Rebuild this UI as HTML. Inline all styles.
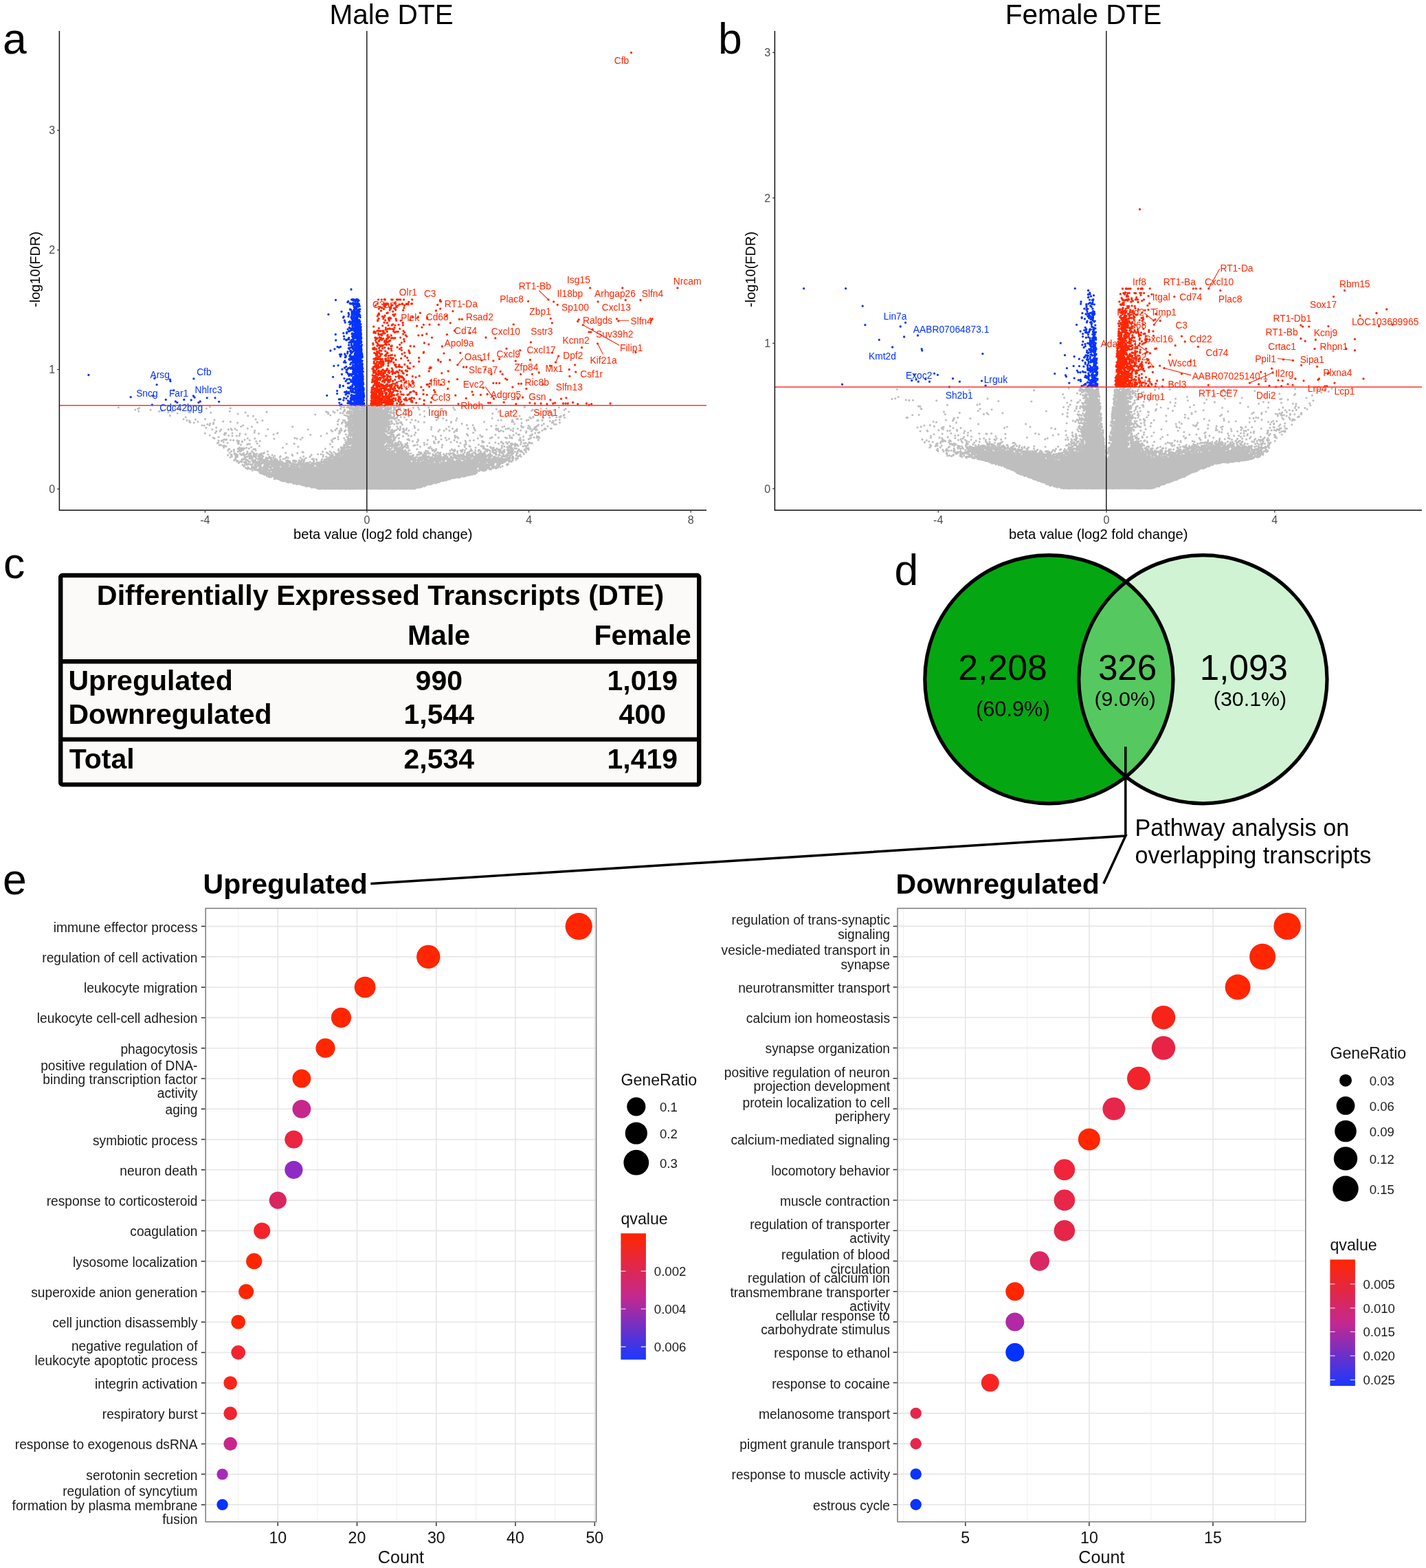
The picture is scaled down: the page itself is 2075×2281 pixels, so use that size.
<!DOCTYPE html>
<html lang="en">
<head>
<meta charset="utf-8">
<title>Differentially expressed transcripts: volcano plots, Venn diagram and pathway analysis</title>
<style>
html,body{margin:0;padding:0;background:#fff}
body{width:2075px;height:2281px;overflow:hidden}
svg{display:block;font-family:'Liberation Sans', sans-serif}
</style>
</head>
<body>
<svg width="2075" height="2281" viewBox="0 0 2075 2281" role="img" aria-label="Figure: volcano plots of male and female differentially expressed transcripts, summary table, Venn diagram and pathway dot plots">
<rect width="2075" height="2281" fill="#fff"/>
<path d="M398.2 677.8L398.2 696.8L408.8 699.2L414.8 701.2L416.8 701.2L417.2 701.8L423.8 702.8L430.8 704.8L435.2 705.2L442.2 707.2L446.8 707.8L453.8 709.8L458.2 710.2L458.8 710.8L460.2 710.8L460.8 711.8L462.2 712.2L603.8 712.2L604.8 710.8L612.2 709.2L614.2 708.2L615.8 708.2L621.8 706.2L627.2 705.2L629.2 704.2L636.8 702.8L638.8 701.8L644.2 700.8L646.2 699.8L651.8 698.8L653.8 697.8L665.2 695.8L665.8 695.2L667.8 695.2L668.2 694.8L670.2 694.8L670.8 694.2L672.8 694.2L673.2 693.8L675.2 693.8L675.8 693.2L677.8 693.2L678.2 692.8L680.2 692.8L687.8 690.2L689.2 690.2L692.8 688.8L692.8 667.8L687.8 668.8L687.2 669.2L685.2 669.2L682.8 670.2L667.8 671.8L667.2 672.2L663.8 672.2L663.2 672.8L659.8 672.8L659.2 673.2L603.8 675.2L577.2 659.2L565.2 655.2L563.2 655.2L558.2 650.2L558.2 648.2L558.8 647.8L558.8 640.8L559.2 640.2L559.2 634.8L559.8 634.2L560.8 619.8L561.2 619.2L562.2 605.2L562.8 604.8L562.8 595.8L513.2 595.8L515.8 649.8L510.2 655.2L505.2 655.2L489.2 671.8L488.2 671.8L476.8 676.8L474.2 677.2L462.8 682.2L414.8 681.2L414.2 680.8L409.8 680.2L407.2 679.2Z" fill="#bebebe" fill-rule="evenodd"/>
<path d="M305.4 591.7h0M497.1 592h0M507.2 592.3h0M518.2 591.9h0M520 591.8h0M522.1 591.8h0M526.4 591.8h0M528 592.2h0M530.1 592.3h0M533.2 592.4h0M536.4 592.2h0M536.8 592.1h0M540.4 592.5h0M540.6 592.2h0M540.6 591.9h0M541.3 592.2h0M543.6 591.9h0M545.9 591.8h0M546.1 592.2h0M546.6 591.9h0M548.5 591.5h0M548.5 591.5h0M552.3 592h0M554.2 592h0M554.5 592.1h0M554.8 591.8h0M555.6 591.6h0M556.6 591.6h0M557.3 592.1h0M558.9 592h0M564.4 592.3h0M569.1 592.3h0M573.2 592.2h0M577.2 591.7h0M578 591.5h0M580.1 592.1h0M763.3 592.4h0M763.5 591.8h0M172.4 592.8h0M500.6 592.5h0M505.1 592.8h0M507.7 592.6h0M510.1 592.8h0M510.9 592.9h0M512.2 593.2h0M512.2 592.7h0M513.8 593h0M516 593.4h0M517.6 593.1h0M518.8 592.7h0M523.2 593.4h0M523.5 593.4h0M527.4 593.5h0M529.2 593.1h0M531.3 592.6h0M533.7 593.3h0M534.8 592.7h0M536 592.8h0M536.6 593h0M539.5 592.6h0M539.7 592.8h0M540.6 593.5h0M541 593.2h0M542.4 593.4h0M542.4 593.3h0M551 593.2h0M551.6 593h0M553.2 593.2h0M553.5 593h0M556.9 592.5h0M560.8 592.6h0M562.4 593.2h0M562.9 593.4h0M564.7 593h0M564.8 593.4h0M568.1 592.9h0M573.2 593.3h0M574.8 593.1h0M601.4 593.1h0M608.5 592.9h0M623.7 592.9h0M659.7 593.1h0M813.4 592.7h0M202.8 593.6h0M260.2 594.1h0M300.4 594.2h0M335.3 593.8h0M510.1 594.2h0M510.9 593.6h0M514.1 593.9h0M515.8 593.9h0M516 594.4h0M519.6 594.3h0M525.7 594.2h0M525.9 594.1h0M527.3 593.7h0M534.4 593.8h0M535.5 594.2h0M541.2 593.6h0M542.4 594h0M544.1 594h0M545.4 594.4h0M549.5 594.5h0M549.8 593.8h0M550.3 593.5h0M554.9 593.9h0M561 594.1h0M564.3 594.2h0M564.6 593.8h0M565.3 594h0M566.2 594h0M573.6 594h0M582.4 593.9h0M795.1 594.3h0M200.6 594.7h0M255 594.9h0M495.5 594.5h0M509 594.5h0M509 594.9h0M511.8 595.3h0M512.3 594.7h0M513.9 594.6h0M516.3 594.6h0M518.8 595h0M518.9 595.2h0M520.4 594.7h0M521.5 594.7h0M526.8 594.9h0M528.5 595.1h0M528.7 594.5h0M529.5 595.1h0M531.3 595.1h0M531.8 595h0M533 594.8h0M538.3 594.8h0M539.3 594.9h0M540 594.6h0M540.2 594.8h0M540.4 594.6h0M541.4 594.6h0M544.3 595h0M544.9 594.5h0M545.2 594.8h0M546.9 595.1h0M547.4 595.3h0M547.6 595.4h0M548.8 595.4h0M555.5 595.3h0M555.7 594.8h0M559.9 595.4h0M562.4 595.3h0M565.9 594.6h0M568.8 595.1h0M574.2 595.1h0M580.2 594.8h0M641.8 595h0M643.2 594.8h0M722.4 595.3h0M823.3 594.6h0M196.7 596h0M219.1 596.3h0M501.4 596.1h0M513.3 595.8h0M513.4 595.5h0M513.7 595.6h0M515.4 595.7h0M517.5 596.4h0M526.8 595.6h0M529.3 596.2h0M530.7 596.3h0M531.5 596h0M536.2 596.4h0M538.5 595.8h0M542.4 595.8h0M548 596.2h0M548.4 596h0M552.3 596.1h0M555.3 595.7h0M559.6 595.7h0M560.4 596.2h0M561.2 595.7h0M561.6 596.3h0M562.4 596.4h0M564.6 596.4h0M566.1 595.5h0M575.8 596.4h0M587.9 595.6h0M592.6 596.5h0M609.9 595.8h0M661.6 595.9h0M775.3 596h0M821.2 596.4h0M247.1 596.5h0M491.1 596.7h0M501.6 597h0M515.2 597.2h0M515.3 596.9h0M520 597.5h0M529.3 596.8h0M531.9 597h0M531.9 596.8h0M532.4 597.4h0M534 596.7h0M534.2 596.7h0M537.3 596.9h0M538.2 597.3h0M538.6 596.8h0M540.2 596.6h0M543.5 597.4h0M545.5 597.3h0M546.4 597.4h0M550.5 597h0M551.8 597.2h0M553 596.9h0M560.1 597h0M561.8 596.7h0M562.4 596.8h0M563.1 596.5h0M563.7 596.9h0M564.7 596.8h0M572.5 597h0M201.8 598.2h0M235.2 598h0M251.2 598.1h0M277.9 597.9h0M334.3 598.4h0M508.8 598.2h0M515.3 598h0M565.5 598.5h0M569.1 598.3h0M577.9 598.4h0M578.3 598.4h0M617.3 598.1h0M773.6 597.5h0M796.6 597.6h0M231.7 598.5h0M250.4 598.7h0M275 599.5h0M388 599.4h0M474.5 598.8h0M484.8 598.7h0M500.3 598.8h0M506.1 598.6h0M506.5 598.6h0M509.4 598.7h0M511.4 599.2h0M511.5 598.6h0M515.1 599.2h0M515.2 599.1h0M561.9 599.1h0M562.3 599.5h0M562.4 598.5h0M564.1 599.5h0M595.8 599.4h0M725.4 598.8h0M795.1 599.3h0M796.9 598.5h0M799.7 599h0M827.8 599h0M244.8 599.8h0M276.5 600h0M306.8 600.2h0M357.2 600.1h0M475.9 599.6h0M477.6 600.4h0M487 600.2h0M514.3 600h0M561.4 599.7h0M565.7 599.5h0M567.8 599.8h0M572.1 600.5h0M573.2 599.8h0M648.8 600.4h0M745.7 599.8h0M780.3 599.7h0M258.2 601.2h0M495.3 600.9h0M498.8 601h0M504.4 600.7h0M506 601.3h0M507.7 601.1h0M508.6 601h0M560.5 600.6h0M562.7 600.5h0M570 600.5h0M572.9 601.2h0M574.1 600.9h0M346.1 602h0M477.7 602h0M511.2 601.9h0M511.7 602.2h0M514.8 601.6h0M563.9 602.2h0M716.8 601.6h0M784.3 601.7h0M458.8 603h0M509.8 603.2h0M514.4 603.1h0M560.7 603.2h0M563.4 602.9h0M567.8 602.8h0M611 603.2h0M803.9 602.5h0M480.8 604h0M501.2 603.7h0M512.1 603.8h0M515.1 604h0M562.1 603.8h0M563.3 604.3h0M564.9 604.2h0M566.3 603.8h0M573.7 603.8h0M820.1 604.3h0M821.1 603.5h0M247.5 604.6h0M360.8 604.9h0M368.4 605.2h0M504 604.7h0M505.3 605.1h0M509.7 604.6h0M510 605.4h0M514.2 605.2h0M561.5 604.6h0M561.8 605.4h0M563.9 604.8h0M565.6 605.1h0M566.6 604.9h0M567 605.1h0M568.5 604.8h0M573.6 605h0M638.7 605.1h0M756.1 605.1h0M803.9 605h0M816.3 605.4h0M507.5 605.9h0M507.8 605.8h0M509.4 605.6h0M510.1 606.1h0M510.7 606.3h0M513.2 605.6h0M514.3 605.8h0M515.4 606.1h0M563.3 606h0M565.6 605.6h0M566.4 606.4h0M568.9 606.3h0M573.1 606.2h0M578.4 606h0M594.9 605.8h0M617.8 605.9h0M736.4 606h0M776 606.2h0M270.2 606.9h0M506.9 607.5h0M507.3 607.3h0M508.2 607.1h0M512.9 606.6h0M514.4 607.2h0M561.2 607.3h0M562.6 607h0M565.2 607.1h0M571.7 607h0M583.1 606.8h0M588.7 607.3h0M770.8 607.1h0M775.7 607.2h0M799.8 607.4h0M809.7 607h0M814.1 606.6h0M815.5 606.7h0M511.6 607.5h0M513.2 608.2h0M513.9 607.5h0M567.7 607.7h0M568.8 608.5h0M570.1 608.1h0M572.7 607.6h0M575.6 608.4h0M577.6 608.1h0M637.6 608.4h0M716.2 608.5h0M772.5 608.5h0M790.3 607.6h0M790.5 607.9h0M821.7 607.5h0M506.7 609.1h0M509.9 608.6h0M509.9 608.7h0M513.9 609.3h0M564.2 609.2h0M564.9 609.1h0M565 609.4h0M566.8 608.8h0M571.2 608.5h0M576 608.8h0M644.8 608.7h0M664.8 608.5h0M753.5 609.3h0M267.1 609.8h0M284.5 610.2h0M298.5 609.6h0M372.2 610.1h0M493.1 610.2h0M508 610.4h0M515.3 610.2h0M516 610.2h0M562.6 609.7h0M565.6 610.3h0M574.2 609.8h0M752.1 609.8h0M758.4 609.6h0M312 610.9h0M499.4 611.3h0M509.8 610.9h0M511.1 611.1h0M512.5 610.9h0M515 610.6h0M579.8 610.9h0M580.5 611.2h0M591.6 610.5h0M599.2 610.6h0M604.7 611.4h0M635.3 611.1h0M649.7 611.4h0M724.9 611.2h0M729.3 611.3h0M745.5 611.1h0M768.8 610.7h0M783 611.4h0M789.2 611.4h0M808.5 611.3h0M814.2 610.7h0M272 611.6h0M275.6 612.2h0M381.9 611.7h0M501.6 611.5h0M511.5 612.2h0M561.2 611.6h0M561.4 612.1h0M561.7 611.8h0M562 611.8h0M562.9 611.9h0M563.4 612.4h0M569.8 612.2h0M663.7 611.5h0M766.4 611.6h0M781.8 611.8h0M800.2 612.5h0M805 612.2h0M324.7 613.1h0M335.3 613.4h0M491.7 612.8h0M507.5 613.4h0M512 612.7h0M512.4 612.6h0M559.7 613.2h0M561.7 613.1h0M566.8 613.2h0M569.7 613.1h0M576.5 612.9h0M608.8 613.3h0M745 613.4h0M275.7 613.6h0M276.9 614.5h0M288 613.5h0M374.4 614.4h0M498.7 614.2h0M502.4 614.2h0M503 614.1h0M505.9 614.3h0M509.8 613.6h0M509.9 613.8h0M510.3 614h0M514.4 613.6h0M560.8 614.2h0M563.9 614.4h0M564.8 614h0M565.7 613.8h0M583.5 614.4h0M617.3 614.2h0M656.3 614.5h0M656.7 613.5h0M704.6 613.6h0M746.9 613.7h0M282.3 615h0M310.8 615h0M345.6 615.1h0M507.7 614.6h0M564.5 615.1h0M566.5 615h0M582.3 614.6h0M583.8 615.4h0M584.2 615.2h0M597.2 614.8h0M803.2 614.7h0M804.8 614.8h0M814.4 614.7h0M305.7 616.2h0M497.4 615.9h0M503.4 616.2h0M506.3 616.3h0M507 616.3h0M507.7 615.6h0M509.1 616.2h0M511.6 616.1h0M512.9 616.1h0M515.5 616.1h0M560.4 615.8h0M560.8 615.9h0M564.6 616.1h0M570.6 615.7h0M577.2 616.3h0M578.6 616.2h0M579.2 615.6h0M672.1 616.4h0M759.1 615.6h0M301.8 617.2h0M310.2 616.8h0M491.6 617.4h0M514.1 616.6h0M514.8 616.6h0M562 616.8h0M562.5 617.4h0M568.3 617h0M573.6 617.1h0M748.6 616.7h0M791.3 616.6h0M806.5 617.2h0M809.2 617.3h0M304.9 618.4h0M505.2 618.3h0M507.2 618.4h0M509.6 618h0M510.3 618.1h0M511.2 618.4h0M515.7 618h0M559.4 618.2h0M559.5 618h0M563.2 618.5h0M565.7 618h0M585.4 617.7h0M679.4 618.4h0M783.6 617.9h0M294 618.7h0M297.2 619h0M353.6 618.7h0M506.2 619.2h0M506.5 619.2h0M509.7 619.1h0M511.1 618.9h0M511.6 619.3h0M511.7 619.1h0M561.8 619h0M688.1 618.6h0M722.1 619h0M758.5 619.4h0M769 619.3h0M782.5 619h0M788.5 618.7h0M503.1 619.5h0M512.1 620h0M514 619.7h0M564.6 620.5h0M602.9 619.8h0M714.9 619.7h0M733.9 620.2h0M780.7 620.3h0M797 620.2h0M350.7 620.5h0M366.5 620.8h0M425.6 620.9h0M503.4 621h0M507.3 621.1h0M507.6 620.8h0M509.1 621.2h0M509.2 621.3h0M511.1 620.6h0M511.7 620.8h0M513.6 620.6h0M514.9 620.6h0M515.6 620.6h0M561.7 620.9h0M562.3 621.3h0M565.2 620.8h0M567.7 621.1h0M577.8 620.6h0M582.6 620.9h0M653.3 620.7h0M731 621h0M761.5 621.2h0M771 621h0M299.9 622.2h0M314.7 622.1h0M508.9 621.7h0M512 621.6h0M513.4 622h0M565.2 621.8h0M603.6 622.4h0M627.8 621.6h0M689.6 622h0M759.2 621.5h0M778.5 621.6h0M778.9 622h0M360.3 623.2h0M490.1 623.4h0M507.2 622.7h0M508.5 622.6h0M513.7 623h0M514.1 623.5h0M514.6 623.2h0M565.2 622.6h0M579.3 623.3h0M587.4 623.5h0M591.8 623.2h0M658.5 623.5h0M681 623.4h0M721.9 623.2h0M739 623.4h0M740.6 623.3h0M746.8 623.5h0M768.4 622.9h0M771.9 623.2h0M777.5 623.4h0M779.6 622.5h0M793.1 623.3h0M801.5 623.2h0M802.3 623.5h0M336.2 623.8h0M342 623.7h0M389.8 624.4h0M496 623.5h0M509.3 624h0M510.9 623.5h0M511.6 623.9h0M512.3 623.9h0M514.6 624.1h0M516.2 623.6h0M558.6 624h0M560.7 623.9h0M561.3 624h0M566.7 623.9h0M582.5 624.1h0M586.4 624.1h0M649.3 624.1h0M665 624.4h0M690.3 624.3h0M724.8 623.8h0M736 624h0M753.5 623.7h0M771.4 624.3h0M794 624.2h0M308.8 624.8h0M321.7 624.8h0M332.4 624.9h0M448.1 624.7h0M496.5 624.6h0M509.2 625.4h0M511.3 624.9h0M511.5 625h0M559.1 625.5h0M561.1 625.4h0M561.1 625.5h0M561.4 624.5h0M561.5 624.8h0M564.8 624.5h0M570.5 625.1h0M577.2 625.1h0M581.6 625.4h0M591 625.1h0M608.6 625.3h0M627.6 624.8h0M639.7 625.3h0M708.1 624.8h0M721.9 625.1h0M724.6 625.4h0M743.4 625.5h0M774.9 625h0M781.4 625.3h0M791.9 624.5h0M337.4 625.6h0M344.6 625.7h0M370.7 626.4h0M481.9 625.8h0M488 625.6h0M496.9 626.3h0M502.7 625.9h0M506.9 625.8h0M509.1 625.5h0M512.5 625.5h0M516 626h0M560.1 626.2h0M565.6 625.8h0M571.1 625.9h0M574.9 626.3h0M588.1 626.3h0M594.9 626.3h0M654 626.4h0M663.1 626.2h0M691.5 626.1h0M729 626.4h0M757.5 626.1h0M779.8 625.6h0M789 626.3h0M314.9 627.4h0M320.2 627.1h0M494.1 626.7h0M501.6 627.4h0M516 627.2h0M516.8 626.8h0M558.8 626.5h0M561.4 627.4h0M562 627.1h0M564.8 626.7h0M568.7 626.8h0M573.1 627.4h0M573.2 627h0M573.6 627.4h0M573.8 627.1h0M646.1 626.6h0M664.6 626.9h0M726.2 627.5h0M746.4 626.9h0M765.9 627.2h0M773.6 627.3h0M483.7 627.5h0M508 628h0M511.5 627.9h0M513.8 627.8h0M516.4 627.8h0M558.4 628.4h0M561.3 628h0M562.1 627.9h0M562.5 628.1h0M569.1 627.9h0M586.1 628.3h0M637.9 627.6h0M660.9 628.5h0M732.4 627.5h0M370.2 629.3h0M493.9 628.7h0M494.8 628.9h0M509.7 628.9h0M513.9 628.7h0M513.9 628.8h0M514.4 629.2h0M515.8 629.2h0M558.3 628.9h0M567.6 629.3h0M572.1 629h0M587.8 629.1h0M604.7 629.4h0M688.7 629.4h0M765.7 629.2h0M783.1 629.5h0M784.9 628.7h0M298.3 630.2h0M313.4 629.8h0M327.6 629.9h0M328.9 630.2h0M338.1 630.1h0M403.6 630.4h0M404.1 629.7h0M508.4 629.9h0M514.4 629.6h0M515.1 630.1h0M564.3 630.2h0M565.4 629.8h0M565.6 630h0M565.8 630.5h0M567.8 630.1h0M570.8 629.9h0M751.2 630.2h0M778.6 630h0M326.8 630.8h0M349.1 630.9h0M376.4 630.8h0M475.7 630.6h0M493.2 630.7h0M508.8 630.7h0M508.9 631.3h0M510.8 631h0M511 631.3h0M514.2 631.3h0M558.6 630.8h0M569.3 631.4h0M570.2 631.2h0M590.8 630.8h0M592.5 631.1h0M679.3 631.5h0M326.4 632.2h0M357.3 631.7h0M398 632h0M503.4 632h0M510.3 631.6h0M512.2 631.8h0M516.6 631.9h0M559.9 631.6h0M570.3 631.6h0M580.9 632.5h0M580.9 631.8h0M754.2 632.3h0M755.7 632.3h0M774.5 631.9h0M305.2 633.2h0M327 632.6h0M451.8 632.6h0M507.6 633.1h0M509.7 633.4h0M509.9 632.7h0M510.8 632.6h0M514.1 633.5h0M515.3 633.2h0M557.7 633.1h0M559.3 633.2h0M561.3 632.5h0M561.6 633.2h0M572.7 632.6h0M578.8 632.7h0M578.9 632.7h0M603.3 632.7h0M680.8 633.4h0M698.7 633.1h0M721 632.5h0M747.2 632.9h0M773.1 633.1h0M332.6 633.7h0M338 634h0M344.4 634.3h0M348.2 633.9h0M387.2 634h0M467 634.2h0M509.7 633.9h0M512.8 633.6h0M515.3 634.2h0M515.7 633.7h0M562.7 634h0M568.5 633.6h0M571.9 634.4h0M577.7 633.7h0M594.4 633.5h0M598.6 634.4h0M629.8 634.4h0M641.6 633.8h0M661.9 633.7h0M741.6 633.8h0M771.3 633.7h0M491.9 635.5h0M505.8 635.2h0M510 634.5h0M513.4 634.6h0M514.9 634.9h0M559.9 635h0M565.4 635.4h0M566.5 635.1h0M572.9 635h0M586.4 634.6h0M665.2 635.5h0M702.1 634.9h0M761.6 635h0M781.3 634.8h0M783.8 635.3h0M318.1 635.7h0M505.1 635.6h0M506.5 636.3h0M513.5 635.7h0M513.8 636.1h0M562.6 635.7h0M564.4 636.3h0M565.7 636h0M567.2 635.6h0M569.5 635.8h0M633.5 635.9h0M662.9 635.8h0M700.7 635.5h0M715.7 636h0M716.1 636.5h0M744.6 636.3h0M777.2 636.2h0M782.1 636.2h0M310.2 636.8h0M429 637.2h0M440 636.7h0M487.6 637.4h0M500.7 637.5h0M515.6 637.3h0M516 636.8h0M557.7 637.1h0M561.6 636.5h0M574.3 636.6h0M575.8 636.6h0M648.2 636.9h0M662.2 636.8h0M666.9 637.5h0M713.2 637.5h0M725.4 636.6h0M735.3 636.5h0M737.6 637.3h0M742 636.8h0M757 637h0M772.6 636.8h0M781.3 636.8h0M784.9 637h0M312.1 637.8h0M360.3 637.8h0M370.7 637.9h0M398.9 638.3h0M432 638.1h0M485 638.3h0M507.4 638.4h0M508.7 638.4h0M510.1 637.9h0M510.2 637.7h0M559.6 637.8h0M560.3 637.6h0M562.8 637.8h0M563.2 638.2h0M565.1 638h0M567 637.7h0M572.7 637.6h0M580.4 637.6h0M653.4 638.3h0M695.4 637.8h0M745 637.5h0M770.8 638h0M326.5 639.4h0M329.6 639.4h0M437.5 639.2h0M492.1 638.8h0M506.1 638.7h0M509.9 639h0M512.1 638.7h0M513.3 638.6h0M514 639h0M515.8 639.4h0M517.1 639.3h0M562.5 638.8h0M565.9 639.1h0M569.5 639.1h0M573.2 639.3h0M574.2 639.4h0M592.9 639.3h0M594.3 639.3h0M594.9 639.4h0M634.2 638.9h0M642.1 639h0M769.3 639h0M328.9 639.9h0M335.4 640.2h0M339.7 640.4h0M356 639.7h0M363.3 640.5h0M502.4 640.3h0M511.4 639.9h0M514.6 640.2h0M558.3 640.4h0M558.7 640.1h0M559.1 640.2h0M559.7 639.7h0M561.8 639.7h0M562.2 639.6h0M563.3 639.5h0M567 640.3h0M574.3 640.2h0M608.3 639.5h0M622.3 640.1h0M649.8 640.2h0M661 640.4h0M755.6 640.3h0M756.3 639.6h0M757.9 640.4h0M761.8 640.2h0M783.3 639.9h0M318.2 641h0M322.4 641.3h0M323.9 640.5h0M344.8 640.8h0M482.7 640.6h0M505.8 641.2h0M506.2 641.1h0M507.7 640.7h0M509.8 641.1h0M512.8 641.4h0M557.9 641.2h0M558.3 640.7h0M558.4 640.9h0M560.6 641.2h0M561.1 641h0M565.5 640.7h0M595.6 640.6h0M608.5 640.9h0M677.2 641.2h0M683.8 640.9h0M689.4 640.5h0M701.7 641.5h0M346.8 642.1h0M347.3 642.2h0M347.7 641.6h0M352.3 642.1h0M372.9 642h0M378.4 641.5h0M507 642.2h0M509.1 642.3h0M509.2 642.1h0M514 641.8h0M514.5 641.9h0M517.4 642h0M559.4 641.7h0M559.5 642.3h0M564.7 642h0M566.6 641.8h0M568.1 641.8h0M570 642.4h0M571.1 641.6h0M571.7 641.9h0M580.9 642h0M600.5 641.9h0M631.4 642.4h0M325.3 643.2h0M352.5 642.9h0M483.7 642.8h0M503.8 643.3h0M504.3 643.2h0M511.5 643.3h0M512.6 642.7h0M513.7 643.5h0M516.7 643.4h0M563.5 642.6h0M565.6 643.2h0M579.5 643.4h0M606.7 643.3h0M638.7 642.6h0M656 643.2h0M665 642.9h0M702.2 643.4h0M703.9 643.1h0M729.1 642.9h0M736.5 643.2h0M740.7 643.1h0M758.4 643.4h0M317.6 643.9h0M331.2 644.3h0M346 643.5h0M502.8 643.8h0M503.8 644.2h0M505.5 643.9h0M508.4 644h0M510.6 643.8h0M512 643.9h0M512.1 643.7h0M513.1 644.4h0M513.6 643.7h0M514.7 643.8h0M516.2 643.5h0M560.6 643.6h0M564.3 644.1h0M564.9 643.9h0M567 644.1h0M567.4 644.3h0M568.9 643.6h0M571 643.9h0M575.3 644h0M578.8 644.1h0M583.1 643.9h0M583.4 643.8h0M617.2 644.2h0M631.9 644.4h0M637.7 644h0M669.9 644.5h0M677.9 643.5h0M712 644.5h0M720.8 643.8h0M730.7 643.9h0M765 644.4h0M769.9 643.6h0M770.5 643.9h0M316.5 644.6h0M346.6 645.5h0M347.5 645.3h0M374.4 645.3h0M428.2 645.4h0M503.7 644.7h0M505.6 645.5h0M508.3 644.9h0M509.1 645h0M512.2 644.7h0M515.8 644.5h0M559.2 645.2h0M568.6 644.8h0M571.1 644.9h0M574.7 645.3h0M583 645.2h0M592.8 644.6h0M632.5 644.8h0M725.6 645.3h0M732.5 645.5h0M738.2 645.5h0M738.3 645h0M744.9 645.1h0M750.2 645.5h0M762.4 644.9h0M772.4 644.8h0M774.2 644.7h0M359.8 646.5h0M361.3 645.7h0M363.3 645.9h0M417.2 645.7h0M480.6 646.1h0M505.1 646.3h0M505.6 645.7h0M507.1 645.8h0M508.2 645.8h0M509.5 646.2h0M514.2 646.1h0M515.1 645.6h0M557.2 646.3h0M557.3 646.1h0M566.6 645.5h0M577.5 645.9h0M579.5 645.7h0M590 645.9h0M592 645.8h0M621.4 646.2h0M678 646.4h0M743.3 645.6h0M748.6 646.4h0M748.9 645.7h0M750.3 645.8h0M757.6 646.3h0M768.2 646h0M319.2 647.4h0M321.6 647.5h0M350.5 647h0M500.6 647.2h0M500.7 647.3h0M502.2 647.4h0M502.4 647.1h0M502.5 647.3h0M512.5 647.5h0M515.9 646.8h0M563.3 646.9h0M566.4 647.2h0M570.9 647h0M573 647.3h0M573.7 647h0M574 646.7h0M574.2 647.4h0M580.8 647.1h0M584.9 646.8h0M585.5 647.1h0M592.2 647.3h0M607.4 647.3h0M617.6 647.2h0M643.6 647.4h0M675.9 647.3h0M696.5 646.8h0M745.7 646.6h0M752.6 646.7h0M326.2 648.2h0M502 647.6h0M512.4 648.4h0M513.7 648.2h0M557.6 647.6h0M562.4 648h0M565.3 648.4h0M567 648.2h0M569.5 647.9h0M569.5 647.7h0M574 648.3h0M576.1 647.5h0M576.2 648.2h0M577.5 647.9h0M578.8 647.6h0M578.9 647.7h0M584.3 647.8h0M589.5 648.4h0M601.9 648.2h0M604 647.6h0M744 648.1h0M750.7 647.7h0M763.7 648.5h0M767.6 648.5h0M324.6 648.7h0M328.7 649.2h0M328.8 649.4h0M377.5 648.8h0M500.5 649.3h0M501.5 649.2h0M505.1 649h0M507 649h0M513.1 649.1h0M513.4 649.1h0M559.1 649.5h0M560.9 649.3h0M566.5 649.1h0M569.5 649h0M570.2 649.5h0M570.4 649h0M570.5 649.3h0M570.9 648.8h0M572.2 648.6h0M572.5 648.8h0M576.3 648.5h0M593.5 648.7h0M667.6 649h0M682.9 648.7h0M700.1 648.9h0M702 649h0M703.1 648.9h0M709 648.7h0M730.3 648.5h0M733.6 649.3h0M740.8 648.6h0M741.4 649.3h0M749.3 649.3h0M753.8 648.8h0M754 648.5h0M761 649.2h0M764.9 648.7h0M433.9 649.9h0M483.8 650.1h0M506.1 650.2h0M506.8 650.2h0M508.1 650.4h0M509.6 650.3h0M511.9 649.8h0M512.2 650h0M515 649.9h0M516.5 649.9h0M560.3 649.6h0M562.6 649.6h0M566.5 649.5h0M576.9 649.8h0M577.5 649.5h0M584 649.9h0M586.1 650h0M587.9 650.3h0M588.4 649.9h0M593.4 650.2h0M611.4 649.7h0M626.3 650h0M676.3 650h0M684.2 649.8h0M703.7 649.7h0M713.6 650.4h0M733.9 649.8h0M737.9 650.4h0M740.9 649.6h0M325.7 651.1h0M348.5 651.1h0M358.5 651.5h0M365.6 650.6h0M411.6 651.2h0M496.2 650.5h0M499 651h0M503.6 651.4h0M505.2 650.7h0M507.7 651.3h0M510.3 650.9h0M511.2 651h0M513.1 650.8h0M557.8 650.9h0M558.3 650.7h0M562.2 651.3h0M573.7 651h0M574.9 651.2h0M576.8 651h0M581.5 651.4h0M581.6 650.9h0M591.4 651.1h0M643 650.8h0M692.1 651.2h0M704.1 650.8h0M714.6 651.4h0M717.8 651h0M718.3 651.2h0M730.4 651h0M740.8 651h0M743.7 650.5h0M765.8 651.4h0M350.1 652h0M352 652.2h0M353.1 652.2h0M354.8 652.1h0M355.5 652.4h0M496.4 651.7h0M497.8 652.1h0M501.8 651.6h0M506.9 651.7h0M513.2 651.9h0M562.7 651.7h0M563.6 652.3h0M565.7 651.9h0M565.8 652h0M570.3 651.8h0M576.5 652.3h0M578 652h0M578.9 652.1h0M585.3 652.3h0M586 651.9h0M593.8 651.7h0M623.5 651.6h0M625 651.9h0M702.9 651.6h0M704.3 652.5h0M717.2 652.4h0M717.9 651.7h0M722.8 652.5h0M730.2 652h0M743 651.6h0M745.6 652h0M749.1 652.3h0M751.4 652.2h0M767.2 652.4h0M769.2 652h0M333.9 653.3h0M346.1 652.7h0M348.6 652.6h0M362.3 652.5h0M370.1 653.3h0M371.4 653.4h0M473.4 652.7h0M498.1 652.6h0M499 652.6h0M499.6 652.7h0M512.1 653.3h0M512.2 652.9h0M512.8 653.5h0M561.3 652.7h0M567.1 653h0M567.9 653.3h0M574 653.1h0M575.7 652.7h0M576.9 653.1h0M580 652.8h0M580.7 653h0M584.3 653.1h0M628.3 652.9h0M634.7 653.2h0M678.3 652.8h0M705.9 653.2h0M716.8 653.5h0M717.7 652.6h0M743.4 652.8h0M749.6 652.6h0M332.7 653.6h0M340.5 654.3h0M348.2 653.7h0M353.7 654.2h0M368.7 653.8h0M492.8 653.6h0M497 654.4h0M498.2 653.7h0M500.1 654.2h0M500.3 654.2h0M501.1 654h0M506.8 653.6h0M506.9 654h0M509.5 654.3h0M510.4 654.1h0M561.4 653.5h0M566.6 653.8h0M574.4 654.3h0M575 654h0M580.4 653.7h0M582.2 654.3h0M585.3 654.4h0M585.6 654.3h0M606.8 653.5h0M657.4 653.6h0M661.7 654.1h0M673.2 654.3h0M685.4 653.6h0M708.2 654h0M710 654.1h0M719.1 654.2h0M720.7 654.4h0M724.7 653.8h0M727.4 653.9h0M733.8 654.4h0M737.9 654.2h0M739 653.6h0M740 654.4h0M744.6 653.7h0M754.6 653.7h0M755.2 653.7h0M763.5 653.7h0M769.2 654.3h0M331.8 655.2h0M340.3 655.4h0M348.6 655.1h0M350.8 654.5h0M353.2 654.7h0M372.1 655.1h0M492.2 655.3h0M497.9 654.9h0M504.4 654.6h0M507.1 655h0M507.3 655h0M508.2 655h0M508.3 654.9h0M509 655h0M566.6 655.3h0M576.4 655.3h0M579.3 655h0M579.3 654.9h0M580.5 654.8h0M580.6 655h0M581.8 655.2h0M582.9 655.3h0M589.7 654.9h0M596 654.9h0M631.3 654.5h0M634.1 655.2h0M659.4 655.2h0M670.3 655.3h0M676.2 655.3h0M684.9 655.4h0M691.8 655h0M696.6 654.6h0M698 654.9h0M707.4 654.5h0M709.5 654.8h0M712.6 655.3h0M716.7 654.8h0M720.5 654.5h0M725.9 654.8h0M728.4 655.5h0M739.4 655.2h0M741.4 654.7h0M746.6 654.9h0M754.7 654.6h0M763.4 655h0M764.6 655.2h0M765.1 655.3h0M765.3 655.1h0M347.7 656.2h0M350.4 656.4h0M366.6 656.5h0M495.3 656.3h0M498 656.1h0M501.5 656.5h0M503.3 655.7h0M504.4 655.6h0M506.6 656h0M508.1 655.7h0M562.8 656.1h0M563.8 656.5h0M564.5 656.3h0M565 656.1h0M570.2 655.6h0M571.5 656.4h0M572.3 656.3h0M578.1 655.6h0M581.8 656.5h0M583 655.8h0M584.2 655.7h0M585 656.1h0M586.1 656.2h0M594.4 655.5h0M619.5 655.7h0M621.1 656.3h0M629.4 655.6h0M655 655.6h0M661.9 655.8h0M665.7 656.3h0M685.4 655.6h0M686.9 655.7h0M695.9 656.2h0M713.2 656.2h0M717.5 655.9h0M722.4 656.5h0M726.1 656h0M728.8 655.9h0M732.3 656.1h0M743.4 656.4h0M745.6 656.1h0M753.6 655.8h0M756.7 656.4h0M758.5 655.8h0M336.6 656.6h0M346.2 656.9h0M360 656.9h0M389.5 656.8h0M469.4 657.1h0M480 656.8h0M496 657h0M496.5 657.1h0M497.5 656.6h0M500.2 657.2h0M501.3 656.8h0M502.9 657.1h0M503 656.9h0M505.7 656.5h0M565.7 657.4h0M567.6 657.2h0M571.7 657.1h0M573.5 656.8h0M577.3 656.7h0M580.6 657.2h0M581.6 657.2h0M582.5 657.3h0M583.4 657.1h0M583.5 657.4h0M585.1 657.1h0M586.8 656.8h0M587.7 656.5h0M589.8 656.9h0M591.3 657.3h0M622.5 656.6h0M623.1 657.4h0M632.4 657.2h0M661 656.5h0M671.3 657.3h0M672.4 656.8h0M682.8 657.5h0M682.9 656.7h0M699.7 657.2h0M705.6 657.4h0M708.8 656.8h0M716.8 657.5h0M722 657.3h0M728.4 656.5h0M732.5 656.9h0M734 656.9h0M739.9 657.2h0M749.5 657.3h0M752.9 657h0M758.6 657.1h0M759.6 657.2h0M368.5 658.5h0M440 657.6h0M441.3 658h0M475.4 658.3h0M485.9 657.6h0M503.7 658.3h0M571 658.4h0M571.5 658.3h0M577.7 658.5h0M578.8 658.2h0M579.2 658.2h0M583.9 658h0M584.4 658.2h0M587 658.2h0M587.1 658.2h0M587.3 657.6h0M588.4 658.4h0M591.6 657.7h0M609.6 657.5h0M612 658.4h0M617.8 658.2h0M637.6 658.5h0M640.8 658.5h0M676.2 658.3h0M680.1 658.2h0M689.9 658h0M691.7 658.3h0M699.6 657.6h0M720.4 658.2h0M721.6 657.8h0M726.8 658.1h0M729.4 658.3h0M731.7 658.5h0M733.9 657.8h0M740.6 658.2h0M741.8 658.1h0M744.3 657.6h0M744.9 657.6h0M746.4 658.2h0M752.5 658.5h0M765.5 657.7h0M334.2 658.7h0M341 658.9h0M354.6 659h0M359.9 659h0M364.8 659h0M382.8 659.5h0M384.4 658.9h0M415.7 658.7h0M432.7 659.1h0M482.1 658.6h0M493.1 659.3h0M493.2 658.5h0M493.7 659.2h0M495.8 659h0M496.3 659.4h0M498.7 659.4h0M500.6 658.7h0M503.1 659h0M578.1 658.9h0M582.6 658.8h0M586 659h0M587.7 659.2h0M588 659.1h0M589 659.1h0M589.4 658.9h0M591.8 659.4h0M594.6 659.1h0M613.3 659.1h0M620.1 659.4h0M636.3 658.6h0M639 659.5h0M658.8 659.4h0M659.2 659.3h0M665.6 658.7h0M691 659.3h0M698.9 659h0M699.6 658.6h0M704.5 658.8h0M713.1 659.2h0M718.1 658.8h0M721.4 659.2h0M729.4 658.5h0M730.7 658.6h0M731 659.4h0M739.4 658.6h0M743.2 658.9h0M753 658.9h0M761.9 659.5h0M343.8 660.5h0M349.1 660h0M362.3 660.3h0M369.7 659.7h0M370.7 660.2h0M373.7 660h0M379.8 659.9h0M477.1 659.5h0M488 659.6h0M490.3 660.4h0M492.7 659.6h0M503 660h0M579.1 660.1h0M579.5 659.7h0M581.5 659.5h0M582.2 659.6h0M584.7 660.4h0M584.8 660.4h0M592.5 660.2h0M592.6 659.5h0M598 659.7h0M623.1 659.6h0M625.8 659.5h0M640.5 660.2h0M650.1 660.1h0M653.4 659.9h0M654.9 659.5h0M656 659.6h0M660.5 660.2h0M674.2 660.2h0M682.3 659.7h0M687.1 659.6h0M696.8 659.8h0M699.2 660.4h0M702.5 659.7h0M703.8 660.2h0M704.2 660.4h0M720.6 659.6h0M738.8 660h0M739.1 659.7h0M740.9 659.5h0M746.7 659.6h0M752 660.1h0M341.8 661.3h0M352 660.8h0M359 660.8h0M369.3 661h0M377.4 661h0M390 661h0M425 661.4h0M462.5 660.7h0M467 660.7h0M479.5 661h0M483.3 660.7h0M484.2 661.4h0M490.7 661.1h0M492.1 660.6h0M492.6 660.6h0M497 661.4h0M501.4 661.4h0M581 660.8h0M581.2 661.3h0M584.5 660.6h0M584.5 660.7h0M590 660.7h0M590.1 660.9h0M590.8 660.6h0M592.9 661h0M594.4 660.6h0M608.6 660.9h0M610.8 661.2h0M611.2 660.5h0M617.2 660.8h0M629.9 660.9h0M633.8 660.6h0M641 661.4h0M645.6 660.6h0M670.3 661.2h0M673.5 661.3h0M679 660.7h0M679.1 661.1h0M683.6 661.1h0M692.7 660.8h0M694.7 661.5h0M696.9 660.9h0M697.8 660.9h0M697.9 661.5h0M701.2 660.9h0M703.7 661.1h0M706.1 660.5h0M710.7 661.3h0M713.2 661.2h0M713.6 660.7h0M721.2 660.8h0M721.8 661.5h0M722.1 660.8h0M722.1 661.4h0M722.3 661.2h0M726.8 661.1h0M732.7 661.4h0M737.7 661.2h0M738.7 660.6h0M744.2 660.8h0M745.3 660.9h0M762.4 660.6h0M331.7 662.1h0M336.2 661.5h0M337.1 661.6h0M345.7 662.1h0M351.2 662h0M354.1 661.6h0M356.3 661.8h0M364.2 662.3h0M364.9 661.6h0M376.8 662.3h0M380.6 661.9h0M396.2 662.1h0M453.1 661.7h0M470.2 661.9h0M483 661.8h0M488.9 662h0M490.6 662.1h0M490.9 662.4h0M492.9 661.9h0M493.8 662.4h0M494.6 662.2h0M579.2 662h0M580.2 662.4h0M581.5 661.7h0M583.9 662.4h0M585.3 662.3h0M586.3 662.2h0M586.9 661.9h0M588.3 661.5h0M590 662h0M592.5 661.9h0M601.1 662.1h0M601.6 662h0M606.8 661.8h0M607.9 661.6h0M615 661.9h0M618.3 661.5h0M619.9 662.5h0M630.1 662.4h0M630.5 661.7h0M635.2 662.4h0M637.9 662.2h0M648.4 662.2h0M653.9 661.6h0M659.7 661.9h0M662.7 661.8h0M666.8 662.2h0M667.2 662h0M667.9 662.5h0M674.5 662.1h0M680.7 661.6h0M682.1 661.7h0M683.9 661.8h0M685.4 661.9h0M688 661.6h0M692.7 662.3h0M693.1 662.1h0M695.3 662.5h0M699.8 661.8h0M703.7 661.7h0M705.4 661.9h0M706 662.4h0M706.2 662.2h0M706.4 661.7h0M713.6 662.3h0M713.8 662.3h0M725.6 662h0M736.6 662.1h0M738.5 661.8h0M738.9 662.5h0M744.5 662.1h0M751.6 661.8h0M756.9 661.6h0M343.3 663.2h0M361.8 663.2h0M364.2 663.1h0M367.8 663.5h0M370.9 663h0M372.7 662.5h0M378.7 662.8h0M381.4 662.6h0M381.9 663.2h0M399.7 663.2h0M425.7 662.7h0M481.3 663.3h0M481.7 662.8h0M484.6 663.4h0M491.6 662.6h0M492.8 662.5h0M492.8 663.4h0M498 663h0M583.2 663.1h0M584.8 662.6h0M585.2 663.1h0M588.3 662.5h0M588.3 662.6h0M589.8 663.5h0M590.9 662.8h0M592.3 663.1h0M593.3 663.2h0M594.3 663.4h0M600.8 662.7h0M617.2 663.3h0M632.3 662.9h0M639.9 663.4h0M647.3 663h0M660.9 662.9h0M660.9 662.8h0M665.6 662.6h0M666.7 663.2h0M668.2 663.4h0M668.4 662.7h0M670.6 663.1h0M671.5 662.6h0M673.9 663.3h0M679.2 662.7h0M679.4 662.6h0M680.8 663.1h0M680.8 663.1h0M683.8 663.2h0M685.8 662.8h0M687.1 662.7h0M694.1 663h0M695.8 663.5h0M696.1 662.9h0M696.6 663.2h0M698.8 663.1h0M701 663.4h0M701.2 662.5h0M704.4 662.8h0M706.4 663.2h0M709.6 662.6h0M709.9 663h0M711.2 663.2h0M715.8 662.9h0M715.8 662.6h0M727.2 662.5h0M733.6 663.2h0M741.7 662.9h0M751.3 662.6h0M755.4 663.2h0M337.3 663.9h0M345.2 664.4h0M356 663.5h0M359.5 664.4h0M362.6 664.2h0M363.6 663.9h0M370.4 664.4h0M372.2 663.9h0M375.8 663.8h0M377.8 664.2h0M382.7 663.9h0M391.9 664h0M408.1 663.9h0M441.7 664.1h0M450.9 664.5h0M451.4 664h0M474.7 664.3h0M480.9 663.9h0M482.6 664.5h0M484.5 663.7h0M484.5 664.5h0M485.2 664.5h0M488.2 664.4h0M488.3 663.8h0M488.8 663.7h0M489.9 663.9h0M492.6 663.9h0M583.4 663.7h0M585.1 663.9h0M585.7 663.8h0M585.8 664.4h0M587.4 664h0M591.1 664.3h0M591.7 663.9h0M594.3 664.2h0M594.7 663.9h0M595.5 663.8h0M596.8 663.6h0M599.5 663.6h0M614.9 664h0M617.1 664.5h0M617.6 663.7h0M621.1 664.4h0M623.9 663.6h0M634.6 664.5h0M647.1 664.5h0M648.8 663.7h0M649.9 663.6h0M655.9 664.2h0M656.5 663.8h0M656.6 664.1h0M662.2 663.9h0M666.9 663.6h0M669.9 663.8h0M674.1 664h0M674.2 663.6h0M676.6 664h0M685 664h0M686 664h0M687.1 663.8h0M687.5 664h0M688.6 663.7h0M691.7 663.5h0M692 664.1h0M692.6 664.5h0M694.7 663.6h0M694.9 664.5h0M696.3 663.9h0M696.8 663.6h0M696.9 664h0M697.1 664.2h0M701.6 664.5h0M704.5 663.6h0M705.1 663.5h0M707 664.1h0M712.9 664.5h0M713.1 663.5h0M714 663.9h0M719.1 664.4h0M730.4 663.6h0M733.2 664h0M735.3 664.1h0M737.4 664.3h0M746.5 664.3h0M753.9 664.1h0M758.2 664.2h0M335.2 665.2h0M343 664.5h0M345.4 664.6h0M357.2 665.3h0M365.4 664.5h0M366.3 665.2h0M370.5 664.6h0M377.2 665h0M378.2 665.1h0M381.7 665.1h0M393.1 665.5h0M407.1 665.2h0M416.9 665.1h0M470.1 664.6h0M482.8 665.3h0M484.1 665.4h0M485.7 665.3h0M488.5 664.7h0M492.4 665h0M493.4 664.8h0M494.2 665h0M496 665h0M496.5 665.3h0M590.4 665.4h0M592.8 664.9h0M592.9 665.5h0M595.9 664.8h0M597.2 665.2h0M597.2 664.8h0M597.4 665.1h0M598.3 664.5h0M600.7 664.7h0M604.9 665.1h0M606.9 665h0M610.3 665.2h0M613.4 664.9h0M614.9 664.8h0M619.8 664.7h0M620.4 665.1h0M622.6 664.8h0M628 665.3h0M628.8 664.7h0M635.7 664.7h0M638 664.5h0M640.3 665h0M640.6 665.2h0M641.5 664.6h0M642.1 664.9h0M645.5 664.5h0M646.8 665.5h0M649.4 665h0M651.4 665.3h0M661 664.7h0M662.7 664.8h0M662.9 665.3h0M664 664.9h0M672.9 665h0M673.4 665h0M674.5 664.9h0M675.5 664.7h0M677.1 665.4h0M678.2 664.9h0M679.6 665.4h0M689.3 665.4h0M691.5 664.7h0M696.3 665.2h0M697.1 664.8h0M698.2 664.8h0M700.6 665.1h0M700.8 665.3h0M703.1 664.7h0M704.9 664.9h0M707.4 664.9h0M707.6 664.7h0M711.8 665.3h0M718.1 665.3h0M719.5 664.5h0M721.5 665.1h0M724.7 665.1h0M730.5 665h0M741.9 664.5h0M343 666h0M355.7 666h0M364.2 665.5h0M372.7 666.4h0M379.3 666h0M380.3 666.3h0M387.2 665.7h0M388.4 666.2h0M392.1 665.8h0M392.6 666.2h0M394.5 666.1h0M397.7 665.6h0M419.1 666h0M437.3 665.9h0M445.1 666.2h0M477.5 665.7h0M479.5 666h0M479.9 666.2h0M480 665.5h0M484.8 665.6h0M487 665.5h0M489.1 666.2h0M491 666.1h0M492.5 666.5h0M495.1 666.2h0M496.9 665.9h0M588 665.8h0M590.2 666.2h0M598.2 666h0M600.1 666.4h0M601.8 665.7h0M603.9 666.1h0M612.3 665.5h0M614.7 665.8h0M615.9 666.4h0M617 665.7h0M617.5 666.5h0M620.7 666.4h0M622 665.6h0M625.3 666h0M626.3 666.3h0M626.4 665.6h0M626.7 665.9h0M627 665.9h0M628.9 666.4h0M632.9 665.8h0M632.9 666h0M635.1 666.2h0M640.3 665.7h0M643.4 665.7h0M643.7 666.4h0M644.1 665.9h0M645.8 666.3h0M646.2 666.2h0M647.8 665.8h0M649.3 666.1h0M650.8 666h0M655.3 666.4h0M657.8 665.9h0M658.4 665.7h0M662.1 666h0M662.9 665.9h0M664.7 665.8h0M668 665.9h0M668.6 665.7h0M672.8 666h0M673.1 666h0M673.9 666.1h0M675 666h0M680 666.5h0M680.8 665.8h0M681.4 665.6h0M682.5 666.2h0M684.6 666.2h0M685.1 665.7h0M692.9 666.1h0M693.4 666.4h0M694.8 666.1h0M695.6 666.5h0M695.9 666.2h0M697.7 665.5h0M697.9 666h0M698.1 665.7h0M701.6 666.4h0M706.6 666.2h0M711.1 666.5h0M718.9 666.1h0M730.2 666.2h0M740.4 665.9h0M745 666.4h0M745 665.9h0M745.1 665.5h0M746.7 665.7h0M363 667.1h0M364.5 666.9h0M367.4 666.8h0M377 666.5h0M387.1 667.4h0M387.6 667.2h0M388.6 667.2h0M390.8 666.8h0M400.8 667h0M401 667.3h0M415 667h0M485 667.1h0M486.8 666.8h0M491.5 667h0M492.7 666.6h0M588.7 666.6h0M592.3 666.8h0M592.5 667.4h0M594.5 667.1h0M596.7 667.3h0M604 666.8h0M609.8 666.5h0M613.6 667.1h0M616 667.3h0M618.6 666.7h0M625.8 667h0M628.2 666.6h0M629.6 666.7h0M629.7 666.6h0M631.1 666.8h0M633.5 666.8h0M633.9 666.8h0M634.6 666.8h0M635.5 667h0M636 667.4h0M636.2 667.4h0M637.8 666.6h0M639.1 667.3h0M639.8 666.9h0M645.5 667.1h0M647.3 666.7h0M647.4 667.1h0M648.6 666.7h0M648.7 666.7h0M650.8 667.4h0M654.4 667.3h0M658.7 667.1h0M663.6 667h0M664.7 667.3h0M667.7 666.9h0M671.6 666.6h0M672.4 666.5h0M679.1 666.9h0M681.2 666.8h0M681.6 666.9h0M683.2 667h0M683.7 666.6h0M689.5 667.4h0M690.1 667.3h0M697.5 667.3h0M698.3 666.9h0M702.2 667.3h0M702.2 666.9h0M704.2 667h0M706.6 667.2h0M711.7 667.4h0M714 667h0M717.1 667.4h0M719.5 667h0M721.2 667.1h0M726.8 667.4h0M727.6 666.6h0M738.4 666.7h0M740.2 667.4h0M741.5 667h0M745.5 666.7h0M746.2 666.6h0M747.1 666.6h0M750.9 666.5h0M753.3 667h0M342.1 668h0M342.8 668.2h0M352.3 668.1h0M353.3 668.4h0M353.5 668.2h0M356.5 668.1h0M357.5 668.5h0M367.2 668.1h0M375.3 668.1h0M375.6 667.9h0M378.1 668.1h0M381.4 667.6h0M381.9 667.9h0M394.6 668.1h0M395.6 668.4h0M399 668.5h0M412.1 667.7h0M439.8 668.2h0M442.9 668.2h0M454.1 667.8h0M456.3 667.5h0M460.4 668.4h0M468.5 668h0M473 668.2h0M475.2 667.6h0M477.5 667.6h0M481 668.5h0M481.2 667.5h0M486.8 668.2h0M488.8 668.5h0M489.1 668.4h0M489.6 667.9h0M494.5 668h0M590 667.8h0M590 668.3h0M593.1 668.4h0M595.4 668.5h0M596.8 668.1h0M599.1 668.4h0M600.6 667.5h0M600.7 667.8h0M601.2 668.5h0M602 668.2h0M603.8 668.4h0M604.4 667.9h0M604.6 668.2h0M608.2 668.4h0M608.3 668.4h0M608.8 668.3h0M609.4 668.2h0M611 668.2h0M612.4 668.1h0M619.8 668.2h0M625.3 667.5h0M629.8 667.6h0M632.1 668.2h0M634.5 668.4h0M637.2 668.3h0M638.4 667.6h0M639.5 667.7h0M642.4 667.7h0M642.6 667.6h0M645 667.9h0M645.2 668.2h0M649.3 667.6h0M649.6 667.6h0M649.8 668.2h0M651.5 668h0M652.9 668.1h0M658.5 667.6h0M658.8 668.5h0M667.4 668.2h0M668.4 667.9h0M671.7 667.6h0M673.7 668.2h0M673.7 667.8h0M675.2 668.5h0M688.4 668.1h0M689 668.4h0M694.6 668.2h0M697.4 668.1h0M698.2 667.6h0M702.3 667.8h0M702.9 668.2h0M705.2 668.1h0M705.3 667.6h0M709.6 668h0M711.5 667.6h0M711.8 667.9h0M717 667.6h0M718.5 668.2h0M719 667.7h0M722.8 667.6h0M724.9 667.9h0M731.8 668h0M732.7 668h0M734.2 667.8h0M734.5 668.5h0M735.7 667.6h0M737.4 668.4h0M740.2 668h0M351.9 669.1h0M353.2 669.1h0M359.1 668.7h0M359.9 669.3h0M371.4 669.3h0M380.4 668.9h0M381.6 669.1h0M382.6 668.7h0M385.7 668.6h0M401.3 669h0M403.2 669.1h0M407.8 668.8h0M439.4 668.8h0M456.2 668.6h0M460.9 669.1h0M471.7 669.3h0M472.1 668.9h0M479.1 668.6h0M482 669.2h0M482.9 669.4h0M484.9 668.8h0M485.8 669.4h0M492.8 669h0M591.3 668.5h0M592.2 668.7h0M593.2 669.1h0M596.6 669.5h0M598.3 668.6h0M599.3 668.6h0M601.5 669.4h0M602.2 669.1h0M605.8 669h0M607.9 669.4h0M608.2 669h0M613.2 669.4h0M613.3 669.5h0M614.2 668.6h0M617.7 669h0M620.6 669h0M621.6 668.9h0M621.6 668.6h0M622.3 669h0M623.1 669.1h0M624.6 668.8h0M624.6 669.5h0M624.7 669.4h0M627.2 669.2h0M628.8 668.8h0M629.1 668.6h0M629.9 669.2h0M631.5 669.1h0M632.5 669.4h0M633.3 669.4h0M635.9 669.4h0M636.5 668.6h0M640.4 669.4h0M643.5 669.1h0M644.2 668.7h0M646.3 669.4h0M652 669.1h0M652.5 668.9h0M652.9 669.4h0M654.4 668.8h0M654.6 669.2h0M655.8 669.2h0M659.2 669.5h0M667.6 668.9h0M667.6 668.7h0M667.8 668.6h0M676.3 668.7h0M676.8 669.3h0M679.6 669.4h0M680 668.7h0M682 668.9h0M682.9 669.5h0M685.2 668.8h0M686.3 669.2h0M688.2 669h0M689.5 669h0M691.5 668.6h0M692.5 669.4h0M694.4 668.9h0M696.8 669.2h0M699.9 668.8h0M704.2 669h0M707.4 668.6h0M708.3 668.9h0M710.3 668.9h0M711.3 668.6h0M713.3 669.2h0M716.2 669.1h0M719.8 668.7h0M722.4 669.4h0M725.1 669h0M728.4 669.2h0M729.4 668.5h0M732.6 669.2h0M735 669.3h0M738.4 669.1h0M745.7 669.3h0M746.2 669.4h0M751 668.8h0M340.7 669.6h0M345.9 670.4h0M366.8 670.3h0M367.9 670.3h0M369.2 669.9h0M371.7 669.6h0M380.3 670h0M383.6 670h0M387 669.6h0M388.9 669.9h0M390.2 670.3h0M394.6 670.4h0M398.7 669.5h0M401.7 670.2h0M402.9 669.8h0M416.5 670.2h0M417.3 670.4h0M418.2 669.9h0M420.4 670.5h0M426.4 670.4h0M428.3 669.8h0M435.3 669.7h0M442.5 670.2h0M456.8 670.2h0M467.6 670.5h0M473.8 669.9h0M477.2 669.5h0M477.4 670.4h0M477.6 669.8h0M480.3 669.6h0M481 669.7h0M482 670.2h0M482.2 670.4h0M483 670.4h0M483.1 670.1h0M484.3 670.4h0M485.4 670.2h0M489.5 670h0M491.1 670h0M492.2 670.3h0M592.9 669.9h0M593.1 669.9h0M595.5 670.4h0M602.9 670.2h0M603.7 669.9h0M608.5 670.5h0M610.2 670.3h0M621.1 669.6h0M626.8 669.7h0M629.1 670h0M629.5 669.8h0M633.7 669.6h0M634.1 669.9h0M634.6 669.8h0M635.6 670.3h0M636.2 669.8h0M637 670.2h0M637.1 669.9h0M645.8 669.6h0M652.4 670.3h0M657 670.1h0M664.2 670.5h0M666 670.3h0M666.9 670.2h0M669 669.7h0M670 670.5h0M677.1 669.9h0M679 669.6h0M680.6 669.7h0M681.1 669.7h0M682.6 670.1h0M685.4 669.7h0M685.8 670.3h0M688.7 670.4h0M697.7 670.3h0M701.6 669.7h0M701.8 670.2h0M702 669.9h0M709.2 670.3h0M717.1 670.3h0M724.9 669.9h0M725.9 669.8h0M736.5 669.6h0M741.9 669.5h0M344.2 670.6h0M344.5 671h0M349.6 671.4h0M358.2 670.6h0M361.5 670.7h0M371.6 671.3h0M375.6 671.5h0M378 670.6h0M384.7 671.3h0M386.9 671.4h0M393.2 670.5h0M397.8 670.7h0M398.1 671.5h0M398.5 671.3h0M400.5 671.3h0M402 670.8h0M405.6 671.5h0M407.5 671.4h0M421.2 671.4h0M421.5 671.4h0M428.7 670.9h0M429.1 670.6h0M430.5 671.4h0M431.1 670.6h0M437.8 670.7h0M439.1 670.8h0M441.5 671.2h0M456.7 671.3h0M470.9 671.1h0M470.9 671.2h0M474 670.5h0M474.9 671.3h0M480 670.7h0M480.4 671h0M481.8 671.4h0M486.7 670.8h0M488.6 670.7h0M490.5 671.3h0M595.6 670.9h0M596.7 670.6h0M601 671.3h0M601.4 671.1h0M614 670.7h0M614.5 671.2h0M615.2 671.4h0M615.5 671.5h0M618.6 670.9h0M626.8 671.1h0M629.4 670.6h0M630.6 670.6h0M634.3 670.6h0M636.4 670.5h0M637.6 670.9h0M640.2 670.8h0M644.7 671h0M645.9 670.5h0M651.8 671.1h0M654.6 671.2h0M658.3 671h0M658.7 670.7h0M658.8 671.1h0M659.5 671.1h0M661.1 671.2h0M665.1 671.3h0M665.3 671h0M674.9 671.5h0M676.2 671.2h0M676.7 670.8h0M679.5 670.6h0M679.7 671h0M683 670.7h0M693.9 671.4h0M694.8 671.4h0M696.2 671.3h0M697.3 670.7h0M700 671.4h0M705.1 671.3h0M706.3 671.3h0M706.5 670.5h0M708.1 671.1h0M708.6 671.3h0M709.4 670.6h0M709.8 671.3h0M711.3 670.9h0M713.4 671.5h0M714.3 671.3h0M720 671h0M720.2 671.5h0M729 670.9h0M730.7 670.6h0M735 671.3h0M735.9 670.9h0M740.5 670.9h0M742.4 670.9h0M352 672h0M355.4 672.4h0M356.2 672.2h0M362.2 671.5h0M363.6 671.8h0M373.1 672.2h0M373.8 672.4h0M375.7 672h0M378.3 671.7h0M381.6 672.3h0M384.6 672.5h0M392 672.4h0M395 671.5h0M396.6 671.9h0M397.8 672.4h0M398.4 672.4h0M401 671.8h0M403 671.7h0M404.9 672.2h0M405.5 671.9h0M407.8 671.5h0M408 671.7h0M408.5 671.7h0M410.4 671.5h0M416.9 671.7h0M416.9 672.1h0M417.3 671.7h0M429.2 671.9h0M435.4 671.9h0M442.2 672.4h0M450.8 672.3h0M451.2 672.1h0M468.8 672h0M469.8 671.9h0M470.2 671.9h0M471.4 671.6h0M472.8 671.5h0M473.5 672.5h0M474.3 671.7h0M480.9 671.6h0M482.9 671.8h0M484.8 672.3h0M489 671.9h0M490.3 672.2h0M595.5 671.6h0M604.4 672h0M610.1 671.7h0M615.1 671.8h0M615.4 671.9h0M615.4 671.9h0M616.8 672.4h0M616.9 671.9h0M617.5 671.8h0M621.5 672.3h0M622.6 671.7h0M624.7 672.2h0M629 671.7h0M633.8 671.8h0M634.1 672.3h0M634.2 671.8h0M634.2 671.9h0M635.5 671.7h0M640.6 671.5h0M650.9 671.6h0M655.7 672.4h0M655.9 672.5h0M656.3 671.9h0M657.8 672.3h0M658.4 671.8h0M658.9 671.7h0M661.4 671.7h0M666.8 672.5h0M667.2 672.5h0M668.3 671.8h0M668.6 672h0M670.7 672h0M673.5 672h0M679.3 672.3h0M681.2 671.5h0M692.9 672.4h0M693.4 671.5h0M693.9 672.3h0M695 671.7h0M699.5 672.1h0M702.2 672.4h0M704.1 672h0M710.6 672.3h0M712 671.7h0M715.3 671.9h0M719.3 671.8h0M722.1 671.8h0M725.6 671.8h0M727.5 671.7h0M731.2 671.5h0M733.6 672.3h0M740.6 671.5h0M744.4 671.7h0M347.2 672.7h0M347.4 673.5h0M357 673.2h0M358.4 673.1h0M368.2 672.6h0M370.1 672.5h0M371.6 673h0M372.9 673.2h0M373.7 673.2h0M374.4 673.1h0M376.3 673.2h0M376.9 673.1h0M377.8 673.4h0M382.6 673.4h0M382.8 672.7h0M383.8 672.5h0M389.1 673.1h0M393.3 672.7h0M396.6 673h0M397.3 673h0M408.3 673.1h0M412.4 673.4h0M419.7 672.7h0M421.7 672.7h0M422.4 672.7h0M434 673.1h0M434.2 673.4h0M435.7 673.3h0M436.5 673.1h0M437.7 672.6h0M445.6 673.3h0M447.9 673.3h0M456 673h0M460.9 673.4h0M461.2 672.6h0M461.7 673.1h0M464.2 672.9h0M465.2 672.7h0M466.4 673.1h0M468.3 673.2h0M471.3 673.2h0M473.8 673.5h0M474.9 673.1h0M477.3 673.1h0M477.4 672.5h0M478.6 672.8h0M479.1 673.1h0M481.3 673h0M481.7 673.2h0M483.2 673h0M483.6 672.6h0M484.3 672.5h0M484.4 672.6h0M486 673.2h0M486 673.3h0M601.1 673.2h0M601.6 673.4h0M602.6 672.5h0M605.8 673.2h0M606.3 673h0M607.1 672.9h0M608.4 673h0M609.9 672.8h0M612.1 673.5h0M612.7 673.3h0M616.9 672.9h0M617.4 672.6h0M618.5 672.7h0M620.5 672.9h0M621.2 673.2h0M624.5 672.9h0M626.5 672.6h0M627 673h0M628.7 673.5h0M635.6 673.5h0M636.1 673.2h0M636.1 673.1h0M642.3 673h0M647.6 672.7h0M649.9 673.4h0M650.3 673h0M657.2 672.8h0M660.1 673h0M663.7 672.5h0M664.6 672.5h0M668.8 672.7h0M671.4 673.4h0M672.8 672.9h0M673.6 672.5h0M691.6 672.9h0M695.2 672.8h0M695.4 672.9h0M701.9 672.6h0M703.3 673.3h0M705.6 673.1h0M706.6 672.6h0M712.8 672.7h0M717.3 673.1h0M717.3 672.7h0M718.1 673h0M718.6 673.3h0M718.6 673.4h0M719 672.8h0M722.5 672.8h0M723.7 673.4h0M730.2 673.1h0M367.9 674.3h0M374.3 674.4h0M379.7 674h0M381.1 673.8h0M384.1 673.9h0M384.9 674.1h0M387 673.6h0M387.8 673.8h0M390.5 673.8h0M393.1 674.4h0M398.5 673.6h0M398.6 674.1h0M399.2 674h0M401.8 674.1h0M403.2 673.9h0M407.5 673.7h0M408.4 673.7h0M409.1 673.8h0M411.6 674.3h0M412 674.4h0M413.3 674.2h0M415.2 674.2h0M416.3 674.3h0M416.7 673.8h0M422.2 674h0M423.1 673.8h0M426.3 673.7h0M440.2 674.3h0M445.1 674.2h0M453.8 673.9h0M453.9 673.9h0M456.1 674.2h0M456.3 673.5h0M456.4 674.4h0M458.5 674.2h0M459.9 674.3h0M461.1 674.3h0M461.5 674.4h0M463.3 674.3h0M463.6 674.4h0M466.7 674h0M466.9 674.5h0M467.7 673.9h0M472.7 673.8h0M473.4 673.6h0M473.7 673.7h0M476.3 673.8h0M477.1 674.2h0M479.8 674h0M484.6 674.2h0M484.7 674.3h0M485.6 673.7h0M600.2 673.7h0M603.1 673.9h0M603.9 674h0M608.5 673.6h0M609.1 673.9h0M614.4 673.5h0M619 674h0M619.9 673.8h0M627.8 673.6h0M630.6 674h0M631.1 673.9h0M631.3 674.4h0M635.2 674.1h0M635.5 674.4h0M636.8 674.5h0M638.1 673.8h0M645.2 673.7h0M650.1 673.6h0M652.9 673.9h0M654 674.3h0M656 673.7h0M657.6 674h0M657.7 673.6h0M666.2 673.9h0M694.3 674.2h0M694.4 674.5h0M696.3 674h0M699.3 673.8h0M700.1 673.8h0M704.3 673.8h0M710.6 674.5h0M713.7 673.8h0M715.3 674.3h0M715.4 674.1h0M718.9 674h0M728.6 674.2h0M730.9 673.6h0M731.5 673.5h0M356.8 674.7h0M360.9 675.2h0M361 674.8h0M361.2 675.4h0M361.9 674.8h0M362.1 674.8h0M364.6 675.4h0M371.7 675.1h0M373.6 675h0M375.5 675.2h0M376.4 675.3h0M378.6 675.3h0M379.9 675.3h0M385.1 675.1h0M388.2 674.6h0M389.9 675.3h0M391.1 675.4h0M392.3 674.6h0M393.3 674.6h0M393.5 675.3h0M393.5 674.6h0M393.6 674.7h0M394.7 674.6h0M404.7 675.2h0M404.8 674.8h0M407 675.1h0M407.4 675h0M408.7 675.1h0M411.1 675.1h0M411.1 674.9h0M414.2 674.7h0M416.4 675.3h0M418.3 674.7h0M423.9 675.3h0M429.1 675.1h0M429.9 675.3h0M431 675.2h0M433.3 675.4h0M434.2 675.1h0M438.1 675.4h0M439.8 675.5h0M441.1 674.7h0M442.5 675h0M442.7 675.2h0M447.1 675h0M448 674.8h0M448.2 674.8h0M448.3 674.5h0M449.3 675.2h0M453.3 675.2h0M461.9 674.7h0M462.2 674.7h0M463.1 675.5h0M463.8 674.6h0M467.9 674.7h0M471.7 675.1h0M472.7 675h0M477.4 674.6h0M479.2 675.1h0M483.8 674.5h0M603 674.9h0M603.4 675.1h0M607.6 675h0M608.1 674.5h0M617.6 675h0M621.7 675.5h0M629.6 675.3h0M632.9 675.3h0M634.9 675h0M638.4 674.5h0M640.3 675.4h0M640.9 675.2h0M644.2 674.8h0M645.3 674.8h0M647.7 674.5h0M649.8 675.1h0M651.2 674.7h0M652 675.4h0M652.7 675.4h0M654.6 674.9h0M656.5 674.6h0M691.5 674.5h0M691.6 675.1h0M692.8 674.9h0M697.5 675.5h0M701 675.1h0M706.8 675.2h0M707.4 674.8h0M710.6 674.8h0M715 675.3h0M724.2 675.5h0M726.3 674.6h0M737.5 675.5h0M737.6 675.4h0M739.6 675h0M353.1 676.1h0M359.1 676.1h0M367.1 676.1h0M379.7 675.6h0M387.2 676.3h0M390.1 676.1h0M390.4 676.3h0M391.3 675.9h0M396.1 676.1h0M397.8 676.5h0M397.9 675.7h0M398 676.1h0M398.5 676.2h0M398.8 675.7h0M400.4 676h0M401.9 676.2h0M402.1 676.2h0M405.2 675.7h0M406.6 676.1h0M409.3 675.5h0M410.7 676h0M416.7 676h0M423.9 676h0M427 676h0M427.8 676.2h0M428.7 676.4h0M431.4 676h0M432.1 675.6h0M432.5 676.3h0M436.6 676.2h0M443.1 675.8h0M444.7 675.7h0M447.5 676.4h0M448.9 675.8h0M449.3 676.2h0M450.9 675.9h0M451.6 676h0M452.9 675.7h0M455.5 675.7h0M456.1 676h0M459.6 675.7h0M459.7 675.6h0M463.6 676.3h0M464 675.9h0M464 675.7h0M465.8 675.6h0M467.4 675.9h0M468.1 675.6h0M471.3 676.4h0M474 676.1h0M474.2 676.3h0M474.5 676.1h0M474.9 675.8h0M476.2 676.2h0M478.5 675.7h0M480.8 675.7h0M481.1 676.3h0M481.6 676.3h0M604.4 676.3h0M612.7 675.8h0M614 675.7h0M614.7 676.2h0M615.4 675.5h0M623.2 675.5h0M623.8 675.6h0M627.5 675.5h0M631.1 675.8h0M632.5 675.7h0M633 675.6h0M637 675.8h0M692 676.1h0M692.8 675.9h0M693.8 676h0M696.1 676.2h0M696.3 676.3h0M698.3 675.8h0M699.3 676.2h0M703.5 676.4h0M706.4 675.9h0M708.3 676.4h0M710.4 675.7h0M711.4 676.1h0M713.9 676.3h0M717.8 675.8h0M727 676h0M737.9 676.4h0M738.3 675.9h0M355.8 677.4h0M366.2 677.2h0M370.7 676.5h0M375.6 676.8h0M379.1 677.5h0M384.8 676.6h0M385.5 676.9h0M386.5 677.3h0M396.4 677.5h0M398.5 677.1h0M401.4 677h0M402.2 677.3h0M405.9 677.4h0M407.4 677h0M409.7 677.1h0M411.3 676.7h0M414.6 677.2h0M420.2 676.7h0M425.1 677.1h0M425.4 677.2h0M428.6 676.8h0M432.9 676.5h0M433.9 676.7h0M439.4 676.7h0M441.3 677.4h0M443.3 677.2h0M443.3 676.5h0M445.2 677.4h0M449.1 677.2h0M450.5 676.8h0M452.1 677.4h0M454.7 677.3h0M456 677.5h0M456.1 676.8h0M456.3 677.2h0M465.4 677.3h0M466.3 676.7h0M466.4 676.6h0M467.4 677h0M469.4 676.6h0M469.9 677.5h0M470.4 676.7h0M470.9 677.2h0M471.5 676.6h0M473.1 677.3h0M477.4 677.1h0M478.1 677.4h0M607.5 676.5h0M691.3 677.3h0M691.7 676.9h0M692.6 677.4h0M695.6 677.1h0M699 676.8h0M700.2 676.7h0M708.5 676.9h0M710.5 676.5h0M710.6 677.3h0M711 676.6h0M716.5 677.4h0M718 677h0M722.9 676.9h0M723 677h0M723.4 676.8h0M724.7 677.1h0M354.9 678.2h0M372.1 677.7h0M376.2 677.5h0M386.8 678.4h0M387.6 677.8h0M389.3 677.6h0M389.7 678.3h0M390.6 678.4h0M391 678.3h0M391.2 678.3h0M395 677.6h0M395.3 678.4h0M401.6 678.4h0M403.3 678.4h0M413 677.9h0M414.3 677.8h0M416.8 678.2h0M418.9 677.5h0M423 678.1h0M423.4 678.4h0M423.7 678.3h0M423.8 678.4h0M427.6 677.6h0M431.6 678.3h0M432 677.6h0M441 678.4h0M442.4 678.5h0M442.8 678.5h0M444.6 677.6h0M447.8 678.1h0M448.8 678h0M451.6 677.8h0M454 678h0M461.6 677.9h0M463 678.3h0M465 677.6h0M465.8 677.6h0M466.4 678h0M471.2 678.1h0M473.3 677.6h0M477.5 677.8h0M477.6 677.8h0M694.8 677.8h0M695.2 678.5h0M696.4 678.1h0M699.1 678.5h0M701.2 677.8h0M705 678.3h0M707.3 678.5h0M707.4 678.2h0M711.7 678h0M715.5 677.9h0M718.5 678h0M726.7 677.6h0M731.1 678.2h0M369.2 679.2h0M370.4 679.3h0M373.2 678.6h0M373.5 679.3h0M378.7 678.7h0M383.6 679.3h0M385.6 678.5h0M386.7 679.2h0M387.4 678.8h0M388.8 679.3h0M388.8 678.8h0M389.3 679h0M392.7 679.3h0M395.8 678.8h0M397.8 678.5h0M414.1 678.7h0M423.2 679.3h0M426.7 679.4h0M428.8 679.4h0M428.9 679h0M432.6 678.9h0M437.5 678.6h0M446.9 678.8h0M454 678.8h0M456.5 679.3h0M460.9 679.4h0M465 679.2h0M466.5 678.8h0M468.2 678.8h0M470.1 679.4h0M470.7 678.9h0M473.7 678.9h0M693.5 679.1h0M696.7 679h0M697.1 678.5h0M698.1 678.9h0M698.6 679.3h0M702.5 679.5h0M702.7 678.8h0M708.8 679h0M715.9 678.9h0M716.9 678.7h0M720.3 679h0M721.5 679.5h0M357.5 680.5h0M360.9 679.6h0M366.4 680h0M367.3 680.2h0M367.5 679.6h0M369.6 679.9h0M372.1 680.4h0M377.6 680h0M379.6 679.5h0M379.8 679.9h0M382.4 680.3h0M390.8 679.8h0M399.3 680.2h0M399.9 679.8h0M400.5 679.5h0M405.4 679.8h0M406 680h0M410.7 679.6h0M411.6 679.6h0M415.8 680.1h0M416.6 680.1h0M418.2 680.1h0M420.5 680.4h0M422.7 680h0M423.5 679.6h0M427.5 680h0M431.9 679.6h0M432.6 680.2h0M434.5 679.9h0M438.2 680.5h0M438.3 679.9h0M439.2 680.4h0M445.5 679.7h0M450 679.7h0M450.4 679.9h0M451.4 679.6h0M453.1 679.9h0M459.8 679.7h0M461 680.5h0M461.9 679.7h0M461.9 680.5h0M465.6 679.6h0M467.1 680.2h0M471.8 679.7h0M691.4 679.5h0M697.6 679.7h0M699.8 680h0M702.3 679.6h0M708.2 680.3h0M708.9 679.9h0M711.4 680.4h0M716.8 679.5h0M718.2 680.2h0M724.5 679.9h0M728 679.8h0M359.5 681.4h0M361.1 681.4h0M367.9 680.8h0M383.2 680.8h0M385 681.1h0M387.8 681h0M388.9 680.6h0M393.6 680.5h0M394.1 681.3h0M405.5 680.5h0M413.8 681.2h0M414 681h0M420.2 681.2h0M429.9 681.2h0M433.4 680.6h0M437.9 680.7h0M438 680.9h0M441.6 680.6h0M443.8 681.5h0M445 681.2h0M445.2 681.1h0M445.5 680.8h0M446.3 681.5h0M447.8 681.4h0M449.2 681.2h0M452.3 680.8h0M453.9 680.9h0M457.6 680.6h0M457.9 680.9h0M458 680.5h0M458.2 681.4h0M459 681.2h0M461 681.4h0M464.4 681.5h0M466.6 680.5h0M466.6 681h0M467.3 680.7h0M467.4 681.1h0M469.3 680.9h0M470 680.9h0M693.4 680.5h0M697.5 681.4h0M699.7 680.9h0M703.8 681.1h0M704.8 680.9h0M706.2 680.7h0M706.5 681.1h0M706.8 680.7h0M708.1 680.6h0M708.5 681.4h0M708.6 681.4h0M711.1 680.9h0M712.9 681.1h0M716.7 681.1h0M717.3 680.6h0M721.1 681.1h0M722 681.3h0M360 682.3h0M362.4 681.5h0M364.1 682.2h0M366.2 681.7h0M370.2 681.9h0M377.2 682.3h0M377.9 682.3h0M378.6 682.3h0M379.9 682h0M384 682.3h0M386.2 681.6h0M386.2 681.8h0M387.3 682.1h0M394.3 682.5h0M395.3 682.2h0M398 682h0M398.5 682h0M399.2 681.6h0M399.3 681.7h0M412.4 682.1h0M412.7 682.1h0M412.9 681.9h0M413 681.7h0M417.2 682.4h0M418.4 682.3h0M418.4 682.2h0M422.4 682.4h0M424.5 681.5h0M426 681.7h0M430.5 682.3h0M430.9 681.8h0M431.1 682.4h0M432.6 682.3h0M434.3 681.9h0M436.7 682h0M437.6 681.5h0M437.6 682.3h0M438.9 681.6h0M441.5 681.8h0M443.3 681.5h0M445.5 682.1h0M448.5 682.2h0M448.6 682.5h0M449.1 682.3h0M450.6 682h0M451.4 682.1h0M454.5 681.7h0M454.9 682.4h0M455.8 681.9h0M459.7 681.7h0M691.2 682.1h0M692.1 681.6h0M692.5 681.7h0M692.6 682.1h0M701.3 681.6h0M704.4 682.4h0M707.2 682.2h0M713.3 681.8h0M713.6 681.7h0M370.3 682.8h0M370.8 683.5h0M373 683h0M374.5 683h0M376.6 683.2h0M376.8 682.9h0M379.1 683.1h0M379.3 683.1h0M386.3 683.3h0M388.5 683.4h0M388.8 683.4h0M389.8 683.4h0M390.3 683h0M394.2 683.3h0M395.5 682.6h0M428.5 682.9h0M429 682.6h0M429.8 682.8h0M431.3 682.7h0M432.8 683.4h0M434.8 682.6h0M439.3 683h0M440 683.2h0M443.8 682.5h0M443.9 682.9h0M444.8 683.2h0M454.5 682.7h0M454.6 682.6h0M455.4 682.5h0M455.4 682.7h0M456.9 682.5h0M457.7 682.5h0M459.2 683.4h0M463.6 682.8h0M692.3 683.4h0M699.3 683.1h0M700.2 683.3h0M701.5 682.6h0M702.3 682.9h0M703.2 682.8h0M703.8 683.5h0M707.3 683.4h0M712.2 682.5h0M714.3 682.8h0M367.3 684.3h0M374.6 684.2h0M378.2 684.4h0M379.8 683.6h0M382.5 683.5h0M383.9 683.9h0M383.9 683.8h0M384.6 684.1h0M384.7 684.1h0M385.4 684.3h0M388.7 683.6h0M391.2 684.2h0M392.4 684.3h0M392.7 684.2h0M393.5 684h0M394.8 683.8h0M396.6 684.4h0M397 684.3h0M397.3 683.6h0M398.4 684.3h0M453.8 683.8h0M454 683.9h0M461.2 683.7h0M461.5 683.6h0M691.5 683.8h0M693.5 684.4h0M694.6 684.1h0M694.9 684.2h0M698.1 684.3h0M702 684.4h0M376.7 684.7h0M382.9 685.3h0M384 685.4h0M388.2 685.4h0M392.8 684.9h0M399.7 685h0M688.4 685h0M688.9 684.8h0M692.3 685.1h0M696 684.8h0M697.5 684.9h0M703.1 684.5h0M705.3 684.8h0M378.7 685.7h0M381 686.4h0M382.3 686.1h0M383.3 686.1h0M385.4 685.6h0M396.6 685.7h0M398 686.4h0M681.8 686.2h0M683.5 685.8h0M683.8 686.1h0M690.3 686h0M377.8 687.5h0M381.1 687h0M382.7 687.2h0M387.1 687.4h0M388.1 686.6h0M391.6 687h0M395.9 687.2h0M396.8 686.6h0M399.9 686.5h0M678.2 687h0M679.1 687h0M680.2 686.6h0M680.9 686.6h0M681 686.8h0M681.1 687.1h0M682.2 687.4h0M683.1 687.1h0M683.4 686.8h0M685.2 687.4h0M685.9 686.7h0M687.6 687.3h0M688 687h0M690.7 687.4h0M693.8 687.1h0M381.1 688.4h0M381.8 688.4h0M383.6 688h0M385.4 688.2h0M388 688h0M389.8 687.7h0M392.3 687.7h0M392.8 687.9h0M392.8 688.2h0M399.4 688.3h0M677 688.2h0M677.4 688h0M677.7 687.9h0M678.8 688.4h0M681.3 688.3h0M682.7 687.5h0M687 688.4h0M692.9 688.1h0M693.1 687.7h0M379.7 688.6h0M381.2 688.5h0M381.9 688.9h0M382.7 688.6h0M385.2 688.7h0M388.1 688.6h0M391.7 688.9h0M392 688.9h0M394.5 688.9h0M396.2 689.4h0M399.3 688.9h0M666.2 689.4h0M670.3 688.7h0M670.5 688.9h0M678 689.2h0M682 689.2h0M688.2 689.1h0M690.1 689.4h0M691 689.4h0M383 689.5h0M384.7 689.5h0M387.5 690.3h0M389.1 690.3h0M393.8 689.7h0M394.4 690.2h0M396.1 690.1h0M396.8 689.9h0M397 689.9h0M399.8 690.2h0M671.3 690.5h0M671.3 690.1h0M672 690.5h0M676.3 690.3h0M686.7 690.5h0M687.2 689.7h0M384.9 690.7h0M392.2 691.4h0M394.1 690.7h0M397.8 691.2h0M398.6 691.4h0M400 691.5h0M657.8 691.1h0M662.9 691.4h0M663.1 690.6h0M665.1 691h0M665.6 691.1h0M670.5 690.7h0M673.4 690.9h0M674.4 690.7h0M674.8 691.2h0M679.6 690.6h0M681.8 691.3h0M683.7 691h0M388.4 692.4h0M388.6 692.1h0M389.3 691.7h0M396.2 692.3h0M397 691.6h0M400.1 692h0M402.2 691.8h0M402.5 691.7h0M402.6 692h0M653.7 692.3h0M653.8 692.5h0M654.7 691.7h0M670.8 691.9h0M676.5 691.5h0M391.8 693.1h0M391.9 693.2h0M393 693h0M398.7 692.7h0M399.1 692.6h0M399.5 692.9h0M399.9 693.2h0M404.9 692.9h0M408.1 693.5h0M655.9 693.2h0M659 693.4h0M659.3 693.2h0M660.8 693.1h0M662.5 693.5h0M663.4 692.8h0M667.9 693.2h0M670.4 693.3h0M674.7 693.2h0M676.1 692.7h0M677.4 692.8h0M391.4 694h0M393.6 693.6h0M394.7 693.9h0M398.6 693.6h0M400 693.8h0M402.1 694.1h0M402.5 694h0M402.6 694.4h0M404.6 694.2h0M407.3 694.3h0M409 693.7h0M646.1 694h0M646.5 693.9h0M646.7 693.7h0M649.8 694h0M651.3 694.1h0M652.6 694h0M655.9 694.1h0M656.5 694.2h0M658.3 694.3h0M659.4 693.5h0M668.8 693.9h0M669.4 694.1h0M669.5 694.1h0M400 695.3h0M402.8 694.8h0M403 695h0M407.2 695.5h0M411 694.6h0M412.9 695.1h0M641.5 695h0M645 695.2h0M645.2 695.4h0M648.1 695.5h0M648.5 694.6h0M649.5 695h0M654.1 694.6h0M659.6 694.7h0M660.4 694.9h0M661.2 695.3h0M667.4 694.8h0M403.9 696.4h0M407.8 696.2h0M408 695.8h0M412.7 696.3h0M415.4 695.6h0M417 696h0M420.8 696.2h0M640.5 695.7h0M642 695.8h0M643.7 696h0M644.6 695.6h0M645.1 696h0M645.1 696.1h0M646.9 695.9h0M647.2 696.3h0M648.4 695.9h0M654.7 696.3h0M655.6 695.7h0M399.2 696.7h0M406.8 696.7h0M407.3 696.6h0M409.2 696.8h0M413.3 696.7h0M633.1 697.5h0M635 696.7h0M637.1 697.2h0M641.7 697.1h0M642.8 697.3h0M644.3 696.5h0M646.5 696.7h0M648.2 697.1h0M651.7 697.4h0M653.5 696.6h0M654.7 697.1h0M407.4 697.8h0M407.5 698.1h0M407.7 698.2h0M407.8 698.5h0M409.9 698.4h0M411.4 697.7h0M417.4 698.3h0M417.7 698.4h0M421.9 698.3h0M422.2 697.9h0M630.1 698.1h0M634.4 697.6h0M637.5 698.4h0M642.8 698h0M643.2 698h0M646.3 698.4h0M646.3 698.3h0M410.1 699.4h0M410.6 699.4h0M410.9 699.4h0M412.1 699.2h0M415.6 699.3h0M416 698.8h0M424 699.2h0M428.7 699h0M432.7 699.2h0M626.8 699.3h0M627.1 699.2h0M629.3 699.4h0M639.5 699.3h0M642.8 698.8h0M645.6 699.4h0M645.6 698.8h0M649.2 699h0M649.2 698.8h0M413.3 700h0M414.7 699.5h0M415.8 699.8h0M418.3 699.7h0M423.1 699.9h0M424.6 700.3h0M425.7 699.5h0M431.5 699.9h0M432.7 699.7h0M438.7 700.4h0M621.7 700.3h0M624.5 700.1h0M625.9 700h0M628 699.7h0M630.2 699.6h0M631.9 700.3h0M637.8 700.4h0M638.6 700.3h0M640.5 700.1h0M417.7 701.3h0M418.5 701.3h0M418.9 701.4h0M420.9 700.5h0M430 701.2h0M430.3 700.8h0M435.6 700.9h0M436.1 700.6h0M439.1 701.2h0M443.9 701.1h0M622.4 701.2h0M626.1 700.9h0M628.8 701.2h0M631 700.9h0M631.4 700.9h0M637.3 700.6h0M638.5 700.6h0M419.9 701.8h0M423.6 701.6h0M423.7 701.6h0M425.3 701.6h0M426.6 701.8h0M427.3 702h0M430.3 702h0M431.8 702.2h0M432.1 701.6h0M437.7 702.2h0M441.4 702.1h0M441.8 702h0M445.1 701.9h0M446.2 702h0M447.9 702.2h0M617 702h0M624 701.6h0M625.2 702h0M626.5 701.6h0M628.9 702.1h0M631.4 702.2h0M638.4 701.6h0M427 703.5h0M427.1 703.4h0M429.3 703h0M430.4 702.9h0M430.4 702.8h0M433.6 703h0M434.8 703.1h0M434.9 703.2h0M438.2 703.2h0M438.7 702.8h0M441.8 702.7h0M442.2 703.4h0M446.7 703.2h0M447.5 702.6h0M451.1 703h0M452.7 703h0M611.5 703.1h0M615.2 703h0M615.6 702.5h0M617.6 703.2h0M618.9 703.4h0M629.1 703.3h0M631 702.7h0M634.6 702.9h0M431.4 704.2h0M432.5 704.2h0M433.9 704h0M435.2 703.5h0M437.9 703.7h0M443.6 703.7h0M446.5 703.7h0M451.7 703.7h0M452.1 703.7h0M455.3 703.6h0M606.8 704h0M611.1 704.3h0M613.1 703.5h0M615.5 703.5h0M616.5 704.2h0M617.6 704.3h0M619 704h0M620.1 703.8h0M622.5 703.8h0M625.9 703.7h0M627.9 704.1h0M628.4 703.6h0M444.4 705.4h0M445.8 705.5h0M448.2 705.1h0M450.8 704.7h0M455.6 704.7h0M456.4 705.1h0M457.3 704.7h0M457.6 704.6h0M469.9 705.4h0M470.8 705.5h0M472.8 705.3h0M475 705.3h0M476.1 705.4h0M490.5 705.4h0M496.4 705.2h0M497.2 705h0M497.6 705.2h0M500.1 705.4h0M500.6 705.3h0M503.8 705.5h0M504 705.4h0M509.4 705.1h0M510.3 705.2h0M512.1 705.2h0M518.1 705.4h0M523.5 705h0M524.3 705.1h0M527.4 705.1h0M527.6 705.3h0M535.5 705.1h0M537.6 705.1h0M543.1 705.5h0M543.5 705.4h0M545.8 705.5h0M548.9 705h0M552.6 705.3h0M557.4 705.5h0M565.7 705.2h0M566.5 705.2h0M576.8 705.3h0M577.1 705.5h0M580.8 705.2h0M594.2 705.1h0M600.5 705.3h0M605.4 705.3h0M605.5 705.2h0M606.3 705.2h0M608.2 705.4h0M610.5 704.8h0M613.3 704.8h0M613.5 704.6h0M617.3 705.3h0M620.4 705.1h0M622.2 704.8h0M625.5 704.6h0M626 704.7h0M439.8 705.5h0M441.4 705.6h0M442.5 706.1h0M442.8 705.6h0M445.7 706.3h0M447.7 706.3h0M451.3 705.9h0M453.1 705.8h0M463.9 705.7h0M464.3 705.9h0M465.2 705.6h0M467.9 706h0M468.5 705.7h0M469.6 706.4h0M469.6 706.4h0M472.6 705.6h0M473.3 705.7h0M480 706.2h0M480.2 706h0M482 706.3h0M482.2 705.9h0M483.3 706.5h0M484.8 706.1h0M486.3 705.8h0M496.1 706.3h0M498 706.2h0M503.3 706.4h0M505.7 705.9h0M506.5 706.5h0M508.7 706.1h0M511.1 705.9h0M514.5 706.3h0M516.2 706.3h0M516.7 705.8h0M519.4 706.1h0M529.3 706h0M533 705.6h0M536.8 706.5h0M539.1 706h0M544.4 706h0M548.3 705.6h0M549.3 706.4h0M551.1 705.6h0M551.2 705.8h0M554.8 706h0M555.8 706.3h0M557.1 705.5h0M560.8 706.5h0M561.3 706.2h0M561.6 706.3h0M569.2 705.8h0M570.7 705.9h0M572.8 706.3h0M574.6 705.7h0M577.3 706.1h0M578.9 706.4h0M580 706.4h0M580.4 706.2h0M580.7 705.5h0M585 705.8h0M589.6 706.2h0M593.8 706.4h0M593.8 706.2h0M594 705.8h0M596.3 706h0M596.6 706.1h0M605.8 706.4h0M606.2 705.9h0M607.6 706.5h0M610.1 705.7h0M610.1 706.2h0M617.5 705.8h0M619.2 705.8h0M620.3 705.7h0M445.3 707.4h0M446.8 707.1h0M449 706.9h0M462.9 706.8h0M467.3 706.5h0M470.4 707.1h0M473.5 706.7h0M474 706.7h0M474.2 706.7h0M485.4 706.6h0M485.6 707.2h0M490.6 707h0M491 707.5h0M501 706.9h0M504.4 706.9h0M505.3 706.5h0M507.3 707.3h0M513.6 707.4h0M514.3 706.5h0M518.8 706.6h0M519.2 706.6h0M526.1 707.3h0M529.2 707.3h0M532.2 707.4h0M533.7 706.6h0M539.1 706.9h0M542.9 707.2h0M545.6 706.6h0M547.1 706.9h0M548.7 707h0M550.3 707.5h0M556.9 707h0M557 706.9h0M557.8 706.5h0M557.8 707.1h0M562.8 707.3h0M566.7 706.9h0M573.9 707.2h0M576.9 706.6h0M578.3 706.6h0M582.2 707.1h0M584.3 706.8h0M584.7 706.6h0M585.1 706.5h0M589.3 707.4h0M589.5 707.2h0M593.9 706.8h0M597.5 706.7h0M599.7 707h0M601.7 706.6h0M603.5 707.4h0M607.5 706.5h0M608.4 707.1h0M611.4 707.3h0M614.6 707.1h0M615.9 706.8h0M617.6 707.2h0M451.8 707.6h0M455.4 708.3h0M455.4 707.7h0M460.8 707.6h0M463.2 707.7h0M466.9 708h0M467.9 708.2h0M470.8 708h0M471.9 708h0M473.3 707.8h0M474.3 707.6h0M478.2 708.1h0M480.2 708.1h0M481.7 708.3h0M482.4 707.6h0M485 708.3h0M486.2 708.4h0M486.9 707.9h0M489.8 707.7h0M497.2 708.4h0M498.1 708.5h0M499.7 707.7h0M499.7 707.6h0M504.2 708.1h0M505 708.1h0M510.7 707.7h0M512.6 708.5h0M517.5 708h0M519.3 707.6h0M520.4 707.9h0M521.7 707.7h0M522.9 708.1h0M523.2 708.3h0M523.5 707.8h0M526.7 707.8h0M534.9 708.1h0M535.5 707.5h0M538.7 707.8h0M544.1 707.7h0M545.6 707.6h0M548.4 707.6h0M550.5 707.7h0M557.8 707.9h0M557.9 707.8h0M559.6 708.3h0M562.4 708h0M563.3 707.6h0M563.6 707.6h0M570.4 708h0M570.6 708.4h0M571 708.1h0M576.2 707.8h0M579.3 707.6h0M582.5 708.4h0M584.4 707.7h0M586 707.8h0M590.2 708h0M590.5 707.6h0M592.6 708.4h0M592.9 707.8h0M593.7 707.9h0M594.8 707.5h0M596 708.1h0M597.9 707.8h0M606.3 707.7h0M613.7 708.3h0M614.2 707.7h0M453.5 708.9h0M454.1 709.3h0M457.7 708.8h0M458.9 708.9h0M465.6 709h0M465.8 708.8h0M472.1 708.6h0M473 709.4h0M474.3 709.1h0M478.3 708.7h0M480.3 709h0M482.3 708.7h0M484.3 709.3h0M485.3 709.2h0M486.8 708.8h0M494.3 709.3h0M496 709.4h0M497.4 708.8h0M503.7 708.6h0M506.5 709.3h0M509.2 708.9h0M509.9 709h0M510.3 709.1h0M512.7 709h0M513.1 709.4h0M517 708.6h0M517.6 708.6h0M519 709.3h0M522.4 708.5h0M522.4 708.8h0M524.8 708.7h0M525.3 708.6h0M527.4 709.4h0M528.8 709.1h0M534.7 709.2h0M537.6 708.8h0M546.9 709.3h0M549.9 709.3h0M558.1 709.1h0M560.4 709.1h0M565.1 709h0M565.2 709.4h0M566.7 709.3h0M567.4 709h0M567.5 709h0M567.7 709.1h0M567.9 709.1h0M569.3 709.3h0M571.6 708.7h0M572.6 708.9h0M574.6 709.2h0M579.1 709.3h0M583.3 708.8h0M588.2 709.1h0M588.7 709h0M602 709.1h0M602.5 709.4h0M603.9 708.9h0M605 708.8h0M607.4 708.9h0M607.7 708.8h0M608.9 709.1h0M610.9 708.9h0M612.1 708.7h0M463.5 709.9h0M464.4 709.6h0M466.6 710.3h0M467.3 710.4h0M467.4 709.7h0M467.9 709.7h0M473.3 710.3h0M473.9 710.2h0M474.2 710.1h0M474.6 710.2h0M478.8 710.1h0M481.9 710.1h0M484 709.9h0M487.6 709.9h0M490 710h0M491.8 709.5h0M495.8 710.3h0M496.3 710.2h0M497.4 710.3h0M503.9 710h0M504.9 710.2h0M505.4 710h0M506.6 710.1h0M509.2 710.4h0M512.7 709.9h0M513.6 709.6h0M513.9 710.3h0M520.8 709.5h0M521.4 710.1h0M521.9 709.5h0M523.5 709.8h0M524.1 709.8h0M525.1 709.6h0M525.5 709.7h0M527.6 710.3h0M528.8 709.9h0M531.8 710.4h0M541 710h0M542.8 709.9h0M544.8 710.3h0M547.2 709.9h0M549.3 710.1h0M553 710.1h0M555.8 709.6h0M560.5 710.2h0M568.4 710.5h0M568.9 710.2h0M574.4 710h0M580.1 710h0M581.3 710h0M581.9 709.7h0M585.7 709.7h0M587.7 709.9h0M600.2 710.2h0M605 709.8h0M606 709.6h0M465.4 710.9h0M472.8 710.6h0M473 710.7h0M473.5 710.9h0M486.1 710.8h0M496 710.9h0M496.8 710.6h0M500.5 710.8h0M503.5 710.9h0M508 710.9h0M509.6 710.9h0M514.8 711h0M516.3 710.5h0M526.2 710.7h0M529 710.7h0M530.9 710.5h0M551.8 710.7h0M552.5 710.9h0M554 710.6h0M567.3 710.6h0M568.2 710.7h0M572.6 711h0M577.8 710.5h0M579.5 710.6h0M584.2 710.6h0M590.9 710.7h0M591.2 710.5h0M597.5 710.6h0M597.7 711h0M600.5 710.6h0M603.6 711h0" stroke="#bebebe" stroke-width="3.1" stroke-linecap="round" fill="none"/>
<path d="M511 421h0M488.5 436.5h0M511.6 435.8h0M511.6 435.8h0M512.1 435.8h0M512.8 435.8h0M513 435.8h0M513.1 435.8h0M513.2 435.8h0M513.9 435.8h0M514.1 435.8h0M514.5 435.8h0M515.3 435.8h0M518.1 435.8h0M518.5 435.8h0M518.8 435.8h0M519 435.8h0M519.2 435.8h0M519.7 435.8h0M519.9 435.8h0M520.5 435.8h0M520.7 435.8h0M513.9 437h0M513.9 436.6h0M522.1 437.2h0M506.7 438.4h0M516.6 438.2h0M517.1 438.3h0M520.2 438.2h0M505.9 439.5h0M520.8 438.6h0M509.1 441.1h0M513.8 440.7h0M514.3 441h0M517.6 440.8h0M518.9 441.3h0M519.1 441.2h0M509.7 441.9h0M510.1 441.9h0M510.5 441.9h0M510.8 441.9h0M511.9 441.9h0M512 441.9h0M512.5 441.9h0M514.2 441.9h0M514.8 442.4h0M514.8 442.3h0M515.7 441.9h0M515.9 442.3h0M516.3 441.9h0M516.8 441.9h0M517.1 441.9h0M517.5 441.9h0M518.2 441.9h0M518.5 441.5h0M518.7 441.7h0M518.7 441.9h0M519.4 441.9h0M519.5 441.9h0M519.9 441.9h0M520.8 441.7h0M521 441.9h0M521.2 442.1h0M522.1 441.9h0M517.4 443h0M518.8 443.2h0M519.1 442.7h0M520.4 443.3h0M521.7 443.4h0M522.6 442.7h0M514.4 444h0M519 443.6h0M522.5 443.9h0M521.7 445.1h0M523.3 445.2h0M520 446.1h0M520.5 445.9h0M521.1 446.1h0M521.3 446.1h0M515.3 446.7h0M515.5 446.6h0M517.6 446.5h0M517.6 447h0M517.9 447.1h0M516.1 447.8h0M516.7 448.2h0M517.2 447.9h0M517.9 448.8h0M518.6 449h0M509.4 450h0M509.7 450.4h0M515.4 450.2h0M517.3 449.8h0M521.7 450.5h0M522 449.9h0M523.9 449.8h0M510.6 450.7h0M520.8 451.2h0M522.8 450.5h0M514.3 451.9h0M515.4 451.7h0M515.7 451.9h0M515.9 451.8h0M520.1 451.8h0M497 453.3h0M513.8 453.4h0M514.3 452.7h0M515.9 452.8h0M519.1 452.7h0M519.6 453.4h0M521.7 453.5h0M522.3 452.9h0M522.8 453.1h0M523.3 453.2h0M512 453.5h0M513.2 453.9h0M514.5 453.9h0M515.5 454.4h0M517.6 454.1h0M520.2 454.5h0M521.7 454.5h0M521.9 454h0M507.1 455.5h0M512 455.3h0M512.3 455.1h0M513.4 455h0M513.4 454.6h0M517 454.8h0M517.8 455.4h0M518.5 455.1h0M520.6 455.2h0M520.7 454.9h0M522 455h0M517.1 456h0M519.4 455.8h0M520.7 456h0M477.9 457.3h0M512.1 457.3h0M514.9 456.8h0M515.6 457.3h0M515.8 457.2h0M521.9 457.2h0M522.9 457.4h0M507.8 457.6h0M514.9 457.8h0M517.7 458.3h0M518.3 458h0M522.3 457.7h0M522.5 458.1h0M515 459.2h0M519.9 459h0M520.8 459.1h0M520.9 458.9h0M521.8 458.6h0M522 459.3h0M522 459.3h0M523.4 458.9h0M523.6 458.7h0M523.7 459.3h0M523.9 459.1h0M507 460.4h0M511.8 459.9h0M514.9 460.4h0M519.2 459.7h0M523.3 460h0M500.2 460.7h0M511.3 460.7h0M518 461.3h0M520.2 460.8h0M499.6 462h0M511.1 462h0M520.3 462.5h0M524.2 461.6h0M513.8 462.6h0M516.2 463.2h0M516.9 462.8h0M518.7 462.8h0M518.7 463h0M512 463.8h0M513.1 464.1h0M513.3 465.2h0M518 465h0M519.2 465.4h0M519.7 465.1h0M501.3 466.2h0M512.8 465.9h0M515.7 465.8h0M519.2 465.7h0M519.5 466.4h0M521.3 465.9h0M521.8 465.6h0M523 465.6h0M518.6 466.7h0M518.9 466.7h0M522.2 467h0M523.2 467.1h0M509.2 467.7h0M512.2 468.4h0M512.6 468.4h0M514.6 467.5h0M517.6 468h0M520.3 467.7h0M520.6 468.2h0M521.3 468.3h0M522.9 467.7h0M523.8 467.7h0M502.2 469h0M507.8 468.6h0M513.5 468.8h0M516.5 469h0M516.9 469.4h0M517.9 468.7h0M519.4 469.1h0M521.7 468.6h0M523.3 469h0M510.7 470.1h0M511.9 469.6h0M518.6 469.8h0M520.3 470.1h0M520.3 470.2h0M522.3 469.6h0M511.8 470.5h0M514 471.5h0M516.7 470.7h0M518 471.3h0M518.1 470.8h0M518.5 471.2h0M519.3 471.4h0M520.3 471.3h0M520.5 471.4h0M509.1 472h0M515.5 472.2h0M516.8 471.5h0M523.3 472.3h0M523.6 472.4h0M523.8 472.1h0M524.9 471.7h0M513 473h0M514.2 473.1h0M515.6 472.7h0M518.8 472.9h0M519.3 472.6h0M522.3 472.8h0M512.7 474.4h0M515.6 473.8h0M522.4 473.7h0M522.7 474.1h0M523.1 473.6h0M523.4 474.1h0M516.7 475.1h0M517.3 475.2h0M518.2 474.7h0M518.3 474.8h0M520.9 475h0M521.3 475.1h0M521.8 474.9h0M522.4 474.7h0M523.6 474.8h0M524.9 475.4h0M525.2 475.4h0M508.4 476.5h0M518.2 476.1h0M518.4 476.4h0M518.7 475.5h0M519.5 475.9h0M521.5 475.9h0M521.9 475.6h0M522.7 475.6h0M523.1 475.9h0M523.1 476.5h0M524.1 475.8h0M524.4 475.9h0M512.8 477h0M515.4 477h0M516.6 477.1h0M519.4 477.2h0M520.6 476.6h0M520.6 476.6h0M522.4 477.4h0M523.2 476.9h0M523.9 477h0M524.7 476.8h0M509.7 478h0M511.5 477.9h0M515 477.8h0M517.3 477.8h0M517.3 477.7h0M520.4 478.4h0M524.5 478.4h0M506.1 479h0M511.8 479.4h0M512.6 478.8h0M513.5 478.8h0M515.8 478.9h0M520 479h0M523 478.8h0M523.7 479.4h0M523.9 479h0M524.9 478.7h0M510.8 480.3h0M512.5 480.1h0M512.6 480h0M516.1 479.8h0M517.5 480.3h0M517.5 479.7h0M517.8 480.5h0M519.3 479.7h0M519.8 479.6h0M519.9 480.1h0M522.5 480.4h0M522.9 480.2h0M523.3 480.2h0M524.7 480.4h0M509.1 481.5h0M515 481.2h0M516 481h0M516.1 481h0M518.2 481h0M519 481.4h0M520.6 480.7h0M521.4 481.1h0M522.4 480.8h0M525.1 480.7h0M507.5 482h0M516.6 481.8h0M517.7 481.6h0M520.5 481.5h0M522.1 482.4h0M524.4 481.8h0M504.6 483.3h0M517.9 483.4h0M523.9 482.5h0M518.4 483.8h0M519.9 484h0M520.8 484.2h0M520.9 483.9h0M521.3 484.3h0M521.3 483.8h0M521.7 483.6h0M521.9 484.1h0M522.7 483.6h0M525.2 483.9h0M499.8 484.7h0M504.5 484.8h0M512.4 484.8h0M515.6 484.9h0M517 485h0M517.4 485.2h0M517.7 484.9h0M517.7 485.2h0M520.5 484.6h0M520.8 484.9h0M520.8 484.9h0M521.2 485.1h0M521.2 485.2h0M522 485.1h0M522.1 485h0M525.2 485h0M488.3 486.5h0M512.1 486.2h0M514.4 486.3h0M520.7 485.9h0M521.1 486h0M521.8 486h0M523.1 485.6h0M518.3 487.1h0M518.6 487h0M520.9 486.6h0M521.4 487.2h0M522.8 486.6h0M525.2 487.3h0M525.4 487h0M514.3 488.2h0M515.6 488h0M517 487.8h0M517 487.5h0M518.5 488h0M519.6 488.2h0M521.3 487.7h0M521.8 488.2h0M521.8 487.9h0M523 487.7h0M500.5 489.2h0M515 488.8h0M516.5 489.2h0M518.9 489.2h0M520.4 489.4h0M520.5 489h0M523.3 489h0M523.8 488.7h0M524 489.4h0M524.2 489.2h0M524.3 489.3h0M512.5 489.6h0M514.4 490.1h0M515.5 490.3h0M515.6 490.3h0M518.9 490.1h0M519 489.7h0M519.8 490h0M520.4 490.2h0M520.9 490.3h0M524.1 490.2h0M525.3 489.9h0M525.5 490.5h0M507.7 491.3h0M513.5 491.3h0M517.1 491.2h0M517.4 491.4h0M519.5 491.3h0M520.1 491h0M521.5 490.8h0M524.1 490.6h0M524.2 491.5h0M525.6 491.3h0M516.6 492.1h0M518.1 491.7h0M518.2 491.9h0M518.6 491.9h0M520.9 492h0M521.1 492.2h0M522.8 491.6h0M523.7 491.6h0M524 491.8h0M524.4 492.3h0M525.8 492.4h0M500.9 493.2h0M506.9 492.8h0M514.2 492.8h0M521.8 492.7h0M522.1 492.8h0M523.5 493.2h0M504.6 494.4h0M507.8 493.7h0M511.7 494.3h0M520.5 494.2h0M523.6 493.9h0M524 493.8h0M488.7 495h0M503.8 494.7h0M513.2 495.1h0M519.9 494.8h0M520.7 494.7h0M520.8 494.6h0M522.4 494.9h0M523.5 494.9h0M524.1 494.6h0M513.9 495.6h0M514.8 495.6h0M517.8 496.1h0M518.8 496h0M521.5 496.2h0M522.4 495.8h0M522.7 495.6h0M523.4 496.5h0M523.7 495.7h0M523.7 496.1h0M523.8 495.6h0M524.4 495.5h0M525.2 496.5h0M525.4 495.9h0M510.1 496.7h0M513 496.8h0M515.5 497.1h0M516.1 496.8h0M518.6 496.5h0M520.7 497h0M521.4 496.5h0M521.8 496.6h0M524.2 497.5h0M508 498.3h0M510.1 497.8h0M514.5 497.8h0M516.4 497.8h0M516.7 497.9h0M518 497.7h0M520.4 497.5h0M520.8 497.8h0M521.1 498h0M521.5 497.5h0M522.3 498.2h0M523.1 497.6h0M525.3 498.5h0M525.9 497.6h0M511.3 498.8h0M516.8 499.4h0M518.6 498.5h0M521.5 498.6h0M521.7 498.7h0M521.8 498.8h0M523.8 498.8h0M519.2 500.2h0M519.4 500.2h0M519.7 500h0M519.9 499.9h0M520.3 500.5h0M521.7 500.4h0M522.7 500h0M522.8 499.5h0M523.7 499.6h0M511.3 501.5h0M515.1 500.8h0M516.5 500.7h0M516.6 501.4h0M517 501.3h0M517.1 501.2h0M519.9 501h0M521 501.1h0M507.7 501.9h0M507.8 502.2h0M519.9 502.5h0M522 501.8h0M522.7 501.7h0M526.4 501.6h0M511.8 502.9h0M514.9 503.2h0M515 502.8h0M517.3 502.7h0M517.7 502.9h0M520.2 503h0M520.9 502.6h0M522.5 503.1h0M523.9 503.1h0M524.2 503.3h0M491 504.4h0M495.5 504.4h0M517.3 504.1h0M518.8 504h0M520.3 504.3h0M520.4 503.5h0M522.5 504.1h0M523.2 504.2h0M525.9 503.8h0M493.4 505.4h0M511.7 505.2h0M513.2 504.5h0M513.6 504.6h0M519.7 504.8h0M521.4 504.7h0M521.6 504.9h0M522.5 505.3h0M522.7 505.2h0M523.2 505.3h0M523.4 504.7h0M523.6 504.7h0M523.7 505.5h0M524 504.7h0M508.1 506.4h0M509.3 505.9h0M512 505.7h0M517.8 506.5h0M517.8 505.9h0M519.9 505.7h0M519.9 506.2h0M522 506.4h0M522.1 506.2h0M522.7 505.7h0M523.6 506.4h0M525.5 506.3h0M507.3 506.6h0M514.9 507h0M515.3 506.7h0M518.6 507.4h0M519.8 506.5h0M521.3 506.7h0M521.3 507.4h0M521.6 507.5h0M521.8 507.3h0M487 507.8h0M508.3 507.6h0M513.4 507.8h0M519.5 508.2h0M520 508.3h0M521.3 507.9h0M521.9 507.5h0M521.9 507.6h0M521.9 508.4h0M523.6 508.1h0M523.7 508.3h0M525.4 508.4h0M526 508.2h0M515.5 508.8h0M515.6 509.5h0M516.4 508.7h0M518.8 509.3h0M519.6 509h0M520.5 508.6h0M522 509.1h0M522.9 508.6h0M524.9 509.3h0M526 508.7h0M526.1 508.7h0M480.9 510.2h0M510.5 510.1h0M517 510.2h0M517.4 509.6h0M520 509.9h0M520 509.6h0M522.4 510.3h0M523.2 509.6h0M524.3 509.9h0M525.7 509.9h0M509.6 510.9h0M513.6 511.3h0M514.2 511.1h0M519.9 511.5h0M520.2 510.7h0M521.9 510.7h0M521.9 510.6h0M522.6 511h0M523.1 510.9h0M506 511.6h0M510.4 511.7h0M512.4 512.4h0M517.4 511.9h0M520.2 512.1h0M526 511.8h0M510.9 512.9h0M520.9 513h0M521.6 513h0M522.9 512.9h0M525.9 512.8h0M505.6 514h0M511.2 513.9h0M516.4 514.3h0M516.9 513.6h0M517.3 513.7h0M518.1 514.4h0M518.5 514.5h0M519.6 513.6h0M524.7 513.5h0M526.1 514.4h0M501.7 514.9h0M516.5 515.5h0M517.5 515.2h0M519.7 514.5h0M520.9 515.1h0M524.2 514.8h0M524.3 514.8h0M526 514.7h0M526.3 515.4h0M526.8 514.6h0M494.5 515.6h0M496.7 515.6h0M509.6 516.1h0M516.4 516.2h0M519.1 516.2h0M522.1 515.6h0M522.6 516.3h0M522.8 515.7h0M523.6 516.1h0M524.7 516h0M525.3 516.3h0M526.4 516.3h0M526.5 515.8h0M502.7 517.1h0M516 516.6h0M518.1 517h0M519.6 516.6h0M520.8 517.3h0M521.7 516.5h0M522.2 517.1h0M524 516.6h0M525.9 517h0M527.1 516.6h0M495.4 518.4h0M503.4 518h0M508.8 518h0M511.3 518.3h0M516.8 517.9h0M518.3 517.5h0M519.3 518.4h0M520.4 517.9h0M522.4 518.1h0M522.6 517.7h0M523.4 518.1h0M524.1 517.7h0M524.4 518h0M525.1 517.8h0M525.9 518h0M513.6 518.7h0M514.2 519.3h0M520.9 518.9h0M521.8 518.8h0M522.2 518.9h0M523.9 518.5h0M524.1 519.2h0M525.4 519.5h0M526 518.9h0M526.2 519.3h0M527.3 518.9h0M502.3 519.8h0M502.8 519.7h0M510.3 519.8h0M515.1 519.9h0M516.5 519.8h0M522.3 519.7h0M524 519.7h0M524.9 519.7h0M526.3 520.4h0M527.2 519.7h0M509.7 521.3h0M512.3 520.7h0M514.3 521.1h0M514.8 520.9h0M515.5 521.4h0M519.2 521.2h0M520.4 521.2h0M522.8 521.4h0M523.5 520.6h0M524.3 520.6h0M524.6 521.3h0M508.1 522.4h0M513.2 522.2h0M513.8 522.3h0M513.8 522.3h0M517.9 522.3h0M518.4 521.8h0M518.7 521.8h0M519.7 521.6h0M521.2 522.5h0M522.4 521.9h0M523 522h0M523.6 522h0M524.6 522.3h0M508.1 523h0M509.2 523.4h0M510 523h0M511.4 522.9h0M514.2 522.8h0M516.8 523.3h0M521.1 523.2h0M521.7 522.8h0M521.8 522.5h0M522.3 523.2h0M523.7 523h0M523.8 523.1h0M517.8 523.7h0M518.2 524.4h0M519.6 524.3h0M520.2 524.3h0M520.8 523.8h0M522.3 523.9h0M524.2 524.4h0M524.2 524.4h0M524.2 523.5h0M525.3 523.8h0M501.8 524.9h0M513.4 525.3h0M518.1 525.3h0M522.3 525.2h0M522.3 524.6h0M522.5 524.7h0M523.3 525.3h0M526.6 525h0M527.2 524.8h0M514.7 525.7h0M517.5 525.7h0M518.8 525.9h0M521.3 525.8h0M522.9 526.4h0M523.1 525.8h0M524.4 526.1h0M525.2 525.5h0M526.5 525.6h0M500.5 526.9h0M503 527.3h0M515.2 526.7h0M515.3 527h0M516.4 527.5h0M517.6 527.2h0M518.1 526.7h0M518.6 527.4h0M519 527.4h0M520.3 527.4h0M520.8 527.3h0M521.9 527.3h0M523.1 526.5h0M510.9 527.7h0M513.4 528h0M515.1 527.6h0M516.3 528h0M518 527.5h0M518.1 527.6h0M518.1 528h0M522.4 527.8h0M523.6 528h0M523.9 528h0M523.9 527.7h0M524.2 527.6h0M524.4 528.3h0M517.1 528.7h0M517.2 529.1h0M519.8 529.1h0M523.5 529.1h0M523.8 528.5h0M524.3 529.2h0M525.3 528.5h0M527.2 528.8h0M509.8 530h0M524.1 530.1h0M525.2 530.1h0M525.3 530.4h0M525.7 529.7h0M527.4 530.2h0M513.6 531.1h0M516.4 531.1h0M518.2 531.4h0M521.3 531.2h0M522.4 531.3h0M525.1 530.7h0M525.8 530.6h0M526.5 530.7h0M526.9 531h0M485.9 532.3h0M492.1 531.6h0M514.4 531.9h0M517.7 532.2h0M518.3 532.5h0M519.7 532.3h0M523.1 532.4h0M523.2 532.2h0M523.3 532h0M525.3 532.1h0M526.1 531.6h0M503.8 533.3h0M517.6 533h0M518.7 532.8h0M518.9 532.6h0M521.3 533.2h0M522.4 532.6h0M523.3 533.1h0M523.6 533.1h0M524 533.2h0M524.6 532.6h0M526.9 533h0M511.6 534.4h0M513.2 533.7h0M516.8 534.3h0M522.6 534.4h0M523.1 534.2h0M523.1 534h0M524.2 533.7h0M525.1 534.2h0M525.7 534h0M526 533.8h0M526.6 534.3h0M501.5 535.2h0M508.6 535h0M509.4 535.3h0M511.3 535h0M512.4 535.2h0M513.7 534.8h0M517.9 534.8h0M520.1 534.6h0M521 535.1h0M522.1 534.9h0M525.2 534.5h0M527.3 534.6h0M506.5 536h0M510.5 536.3h0M515.4 536.2h0M520.9 536.4h0M521.3 535.6h0M521.3 535.7h0M522.7 536.3h0M522.9 536.4h0M523.6 536.4h0M524.2 536.1h0M525.5 535.7h0M527.7 535.8h0M527.8 536.1h0M527.9 536.3h0M498 537.2h0M513.6 537h0M514.6 536.9h0M515.5 536.7h0M515.9 536.5h0M517.6 536.6h0M519.4 536.7h0M521.4 536.8h0M521.6 536.9h0M522.5 537h0M523 536.9h0M525.2 537.3h0M525.2 537h0M525.7 536.8h0M527.1 536.7h0M504 537.9h0M505 538.2h0M513.6 537.6h0M516.4 538h0M524.9 538.2h0M525.5 538.3h0M527 538.4h0M515.6 539.2h0M517.9 539h0M518.3 538.6h0M521.2 538.9h0M522.1 539h0M523.2 538.8h0M526.5 538.8h0M514.4 540.1h0M515.9 539.9h0M518.2 539.9h0M518.6 539.5h0M519.2 539.8h0M519.2 539.7h0M521 539.5h0M521.4 539.6h0M522.6 540.2h0M522.7 539.9h0M523.4 540.3h0M525.7 539.7h0M525.9 540.5h0M526.3 540h0M526.4 540.2h0M504 541.4h0M513.6 540.6h0M520 540.8h0M520.4 541.3h0M521 540.8h0M521.2 541.5h0M522.7 541.1h0M523 541.2h0M523.3 540.8h0M525.5 540.5h0M526.4 540.8h0M526.7 541.2h0M527.1 541.4h0M528.3 540.7h0M505.2 541.8h0M514 541.9h0M517.9 542.4h0M521.9 542h0M522.3 542.1h0M523 542.4h0M525.3 542h0M525.9 541.7h0M526.8 541.6h0M526.8 542.2h0M513.9 542.8h0M514.9 542.5h0M516 543h0M518.8 542.6h0M524 542.7h0M524.5 542.9h0M525 543.3h0M525.8 543h0M497.5 544.5h0M506.6 543.9h0M508.9 544.2h0M510.3 544.3h0M513 543.6h0M514 544.4h0M516.7 543.6h0M518.8 544.3h0M522.2 543.7h0M523.8 544.4h0M524.2 543.5h0M524.4 544.3h0M525.5 543.8h0M526.9 543.9h0M527.5 544.3h0M510.1 544.7h0M516.9 545.2h0M518.3 545h0M518.8 544.9h0M521.9 545.3h0M523.2 544.7h0M525.2 544.9h0M527.4 545.2h0M128.9 545.5h0M511.1 545.9h0M511.7 545.7h0M517.5 545.8h0M519.2 546.1h0M519.9 546.1h0M520.3 546.3h0M520.8 545.8h0M522.2 546.4h0M523.9 546.5h0M524.5 546.1h0M525 546.3h0M525.3 546h0M527.3 545.9h0M507.8 546.7h0M511.3 546.6h0M511.4 546.6h0M516.7 547.1h0M517.4 547.1h0M519.2 547h0M519.7 546.7h0M520.7 546.9h0M521.3 546.6h0M521.7 547h0M522.7 547h0M522.9 547.2h0M524.3 546.6h0M524.6 547.4h0M525.2 546.8h0M527.3 547.4h0M528.1 547.2h0M528.2 547.5h0M484.6 548.3h0M514.1 548.4h0M516 548.1h0M517.1 547.5h0M517.1 548.4h0M522.4 548.3h0M523.8 548.5h0M523.9 547.8h0M524.8 548.3h0M525 547.8h0M527.1 548.1h0M513.8 549.2h0M519.8 548.7h0M520.9 549.1h0M521.9 548.6h0M522.2 548.8h0M522.2 548.8h0M523.6 549.1h0M524.3 549.3h0M525 549.2h0M525.1 548.6h0M525.7 549.1h0M527.1 548.7h0M224.9 550.4h0M516.4 550.4h0M516.4 550.4h0M517.1 549.9h0M518 550.2h0M521.8 550.2h0M523.8 550h0M525.5 550h0M525.6 550h0M526.4 550.1h0M526.7 550.2h0M527.1 550.3h0M528 550.1h0M281.9 550.9h0M501 550.6h0M508.1 551.4h0M513.4 550.8h0M515.1 551.5h0M519.1 550.8h0M520.6 550.9h0M523.5 550.9h0M523.6 550.7h0M524.1 551.2h0M524.9 550.5h0M247.5 552.2h0M505 552h0M517.7 551.7h0M517.8 551.8h0M519.5 551.9h0M520.4 551.7h0M522.1 552.3h0M522.5 551.7h0M524.3 552h0M524.7 551.7h0M524.8 552h0M525.6 552.3h0M525.8 552.4h0M526.8 551.6h0M527.8 551.9h0M528.2 551.8h0M510.2 552.7h0M517.6 552.9h0M517.6 552.9h0M517.8 553.3h0M518.3 552.5h0M519.8 552.6h0M522.9 552.8h0M523 552.6h0M523.6 552.9h0M524.4 552.6h0M524.5 553h0M525 552.8h0M525.8 553.5h0M527.1 553.5h0M527.9 552.9h0M511 554.3h0M512.7 553.9h0M515.5 553.9h0M516.5 554.3h0M518.4 553.6h0M521.7 553.6h0M522.1 554.3h0M523 553.8h0M523.5 553.9h0M525.8 554.3h0M248 554.6h0M503.1 554.5h0M510.7 555.4h0M512.5 555h0M521.5 555.3h0M521.9 555.1h0M523.2 555.2h0M523.8 555.3h0M523.9 555.1h0M525.4 555.4h0M526.4 554.8h0M527 554.8h0M527.5 555h0M527.8 554.8h0M513.5 556.3h0M515.1 556.1h0M515.9 556.2h0M518.5 555.7h0M519.1 556h0M521.2 555.7h0M522.1 555.8h0M522.4 556.2h0M522.6 556.3h0M524.3 556.2h0M525.7 555.9h0M525.8 556.3h0M526 556.4h0M507.7 557.3h0M514.9 557.2h0M515.5 557h0M517 556.9h0M517.9 556.8h0M522.4 556.6h0M523.6 556.7h0M524.8 557.2h0M525.4 556.6h0M526.8 557.4h0M526.8 556.6h0M527.6 556.8h0M527.7 556.6h0M528.4 556.7h0M506.1 557.6h0M516.7 557.8h0M519.1 558.5h0M519.8 557.9h0M520.5 557.6h0M524.3 557.5h0M526.1 557.7h0M526.7 557.6h0M514 558.7h0M520.1 559.3h0M520.4 558.9h0M520.6 559.1h0M521.5 558.5h0M522.3 559h0M522.7 558.6h0M523.7 559.4h0M525 558.9h0M527.6 559.2h0M528.2 559.2h0M528.7 558.9h0M228.1 559.6h0M494.6 560.4h0M512.8 560.2h0M516.4 559.9h0M521.4 559.7h0M523.7 559.6h0M525.7 560.4h0M527.2 559.5h0M528.2 559.9h0M516.9 560.6h0M518.2 561.4h0M519.6 560.7h0M519.8 560.7h0M520.3 560.6h0M520.6 561.1h0M520.8 560.7h0M521.3 560.9h0M523.8 560.5h0M524.2 561.3h0M524.7 560.7h0M499.4 561.5h0M510.1 562.4h0M513.1 561.8h0M517.5 561.9h0M518.9 562.2h0M519.1 561.5h0M521.5 562.2h0M522.9 562.1h0M523.1 561.9h0M523.6 561.9h0M523.7 561.5h0M525.8 562h0M526.2 561.7h0M526.3 562h0M527.3 561.5h0M494.4 563.1h0M518.4 562.9h0M521 562.5h0M522.2 562.6h0M523.6 562.6h0M523.8 562.9h0M525.3 562.8h0M525.8 563.5h0M526.8 563.1h0M528.1 563.1h0M506.5 564h0M507.7 564.4h0M507.8 564.4h0M511.5 564.1h0M516.7 564.1h0M517.7 563.7h0M519.6 563.8h0M521 564.5h0M521.5 564.5h0M521.9 564.3h0M523.3 563.8h0M523.7 564.3h0M523.9 563.6h0M526.8 564.2h0M528.5 564.3h0M510.2 565h0M522.4 564.7h0M524.3 564.6h0M525 564.6h0M526.1 564.6h0M528.4 565.1h0M529.2 564.8h0M510.1 565.8h0M513.7 565.5h0M516 566h0M521.9 566.2h0M521.9 566.2h0M522.9 566.3h0M523.9 566.1h0M524.3 565.9h0M524.5 565.9h0M525.3 565.6h0M525.4 565.5h0M526.7 565.7h0M527 566h0M527.8 566.4h0M528.1 566.1h0M528.3 565.6h0M517.1 567h0M518 566.8h0M520.2 566.8h0M520.3 567h0M522.5 567.5h0M522.9 566.9h0M523.1 567.2h0M523.6 566.5h0M524.7 567.1h0M526.9 566.7h0M528.7 567.3h0M529.2 566.6h0M252.9 567.8h0M511.1 568.2h0M512.7 568.4h0M513.2 568.2h0M513.3 567.7h0M517.6 567.8h0M520.9 568.4h0M525.2 568h0M525.7 568h0M527.2 568h0M527.6 568.2h0M529 567.7h0M490.6 568.6h0M504.2 569.4h0M510.3 568.7h0M513.4 568.9h0M519 569.2h0M522.7 569.4h0M524.2 569.4h0M524.7 568.7h0M525 568.7h0M525.8 569.5h0M526.6 568.9h0M527.1 569.4h0M527.3 569.4h0M501.6 570.3h0M507.4 570.4h0M511.3 570.4h0M516.6 570.3h0M518.2 570.4h0M522.2 569.8h0M523.7 570.4h0M527.2 569.6h0M527.9 570.3h0M504.4 570.9h0M514.2 570.7h0M515 571h0M516.5 571.1h0M518 571.4h0M518.6 571.3h0M520.6 570.9h0M521.6 570.6h0M522.1 570.7h0M522.2 570.6h0M524.4 570.6h0M524.5 571h0M524.7 570.5h0M525.1 571h0M525.8 571.4h0M527.4 571.5h0M528.4 571.2h0M529.1 570.8h0M504.8 572.3h0M507.9 572.4h0M518.6 572.1h0M520.5 572.4h0M520.6 572.5h0M523.9 572.2h0M526.7 571.6h0M527.4 571.5h0M527.7 571.9h0M528.9 572.4h0M490.6 572.6h0M503.8 572.8h0M519.2 572.6h0M520.5 572.6h0M520.7 572.8h0M521.1 572.5h0M521.6 572.8h0M522.5 573h0M522.7 573.5h0M524.2 573.3h0M526 572.9h0M527 573h0M528 573h0M529.1 573h0M503.1 573.9h0M511.8 574.5h0M518.8 573.8h0M519.5 574.4h0M519.6 573.9h0M519.6 574.4h0M522.6 573.7h0M522.7 574h0M523.7 573.7h0M523.8 574.2h0M525.7 574.1h0M525.9 573.9h0M526.5 573.8h0M527 574h0M527.4 573.8h0M529.1 574.4h0M529.3 573.8h0M529.5 574.1h0M475.7 575.3h0M510.9 574.8h0M514.9 575.4h0M515.7 575.5h0M517 575.4h0M518.4 574.7h0M519.5 575.3h0M520.2 575.3h0M520.5 574.8h0M521.9 575h0M522.8 575.2h0M522.8 575.1h0M523.1 574.8h0M523.5 575.1h0M524.6 574.9h0M526.1 575.4h0M526.2 574.5h0M222.7 576h0M281.4 576h0M512.5 576.4h0M517 575.8h0M517.6 576.2h0M519.4 575.6h0M520.8 576.4h0M521.8 575.8h0M522.8 576.4h0M522.9 576.1h0M523.2 575.5h0M523.9 576.2h0M524.4 575.6h0M524.7 576.1h0M525 575.8h0M525 576.2h0M525.6 575.9h0M526.1 575.7h0M529.4 576h0M529.8 576.1h0M506.2 576.6h0M511.6 577.1h0M512.6 576.7h0M516 577h0M517.7 576.6h0M519.7 577.1h0M520 576.7h0M520.3 576.6h0M521.2 577.2h0M524.1 576.9h0M525.5 577h0M527.7 577h0M527.9 576.6h0M528.4 576.9h0M529.9 576.8h0M190.2 577.7h0M283.2 578.2h0M513.7 577.8h0M515 577.7h0M515.5 577.6h0M515.9 577.6h0M517.1 578.5h0M518.2 577.9h0M521 577.9h0M521.5 578h0M522.2 578.3h0M523.1 578.1h0M523.3 578.4h0M526.2 577.8h0M528.2 577.7h0M529.3 577.7h0M301.2 578.8h0M313 578.8h0M500.6 578.8h0M510.7 578.7h0M517.6 578.7h0M519.5 578.9h0M520.5 579.2h0M521.2 578.9h0M522.8 579.3h0M522.9 578.5h0M522.9 578.5h0M524.6 578.5h0M526 578.8h0M526.1 578.7h0M527.6 579.5h0M527.8 578.8h0M527.8 578.7h0M503.9 579.6h0M510.3 579.9h0M511.4 579.7h0M511.4 580.1h0M514.2 580.2h0M514.3 580.3h0M515.7 579.9h0M519.2 579.9h0M521.7 579.6h0M522 579.7h0M524.3 579.5h0M524.7 579.5h0M524.8 579.9h0M529 580.4h0M241.3 581.4h0M267.8 581.4h0M493.3 580.9h0M495.2 580.7h0M511.4 580.6h0M513 581h0M514.3 580.6h0M516.9 580.7h0M520.8 581.3h0M522.5 581.2h0M525.2 580.6h0M525.5 580.8h0M278.2 581.9h0M499.8 582.1h0M511.3 581.9h0M511.8 582.1h0M514.6 581.8h0M522.7 581.8h0M523.2 581.6h0M524.4 582.1h0M525 582.1h0M525.1 582.3h0M525.2 582.3h0M526.3 582.4h0M527.1 581.8h0M506.3 582.8h0M510.1 583h0M515.5 583.3h0M519 583h0M520.8 583.4h0M523.6 583.2h0M526.8 583.1h0M527.9 583.5h0M528.3 582.8h0M528.5 582.5h0M529.2 582.7h0M255.4 583.9h0M291.3 583.9h0M318.7 584.3h0M508.3 584.4h0M515.8 584.3h0M516.4 584.3h0M517.1 584.1h0M518.3 584.3h0M518.7 584.4h0M521.3 584.4h0M523.8 583.7h0M525 583.6h0M525.2 584.5h0M510.4 585h0M521.7 584.5h0M522.6 584.7h0M522.8 584.7h0M524.2 585.4h0M525.3 585.4h0M525.8 584.7h0M526.4 584.5h0M527.1 584.9h0M527.7 584.9h0M257.9 585.6h0M288.9 585.6h0M493.8 586.1h0M506 586.4h0M511.1 586.3h0M512.8 585.9h0M520.1 586h0M521.8 586h0M525.2 586.4h0M525.4 585.9h0M525.5 586.3h0M527.2 585.9h0M529.5 586.3h0M507.9 586.7h0M510.4 587.5h0M513 586.6h0M513.1 587.2h0M513.8 587.3h0M515.5 587.2h0M516 587.5h0M518.2 586.7h0M519.2 586.7h0M522.7 586.8h0M524.4 587.4h0M525.8 587.2h0M526.9 587.4h0M527.5 587.1h0M528.4 587.4h0M529.9 586.9h0M511.6 588.2h0M520.4 587.6h0M520.6 587.8h0M522.9 588.2h0M523.4 588.3h0M526.3 588.3h0M526.7 588.2h0M527.7 587.8h0M528 588.4h0M528 588.3h0M528.7 588.3h0M528.9 588.2h0M528.9 587.8h0M221.4 588.9h0M494.8 589.4h0M496.9 588.5h0M511.3 589h0M514.6 589.1h0M514.9 588.5h0M516.7 589.4h0M518.3 588.6h0M524.2 589h0M525.4 589.3h0M526.7 589.2h0M527.3 588.5h0M529.2 588.6h0M529.7 589.2h0M516.5 589.6h0" stroke="#0433ff" stroke-width="3.3" stroke-linecap="round" fill="none"/>
<path d="M918.6 76.6h0M858.7 418.9h0M905.8 418.9h0M985.9 418.9h0M550.5 435.8h0M555.2 435.8h0M559.2 435.8h0M560 435.8h0M560.3 435.8h0M569.7 435.8h0M571.1 435.8h0M577.3 435.8h0M578.6 435.8h0M580.8 435.8h0M582.8 435.8h0M587.6 435.8h0M599.7 435.8h0M798 435.9h0M640.5 436.5h0M910.2 436.5h0M932 436.5h0M640.4 438h0M768.6 438.3h0M594.8 439.3h0M641.5 438.5h0M805.7 438.9h0M870.1 438.9h0M574.1 440.9h0M549.2 441.9h0M559 441.9h0M559.3 441.9h0M560.9 441.9h0M563.2 441.9h0M575.1 441.9h0M585.1 441.9h0M585.7 441.9h0M591.5 441.9h0M591.5 441.9h0M593.7 441.9h0M598.7 441.9h0M599.6 441.9h0M581.4 442.9h0M636.7 443.5h0M811.2 443.3h0M546.6 444.3h0M559 443.9h0M561.8 443.6h0M569.8 443.8h0M571 443.8h0M576.9 445.4h0M578.8 444.8h0M588.6 444.6h0M560 446.3h0M552.7 446.6h0M567.2 447.4h0M568.9 446.7h0M555.6 448h0M587.9 448h0M551.3 449h0M568.7 448.6h0M573.5 448.5h0M640.7 449.1h0M558.6 449.5h0M575.1 449.6h0M567.2 450.9h0M567.2 450.9h0M575.7 450.9h0M586.6 451.3h0M554.5 452.2h0M634.4 452h0M571.8 453.2h0M659 452.7h0M563 455.5h0M564.2 454.9h0M611.3 455.2h0M551.3 456h0M575 457.1h0M550.2 457.8h0M551.6 457.6h0M572 457.9h0M572.1 458h0M560 459.1h0M573.6 459.3h0M549.3 459.9h0M556.6 460.4h0M600.1 460.4h0M649.7 459.7h0M558.9 461.1h0M567.3 462.2h0M608.4 461.6h0M621.5 461.7h0M565.5 462.6h0M568 463.4h0M568.5 463h0M801.2 463.3h0M551 463.5h0M557.8 463.7h0M565.4 464.1h0M576.2 464h0M621.6 463.6h0M897.5 463.9h0M949.1 463.9h0M668.4 464.5h0M672.3 464.5h0M842.2 464.8h0M549.7 465.7h0M560.7 465.9h0M566.5 466.4h0M576.7 466.3h0M583 466.3h0M596.9 465.6h0M947.6 466.3h0M549.6 466.7h0M840.7 467.5h0M899.9 466.9h0M559.1 469.2h0M586.1 469.5h0M563.1 469.8h0M563.6 469.6h0M655.2 469.8h0M803.3 469.8h0M571.9 471.8h0M580 472.3h0M616.4 472.3h0M625.1 472.2h0M638.4 472.2h0M747.3 471.9h0M565.1 473.3h0M570.2 473h0M575 473.3h0M586.3 472.9h0M848.4 472.8h0M556.7 473.8h0M606.6 474.2h0M543.7 475.2h0M614 476.1h0M561.4 476.8h0M574 476.7h0M551.2 477.5h0M566.8 478h0M567.9 478.4h0M581.7 478.2h0M561.3 479.3h0M561.8 479.5h0M564.3 478.7h0M570.9 478.7h0M572.9 479.4h0M862.2 479.2h0M548.7 481.4h0M549.7 481.2h0M551.9 481.4h0M556.5 481.3h0M558.2 481.5h0M587.1 481.4h0M661.4 481h0M544.2 482.5h0M553.5 481.7h0M563.3 482.4h0M572.7 482.1h0M579.2 482.5h0M545.4 482.6h0M574.5 483.4h0M576.9 482.6h0M856.9 483.1h0M859.8 483.1h0M543.9 484h0M546.5 484.3h0M558 483.5h0M588.8 483.6h0M550.5 485.1h0M558.1 485.1h0M560 484.8h0M684 484.5h0M555.9 486h0M586.6 485.8h0M620.8 485.7h0M551.1 486.9h0M553.7 486.7h0M564.2 487.3h0M650.4 486.7h0M555.6 487.8h0M569.3 488h0M590.1 487.6h0M608.9 487.8h0M614.4 487.7h0M563.6 488.6h0M591.9 489.3h0M566.4 490.3h0M545.7 491.3h0M546.8 491.2h0M552.3 490.7h0M554.4 491.4h0M565 490.6h0M570.6 491.3h0M582.7 491.1h0M628.6 491.1h0M707 491h0M549.4 492.1h0M564.5 492.1h0M569.5 492.1h0M573 492.2h0M574.8 491.7h0M720.8 491.9h0M547.4 493.3h0M557.8 492.7h0M562.3 492.8h0M562.9 493.2h0M587.8 493.4h0M552.9 494h0M555.4 493.5h0M555.7 494.3h0M546.5 495h0M561.9 495.1h0M567.7 495.4h0M551.1 496.2h0M551.6 496.3h0M559.7 495.9h0M566.5 495.8h0M565.8 496.8h0M588.3 496.7h0M547.6 497.8h0M559.6 497.6h0M562.6 497.7h0M563.6 497.7h0M564.3 497.7h0M772.4 497.8h0M561.3 498.6h0M584.3 498.6h0M617.4 499h0M542.7 499.6h0M549.4 499.6h0M869.6 499.8h0M543 501.2h0M560.5 501.1h0M562.4 501.3h0M566.1 501.1h0M581.7 501.3h0M623.8 500.8h0M550.9 502h0M553 502.4h0M555 502.3h0M557.6 502.3h0M548.9 502.8h0M549.2 503.2h0M556.4 503.5h0M570.3 503h0M597.1 503.4h0M553.3 504.1h0M569 503.7h0M602.5 503.8h0M643.4 503.9h0M578.1 505.2h0M544.3 506.1h0M545.1 505.9h0M551.7 506.4h0M559.7 505.7h0M583.9 505.9h0M846.6 505.7h0M542.7 506.8h0M545.2 507.3h0M556.6 506.9h0M565.2 506.7h0M565.7 507.3h0M569.1 507.1h0M737 507.2h0M542.9 507.9h0M544.9 508.2h0M545.6 507.7h0M547.7 507.9h0M581.5 507.6h0M584.3 509.4h0M552.1 509.8h0M552.9 509.9h0M554.8 510.3h0M569.8 509.9h0M594.9 510h0M756.8 509.6h0M560.8 510.8h0M548.5 511.5h0M549.6 511.8h0M595.6 512.1h0M616.7 512.2h0M544.7 513.4h0M551 513.3h0M551.5 513.2h0M563.3 512.8h0M588.7 513.1h0M616.3 513.3h0M669.9 513.4h0M803.3 513.1h0M924.9 512.5h0M546.7 514.4h0M548.1 514.4h0M564.1 513.6h0M596.1 513.7h0M645.9 514.1h0M553.4 515h0M555.7 515h0M562 515.3h0M585.1 514.9h0M547.1 515.8h0M549 516.4h0M570.5 516.3h0M547.5 517.1h0M553.6 517.3h0M560.2 517.1h0M568.4 516.8h0M574.7 517.2h0M549.7 518.4h0M561.8 517.8h0M565.5 517.6h0M589.6 518h0M812.7 517.8h0M552.5 518.6h0M550.1 520.4h0M592.6 520.4h0M609.7 520.5h0M546.6 521.2h0M547 520.7h0M564.8 520.8h0M568.1 520.6h0M569.7 520.8h0M570.3 521.2h0M572.3 521.1h0M583.7 521.4h0M543.9 522.1h0M551.1 522.4h0M551.1 521.8h0M553.4 521.8h0M556.2 522.4h0M560.6 522.3h0M561.5 521.8h0M726.7 522.2h0M546.5 523.3h0M548.8 522.7h0M554 522.9h0M554.1 522.9h0M556.1 522.6h0M570.2 522.6h0M576.1 523.5h0M637.6 523.1h0M771.5 523.4h0M562.4 524.5h0M563.3 524.4h0M565.4 524h0M594 524.4h0M637.8 524.3h0M654.6 523.7h0M700.8 524.3h0M561.4 525h0M566.6 524.6h0M569 525.4h0M717.9 524.9h0M750.3 525.2h0M544.3 525.8h0M548.5 526.3h0M553.4 525.9h0M554.4 525.6h0M555.9 525.7h0M557.8 525.8h0M557.8 525.7h0M565 526h0M567.6 526.2h0M569.8 525.6h0M609.7 526h0M641.3 526.3h0M551.2 526.7h0M572.9 527.4h0M808.6 527.2h0M544 528.3h0M553.2 527.7h0M554.3 528.1h0M554.8 527.8h0M556.6 528.1h0M558.1 527.6h0M596.8 528.2h0M544.7 528.6h0M547.4 528.9h0M550.9 529.3h0M554 528.6h0M558.1 529.5h0M565 528.5h0M557 530.3h0M575.9 530.3h0M588.9 530.2h0M546.2 531.4h0M549.3 531.3h0M554.6 531.2h0M557.3 530.7h0M574.3 530.6h0M580.9 530.8h0M665.8 530.8h0M836.6 530.8h0M548.2 532.2h0M549.7 531.9h0M557.2 531.8h0M564.8 531.9h0M800.4 532.2h0M545.3 532.7h0M549.3 533.4h0M551 533h0M575.9 532.8h0M592.9 533h0M601.9 533.2h0M543.3 534h0M545.5 533.7h0M546.3 533.5h0M549 534.3h0M554.5 533.8h0M576.7 533.9h0M580 533.5h0M582.3 533.6h0M584.8 534.1h0M626.2 534.2h0M674.6 534h0M678.7 534h0M547.9 535.4h0M549.3 535h0M549.7 535.3h0M550.5 535.2h0M551.9 534.6h0M627.1 535h0M541.9 536.4h0M548 535.5h0M563.4 536.4h0M570.3 535.8h0M593.8 535.6h0M596.3 535.8h0M625 535.9h0M543.5 537h0M548 537.3h0M556.8 537.9h0M557.2 537.6h0M562.6 538.3h0M563.5 537.7h0M564 538.3h0M571.3 538.4h0M706.1 537.5h0M828.3 537.5h0M545.5 539.4h0M551.1 539.1h0M556 539.1h0M559.5 539.5h0M566.1 539.5h0M581.4 538.6h0M590.5 539h0M543.1 539.5h0M544.5 540h0M545 540h0M546.2 540h0M550 540.3h0M553.6 540.4h0M555.6 539.7h0M561.2 539.8h0M578.1 540.3h0M584.6 539.7h0M584.9 540.1h0M592.5 540h0M624.3 539.9h0M652.2 539.9h0M728.2 540.5h0M549.8 541.1h0M569.8 540.7h0M571.4 541.4h0M576.5 540.9h0M837.8 541.1h0M543.4 542.3h0M543.9 541.9h0M546.3 542.1h0M546.3 541.6h0M550.9 542.1h0M551.9 541.8h0M555.4 542.4h0M558.4 542.2h0M560.4 542.2h0M565 541.9h0M566.6 542.3h0M573 541.9h0M579.5 542h0M784.2 542h0M551.8 543.1h0M556.5 543.3h0M558.3 543.5h0M558.4 543.2h0M572 543h0M575.2 542.9h0M586.2 542.6h0M587.2 543.2h0M642.8 542.8h0M547.5 543.6h0M547.8 544.1h0M550.8 544.4h0M552.6 543.7h0M553.5 543.8h0M571.1 543.9h0M715 544.3h0M731.2 544.3h0M757.7 544.3h0M774.4 544.3h0M553.1 544.7h0M557.1 545h0M557.4 545.5h0M563 545.4h0M592.1 545.4h0M542.2 546h0M542.7 546.3h0M543.3 546.5h0M546.9 545.5h0M550.3 545.8h0M554.3 545.6h0M557.6 546.4h0M558.1 545.7h0M564.4 546.2h0M580.4 546h0M545.6 547.2h0M556.2 547h0M556.2 547.1h0M560 547.4h0M579.5 547.3h0M583.1 547.4h0M600.4 547.4h0M610.2 546.9h0M828.9 547.3h0M558.5 547.6h0M566.7 548h0M568 548h0M576.1 548.1h0M580.5 548.1h0M584.8 547.7h0M548.4 548.5h0M548.8 549.1h0M553.4 549.3h0M557.3 548.8h0M563.6 548.7h0M584.4 548.9h0M605 548.8h0M542.8 549.6h0M545.3 549.8h0M546.6 549.5h0M551.6 550.1h0M553 549.5h0M554.4 549.9h0M557.9 549.5h0M558.1 549.9h0M580.8 550.4h0M586.5 549.6h0M548.8 551.1h0M553.4 551.1h0M562.9 550.9h0M563.8 551.4h0M587.9 551.4h0M735.6 550.8h0M541.9 552.3h0M560.9 551.7h0M561.2 551.8h0M561.8 551.6h0M566.8 552.3h0M568.5 551.5h0M574.8 552.4h0M587.3 552.4h0M665.5 551.7h0M737.9 552.3h0M543.4 552.6h0M546.6 553h0M547.7 552.6h0M550.2 552.6h0M553 552.6h0M557.7 553.3h0M559.7 552.9h0M560.7 553.2h0M561.8 552.6h0M563.8 553.3h0M566.6 552.9h0M587.8 552.9h0M542.4 553.7h0M544.6 553.6h0M546.7 553.8h0M559.6 553.6h0M566.5 554.4h0M567.4 554.2h0M571.2 554.5h0M571.8 554.3h0M583.7 554h0M600.3 554.1h0M626.8 553.9h0M544.1 554.7h0M544.1 555h0M546.8 555.2h0M547.6 555.4h0M556.4 555.1h0M559.1 555.1h0M559.1 554.5h0M591.1 554.9h0M653.1 555.2h0M541.3 555.8h0M545.3 556.3h0M548.1 556.5h0M548.7 555.5h0M548.9 556.5h0M559.4 556.1h0M564.9 556.1h0M566.3 555.7h0M577.3 556.3h0M547.8 557.2h0M547.9 557.2h0M551.8 557h0M589.1 556.7h0M600.8 557.2h0M717.9 557.3h0M722.3 557.3h0M726.7 557.3h0M545.6 557.5h0M549.6 557.6h0M571.8 558.2h0M625.4 558.2h0M754.7 558.2h0M758.5 558.2h0M545.4 559.2h0M545.5 558.8h0M549.1 558.6h0M554.5 558.8h0M554.5 559.3h0M563.4 559h0M574.9 558.5h0M595.7 559h0M622.4 559.3h0M790 559h0M548.3 559.6h0M550.1 559.6h0M550.9 560.2h0M554.9 560.4h0M556.8 560h0M562 559.8h0M567 560.1h0M569.5 559.6h0M584 560.5h0M584.2 560.2h0M621.1 559.5h0M641.7 559.5h0M543.7 560.7h0M549.5 561.3h0M552.2 561h0M557.7 560.7h0M564.5 561.1h0M570.1 560.6h0M575.6 561h0M578.5 561.2h0M597.3 560.5h0M543.1 562.2h0M547.3 561.6h0M548.3 562.5h0M551.3 562.2h0M556 561.8h0M558.2 562.5h0M560 561.6h0M563.2 562.3h0M566.8 561.6h0M567 561.8h0M567.9 562h0M569.9 561.9h0M624.6 562.4h0M542.7 562.9h0M552.9 562.7h0M568.2 563.2h0M573.8 563.4h0M579.1 563.4h0M582.6 563h0M612.8 563.2h0M745.9 563.2h0M541 564.1h0M548.8 564.2h0M560.5 563.7h0M703.2 564h0M545 565h0M546.8 564.9h0M547.8 565h0M548.2 565.4h0M555.6 565h0M557.7 564.9h0M562.1 565.4h0M569.6 565.2h0M569.6 564.9h0M574.7 565.2h0M580.6 565.1h0M584.6 564.9h0M591.6 565.5h0M544 565.6h0M544.3 565.7h0M545.3 566.4h0M547.5 565.9h0M549.1 565.7h0M553.3 565.6h0M553.3 566.3h0M559.4 565.9h0M559.7 565.6h0M561.9 566.1h0M565.3 566.5h0M567.7 565.9h0M571.5 565.6h0M571.7 566.2h0M651.6 565.5h0M765.9 565.5h0M540.8 567.3h0M541.6 566.5h0M543.6 566.6h0M544.3 567.4h0M547.3 567.4h0M547.6 567h0M550.7 566.7h0M551.5 566.5h0M551.8 566.6h0M553 566.7h0M554.3 567.4h0M559.6 567.2h0M562.5 566.7h0M566.9 566.6h0M567.5 567.1h0M616 567.3h0M541 567.6h0M545.8 568.1h0M548.1 567.9h0M548.9 568.1h0M549 567.9h0M553.8 567.7h0M559.8 568.3h0M561 567.5h0M565 568h0M573 568.4h0M575.9 568.1h0M576.8 568.3h0M631.6 567.7h0M544.7 568.6h0M545.9 568.7h0M547 569.4h0M548 568.9h0M549.3 569.4h0M550.2 569h0M552.8 569.1h0M553.5 568.6h0M558.9 568.9h0M567.1 569.5h0M568.1 569.2h0M578.8 569.1h0M601.5 569h0M540.4 570.4h0M541 570.1h0M543.7 570.1h0M546.1 569.9h0M547.1 569.7h0M547.9 570h0M548.1 569.6h0M550.7 569.8h0M551.5 570.3h0M554.9 569.6h0M555.4 570.3h0M556 569.6h0M566.4 569.9h0M567.3 570.2h0M571.5 570.5h0M582.8 570h0M598 570.3h0M602.8 569.6h0M633.1 570.4h0M687 569.9h0M541.1 570.9h0M542.8 570.5h0M545.4 571.1h0M548.4 570.7h0M554.1 571.3h0M562.4 571.5h0M568.6 571.5h0M596.7 570.9h0M605.6 571.4h0M541.3 572.1h0M542.2 571.7h0M542.6 572.4h0M544.2 572h0M546.2 572.2h0M547 571.5h0M547.6 572.2h0M551.5 572.3h0M551.8 572.4h0M554.2 572.4h0M556 571.6h0M556.9 572.2h0M560.6 571.7h0M561.8 572.1h0M543.2 572.7h0M545 572.7h0M551.7 572.9h0M556.2 573.5h0M556.5 573.4h0M562.2 573.1h0M562.5 572.7h0M566.5 573.2h0M569.5 572.5h0M578.7 573.1h0M606 573.5h0M616.1 573.4h0M709.1 573.5h0M541.5 573.7h0M545.3 573.6h0M548 574.5h0M561.3 574.4h0M566.2 573.8h0M571.7 574.3h0M577.4 574.3h0M584.1 573.6h0M587.1 574.2h0M592.9 574.4h0M594.9 573.6h0M621.3 574.3h0M688.5 574.3h0M699.4 574.3h0M540.7 575.2h0M542.8 575.3h0M544.1 574.7h0M545.1 574.8h0M552 574.6h0M554.1 575h0M570.5 575h0M573.9 575h0M662.8 575.2h0M541.5 576.4h0M542.2 576h0M542.3 576.4h0M543.6 575.5h0M545.1 576.4h0M546.7 576.3h0M549.9 576.5h0M551.1 575.7h0M553 575.9h0M556.3 576.1h0M556.6 575.8h0M560.9 576.3h0M562.5 576.2h0M565 576.1h0M565.5 575.9h0M568.3 575.8h0M568.5 576.2h0M570 576.5h0M540.6 577.1h0M541.9 577.2h0M546.2 577.1h0M546.9 577.2h0M548.1 577.4h0M548.9 576.8h0M550.5 577.1h0M558.9 577.2h0M561.9 576.8h0M562 576.6h0M566.3 577.3h0M566.6 576.8h0M569.1 577.2h0M579.8 577h0M540.7 578.2h0M545.3 577.8h0M545.4 578h0M550 578.3h0M550.7 578.5h0M551.9 577.8h0M552.9 577.9h0M557.7 578.1h0M582.1 577.9h0M760.6 578.2h0M542.4 579.1h0M544.9 579h0M547.9 578.9h0M550.5 579.2h0M552 579.4h0M552.8 578.5h0M556.5 578.7h0M558.6 578.9h0M561.6 579.4h0M562.8 578.7h0M563 578.9h0M565.2 579.2h0M566.3 579.4h0M572.9 579.4h0M590.5 578.9h0M599.3 578.6h0M602.5 579.3h0M628.4 578.9h0M678.2 579.4h0M823.9 578.8h0M540.8 579.7h0M543.5 580h0M543.8 580h0M543.9 579.9h0M544.4 580.5h0M544.5 580.2h0M545.6 580.5h0M546.5 580.2h0M553.6 579.5h0M553.6 579.8h0M553.9 580.2h0M555.8 580.4h0M556.1 580.2h0M560 580.1h0M560.8 580.1h0M564.5 580.3h0M566.8 580h0M570.9 580.4h0M575.7 579.6h0M580.5 579.5h0M596.7 579.9h0M610.7 580.3h0M718.5 580.2h0M753.8 580.2h0M816.5 580.2h0M546.6 580.9h0M547.8 581.4h0M550.5 581h0M551.5 581.2h0M554.8 581h0M555.9 580.7h0M556.6 581.1h0M570.1 580.8h0M582.5 581.1h0M588 581.1h0M589.9 581.5h0M595.4 580.7h0M597.8 581.2h0M543.8 582.1h0M544.6 582.3h0M545.2 582.5h0M546.9 582h0M550.5 582h0M551.9 581.8h0M553.2 581.6h0M556.1 582h0M560.1 581.6h0M561.3 582.1h0M568.7 582h0M570.5 582.5h0M575.7 582.2h0M579.2 581.8h0M589.5 581.8h0M591.3 581.7h0M592 582.4h0M617.2 582.4h0M800.9 581.7h0M540.1 582.8h0M541.4 582.9h0M546.6 582.8h0M546.8 582.8h0M547.2 582.6h0M548.2 583h0M548.6 583.1h0M550.9 582.5h0M558.8 583.2h0M560.2 583.1h0M561.3 583.1h0M563.2 583.2h0M563.2 583.3h0M563.9 582.7h0M565.7 582.7h0M565.9 583.1h0M571.1 582.7h0M599.6 583.4h0M541.4 583.6h0M544.3 583.6h0M545.4 583.9h0M545.6 583.5h0M546 584.2h0M546.2 584.1h0M548 583.7h0M548.7 584h0M548.9 583.9h0M549.6 584.5h0M553.6 584.5h0M554.6 583.7h0M560.6 584.4h0M563.3 584.2h0M563.9 583.6h0M564.5 584.4h0M567.5 584.1h0M572.4 583.9h0M580.3 584h0M584.1 584.1h0M598.4 584.1h0M540.9 585h0M542.5 584.8h0M545.5 585.5h0M545.8 584.6h0M546 585.1h0M546.6 584.9h0M546.7 585.1h0M547.7 585.4h0M551.7 584.8h0M551.8 585.2h0M555.7 585.4h0M562.2 584.6h0M564.6 585h0M567.9 584.7h0M569.9 585h0M600 584.8h0M627.2 585.2h0M733.2 585.2h0M541.5 585.7h0M542.1 586.1h0M543.7 585.8h0M545.6 585.6h0M549.1 586.1h0M549.8 586.1h0M555.7 586h0M556.8 585.6h0M559.3 585.8h0M560.9 585.6h0M563.1 586.2h0M563.7 586.1h0M564.7 586h0M565.4 586.3h0M582.7 586h0M605.6 586.1h0M710.5 586.1h0M713.5 586.1h0M770.9 586.1h0M807.7 586.1h0M833.6 585.5h0M540 586.6h0M541.1 587.1h0M543 586.6h0M544.6 587.3h0M545.1 586.9h0M548.8 587.4h0M549 586.7h0M552.6 586.6h0M554.2 586.9h0M555.3 587h0M561.7 587.4h0M561.7 587.3h0M565.6 586.6h0M566.4 587.1h0M568.8 586.7h0M571.4 586.9h0M577.6 587h0M778.3 587h0M787.1 587h0M804.8 587h0M819.5 587h0M823 587h0M826.3 587h0M853.4 587h0M888.1 587h0M539.9 587.8h0M541.8 587.8h0M542.8 588.3h0M543.5 588.1h0M544.1 587.6h0M544.5 588.3h0M546.3 588.4h0M547.4 587.7h0M547.5 588.2h0M548.7 588.4h0M548.8 588.5h0M552.7 588.1h0M553.8 587.9h0M555.2 587.8h0M565.7 588.3h0M565.8 588.3h0M567.3 587.5h0M567.4 588.3h0M568.1 588.3h0M570.7 588.5h0M581.8 588.3h0M587.5 588.1h0M617 587.8h0M667 587.6h0M750.9 587.6h0M795.9 587.6h0M840.7 587.6h0M860.7 587.6h0M540.9 589.3h0M541.5 589.2h0M541.9 589.3h0M543.4 589h0M550.4 589.3h0M551.5 588.6h0M551.7 588.7h0M552.6 589.3h0M554.8 588.5h0M562.2 588.7h0M563.6 589.1h0M581.7 589h0M584.6 589.4h0M587.5 589h0M857.2 589.1h0M548 589.7h0M548.9 589.6h0M560 589.6h0" stroke="#ff2600" stroke-width="3.3" stroke-linecap="round" fill="none"/>
<path d="M533.8 45V742.3" stroke="#111" stroke-width="1.4" fill="none"/>
<path d="M86.4 589.8H1028" stroke="#ff3030" stroke-width="1.5" fill="none"/>
<g font-size="13.8" text-anchor="middle" fill="#ff2600">
<text x="593.9" y="429.5">Olr1</text>
<text x="625.7" y="432.4">C3</text>
<text x="560.8" y="448.0">C3ar1</text>
<text x="670.8" y="446.6">RT1-Da</text>
<text x="596.7" y="466.9">Plek</text>
<text x="636.2" y="466.3">Cd68</text>
<text x="697.9" y="466.3">Rsad2</text>
<text x="677.6" y="486.3">Cd74</text>
<text x="735.9" y="486.9">Cxcl10</text>
<text x="668.0" y="504.0">Apol9a</text>
<text x="694.1" y="523.7">Oas1f</text>
<text x="739.8" y="519.9">Cxcl9</text>
<text x="703.2" y="543.4">Slc7a7</text>
<text x="637.2" y="560.5">Ifit3</text>
<text x="590.3" y="564.1">Ccl3</text>
<text x="689.0" y="564.1">Evc2</text>
<text x="641.9" y="582.6">Ccl3</text>
<text x="686.7" y="595.0">Rhoh</text>
<text x="587.9" y="604.7">C4b</text>
<text x="636.9" y="604.7">Irgm</text>
<text x="739.7" y="606.2">Lat2</text>
<text x="794.0" y="604.7">Sipa1</text>
<text x="736.0" y="578.8">Adgrg5</text>
<text x="781.9" y="581.7">Gsn</text>
<text x="781.2" y="560.5">Ric8b</text>
<text x="765.8" y="539.3">Zfp84</text>
<text x="806.5" y="541.4">Mx1</text>
<text x="828.3" y="567.9">Slfn13</text>
<text x="860.7" y="548.7">Csf1r</text>
<text x="787.7" y="514.0">Cxcl17</text>
<text x="833.8" y="522.2">Dpf2</text>
<text x="878.1" y="529.0">Kif21a</text>
<text x="838.0" y="499.6">Kcnn2</text>
<text x="788.4" y="486.9">Sstr3</text>
<text x="786.1" y="458.0">Zbp1</text>
<text x="744.6" y="440.4">Plac8</text>
<text x="778.3" y="420.7">RT1-Bb</text>
<text x="842.0" y="412.4">Isg15</text>
<text x="829.4" y="432.4">Il18bp</text>
<text x="836.9" y="452.2">Sp100</text>
<text x="895.0" y="431.5">Arhgap26</text>
<text x="949.5" y="431.5">Slfn4</text>
<text x="896.8" y="452.2">Cxcl13</text>
<text x="869.6" y="470.7">Ralgds</text>
<text x="933.2" y="471.6">Slfn4</text>
<text x="894.3" y="491.3">Suv39h2</text>
<text x="918.6" y="510.5">Filip1</text>
<text x="1000.1" y="413.9">Nrcam</text>
<text x="904.5" y="93.1">Cfb</text>
</g>
<path d="M784.2 422.7L798.0 435.9M579.5 442.4L595.7 443.6M899.9 466.3L915.2 466.3M848.4 472.8L901.1 502.2M869.6 499.8L877.5 515.5M673.7 520.8L665.8 530.8M812.7 517.8L808.6 527.2M706.1 562.6L718.5 579.6" stroke="#ff2600" stroke-width="1.1" fill="none"/>
<g font-size="13.8" text-anchor="middle" fill="#0433ff">
<text x="232.7" y="549.6">Arsg</text>
<text x="213.9" y="576.9">Sncg</text>
<text x="260.1" y="576.9">Far1</text>
<text x="263.7" y="598.4">Cdc42bpg</text>
<text x="296.9" y="546.4">Cfb</text>
<text x="303.4" y="571.5">Nhlrc3</text>
</g>
<path d="M86.4 45V742.3H1028" stroke="#111" stroke-width="1.5" fill="none"/>
<text x="80.1" y="717.1" font-size="16" text-anchor="end" fill="#4d4d4d">0</text>
<text x="80.1" y="543.2" font-size="16" text-anchor="end" fill="#4d4d4d">1</text>
<text x="80.1" y="369.3" font-size="16" text-anchor="end" fill="#4d4d4d">2</text>
<text x="80.1" y="195.4" font-size="16" text-anchor="end" fill="#4d4d4d">3</text>
<text x="298.4" y="762.0" font-size="16" text-anchor="middle" fill="#4d4d4d">-4</text>
<text x="534.0" y="762.0" font-size="16" text-anchor="middle" fill="#4d4d4d">0</text>
<text x="769.6" y="762.0" font-size="16" text-anchor="middle" fill="#4d4d4d">4</text>
<text x="1005.2" y="762.0" font-size="16" text-anchor="middle" fill="#4d4d4d">8</text>
<path d="M83.2 711.4H86.4M83.2 537.5H86.4M83.2 363.6H86.4M83.2 189.7H86.4M298.4 742.3V745.7M534.0 742.3V745.7M769.6 742.3V745.7M1005.2 742.3V745.7" stroke="#333" stroke-width="1.2" fill="none"/>
<text x="557.2" y="783.5" font-size="20.2" text-anchor="middle">beta value (log2 fold change)</text>
<text transform="translate(58.2 391.9) rotate(-90)" font-size="20" text-anchor="middle">-log10(FDR)</text>
<text x="569.6" y="35.0" font-size="40.6" text-anchor="middle">Male DTE</text>
<text x="4.0" y="78.0" font-size="62.5">a</text>
<path d="M1422.2 657.2L1422.2 668.2L1422.8 668.8L1426.2 669.2L1428.2 670.2L1431.8 670.8L1433.8 671.8L1437.2 672.2L1439.2 673.2L1440.8 673.2L1444.8 674.8L1448.2 675.2L1450.2 676.2L1453.8 676.8L1455.8 677.8L1459.2 678.2L1485.2 690.8L1487.8 691.2L1491.8 693.2L1494.2 693.8L1495.8 694.8L1510.2 699.8L1511.8 700.8L1524.8 705.2L1526.2 706.2L1533.2 707.8L1533.8 708.2L1535.8 708.2L1538.2 709.2L1540.2 709.2L1542.8 710.2L1544.8 710.2L1546.2 711.8L1677.2 711.8L1678.8 710.2L1681.2 709.8L1682.8 708.8L1689.8 706.8L1691.2 705.8L1712.2 698.8L1746.2 683.2L1756.8 679.8L1758.2 678.8L1762.2 677.8L1763.8 676.8L1767.8 675.8L1769.2 674.8L1778.2 674.2L1778.8 673.8L1784.8 673.8L1785.2 673.2L1789.8 673.2L1790.2 672.8L1794.8 672.8L1795.2 672.2L1799.8 672.2L1800.2 671.8L1804.8 671.8L1805.2 671.2L1809.8 671.2L1810.2 670.8L1815.2 670.2L1822.8 667.8L1822.8 660.2L1812.2 659.8L1810.2 658.8L1808.8 658.8L1800.2 656.2L1767.2 655.8L1766.8 656.2L1762.8 656.2L1762.2 656.8L1747.8 657.8L1747.2 658.2L1744.8 658.2L1744.2 658.8L1742.2 658.8L1739.2 659.8L1736.8 659.8L1736.2 660.2L1731.2 660.8L1728.2 661.8L1725.8 661.8L1722.8 662.8L1720.2 662.8L1719.8 663.2L1712.2 664.2L1711.8 664.8L1706.8 664.8L1706.2 665.2L1701.2 665.2L1700.8 665.8L1695.8 665.8L1695.2 666.2L1690.2 666.2L1689.8 666.8L1676.2 666.8L1654.8 656.8L1646.8 656.8L1641.2 651.2L1641.2 646.8L1640.8 646.2L1640.8 642.8L1640.2 642.2L1640.2 638.8L1639.8 638.2L1639.8 634.8L1639.2 634.2L1639.2 630.8L1638.8 630.2L1638.8 626.8L1638.2 626.2L1638.2 622.8L1637.8 622.2L1637.2 592.8L1636.8 592.2L1636.8 573.8L1636.2 573.2L1636.2 568.8L1625.8 568.8L1625.2 569.8L1624.2 591.8L1623.8 592.2L1623.8 599.8L1623.2 600.2L1623.2 607.8L1622.8 608.2L1622.8 615.8L1622.2 616.2L1622.2 621.8L1621.8 622.2L1620.8 633.8L1620.2 634.2L1620.2 637.2L1619.8 637.8L1618.8 649.2L1616.8 652.2L1615.8 664.8L1611.2 669.2L1609.2 669.2L1604.8 664.8L1604.8 662.8L1604.2 662.2L1603.8 653.2L1602.2 649.2L1601.8 641.8L1601.2 641.2L1599.8 626.2L1599.2 625.8L1599.2 622.2L1598.8 621.8L1598.2 610.2L1597.8 609.8L1597.8 603.2L1597.2 602.8L1597.2 596.2L1596.8 595.8L1596.8 589.2L1596.2 588.8L1596.2 582.2L1595.8 581.8L1595.8 575.2L1595.2 574.8L1594.8 568.8L1585.8 568.8L1584.8 585.8L1584.2 586.2L1584.2 591.8L1583.8 592.2L1583.8 598.2L1583.2 598.8L1583.2 604.2L1582.8 604.8L1582.8 610.8L1582.2 611.2L1582.2 616.8L1581.8 617.2L1581.8 622.2L1581.2 622.8L1581.2 627.2L1580.8 627.8L1580.8 632.2L1580.2 632.8L1578.8 652.2L1572.8 658.2L1565.2 658.8L1546.8 669.2L1527.2 669.2L1526.8 668.8L1516.8 667.8L1516.2 667.2L1513.8 667.2L1513.2 666.8L1510.8 666.8L1510.2 666.2L1507.8 666.2L1507.2 665.8L1504.8 665.8L1504.2 665.2L1501.8 665.2L1501.2 664.8L1498.8 664.8L1498.2 664.2L1495.8 664.2L1492.2 663.2L1482.8 662.2L1482.2 661.8L1478.2 661.2L1471.8 659.2L1469.8 659.2L1461.2 656.8Z" fill="#bebebe" fill-rule="evenodd"/>
<path d="M1555.2 565h0M1571.8 565h0M1572.6 565.4h0M1580.5 564.9h0M1585.2 565.1h0M1588.8 564.8h0M1588.9 565.2h0M1597.4 565.1h0M1634.2 565.2h0M1635.5 565h0M1635.7 564.8h0M1645.1 565.3h0M1686.4 565.2h0M1929.8 565.2h0M1937.9 565.1h0M1305.3 566.2h0M1574.1 566.3h0M1580 566.1h0M1582.9 565.6h0M1585.5 565.7h0M1590.4 566.3h0M1595.2 566h0M1624.8 565.8h0M1629.2 566h0M1630.3 565.6h0M1631.9 566h0M1632.2 566h0M1640 566.2h0M1641.9 565.7h0M1884.4 565.7h0M1919 566.2h0M1573.7 567.2h0M1575.6 566.9h0M1578.4 567.1h0M1579.8 566.5h0M1580.7 566.6h0M1581.7 567h0M1582 567.1h0M1585 566.7h0M1585.2 566.7h0M1585.3 567.3h0M1586.1 566.9h0M1588.3 567.3h0M1588.8 567.5h0M1595.3 567h0M1595.9 567h0M1597.9 567.2h0M1598 566.6h0M1622.3 566.7h0M1628.4 567h0M1628.7 567h0M1636.7 567.5h0M1637.9 567.3h0M1643.7 567.2h0M1656.3 566.5h0M1680.5 567.3h0M1702.4 566.6h0M1780.5 567.3h0M1787.7 566.8h0M1948.2 567.2h0M1410.7 567.6h0M1504.6 567.9h0M1570.7 567.9h0M1572.3 568.4h0M1576.8 568.4h0M1579.9 567.8h0M1579.9 567.8h0M1581.1 568.3h0M1581.5 568.1h0M1582.6 568.1h0M1583.3 567.6h0M1586 567.7h0M1586.8 568.3h0M1589 567.7h0M1591.9 568.1h0M1593.9 567.8h0M1594.6 567.8h0M1595.6 568h0M1625.4 567.7h0M1626.5 567.8h0M1626.6 567.5h0M1635.4 567.8h0M1642 568h0M1648.2 568.1h0M1580.4 569.4h0M1581.8 568.8h0M1584.1 569.2h0M1585.7 568.6h0M1585.9 568.7h0M1587 568.9h0M1588.7 568.8h0M1591.9 569.4h0M1594 569.4h0M1594.9 569.1h0M1598 569h0M1621.9 568.5h0M1622.8 569h0M1628.2 569.1h0M1633.3 568.6h0M1634.4 569.5h0M1636.2 569h0M1638.6 569.2h0M1639.6 568.6h0M1641.1 569.1h0M1648.8 568.8h0M1652.2 569h0M1655.3 569.1h0M1825.8 568.7h0M1575.9 570h0M1577.1 569.8h0M1581.4 569.6h0M1582.2 570.3h0M1583.2 570h0M1584.1 569.5h0M1588.4 570.2h0M1595.3 570.2h0M1598.2 570.4h0M1622.2 570.3h0M1622.6 570.2h0M1623.2 569.8h0M1633.2 569.9h0M1633.9 570h0M1635.1 570.4h0M1639.4 570.1h0M1642 570h0M1642.1 569.6h0M1645.4 569.7h0M1646.2 569.9h0M1648.5 569.8h0M1664 570.5h0M1778.4 570.2h0M1782.3 569.7h0M1933.1 569.6h0M1933.3 569.8h0M1574.4 570.7h0M1583.6 570.9h0M1583.7 570.9h0M1584.3 571.3h0M1587.1 571.5h0M1594.1 571.3h0M1622.2 571h0M1622.7 570.5h0M1623.7 571h0M1626.5 570.9h0M1635.1 571.3h0M1639.5 570.8h0M1642.8 571.1h0M1650 571.2h0M1661.5 571h0M1759.8 570.9h0M1783.7 571.4h0M1922.7 571h0M1567.5 572.3h0M1583.9 572h0M1593.6 571.9h0M1594 571.9h0M1594 572.2h0M1595.2 572.2h0M1595.8 572.1h0M1622.8 572.3h0M1626.5 572.1h0M1635.7 571.8h0M1638 572h0M1638.8 571.7h0M1643.9 572.4h0M1572.2 573.5h0M1579.5 573h0M1580.6 573.5h0M1595.5 572.9h0M1597 572.8h0M1597.7 573.2h0M1597.9 572.9h0M1598.9 573.2h0M1624.3 572.7h0M1625.1 573h0M1635.3 573.1h0M1635.6 572.7h0M1637.8 573.5h0M1638.8 572.9h0M1639.6 572.9h0M1647.9 572.5h0M1648.5 573h0M1652.5 572.8h0M1652.7 573.4h0M1861.7 572.9h0M1884.8 573.1h0M1546.8 573.5h0M1579.2 574.1h0M1581.2 574.1h0M1583.6 573.9h0M1585.7 574h0M1586.8 574.4h0M1596.9 574.4h0M1625.8 573.7h0M1626.5 574.2h0M1640 573.7h0M1642.5 573.9h0M1644.9 574.3h0M1767.5 573.5h0M1575.7 574.9h0M1585.5 575.4h0M1595.8 575.1h0M1596.3 575h0M1598.3 575h0M1598.8 575.3h0M1621 575.5h0M1621.5 574.8h0M1623.7 575.4h0M1625.8 575.5h0M1636.1 574.6h0M1638 575.3h0M1644.3 575.5h0M1651.9 575.4h0M1883.4 574.7h0M1909.3 575.2h0M1577.5 575.7h0M1578.9 576.3h0M1579.2 575.6h0M1579.6 576.2h0M1585.7 575.6h0M1594.7 576.2h0M1595.1 576h0M1595.4 575.6h0M1597.7 576.5h0M1622.3 575.9h0M1622.9 575.8h0M1623.9 575.9h0M1624.7 576.3h0M1625.5 575.5h0M1625.5 576.3h0M1625.8 576h0M1645 576.4h0M1578.8 577.1h0M1581.2 576.8h0M1585.5 576.9h0M1596.3 577.1h0M1597 576.9h0M1599.9 577.2h0M1622.7 576.7h0M1622.8 576.8h0M1622.9 576.9h0M1623.6 576.6h0M1623.7 577.5h0M1623.8 576.6h0M1638 576.8h0M1644 576.7h0M1644.4 577.3h0M1645.3 577.2h0M1647.6 577.4h0M1662.3 576.7h0M1727.5 577.3h0M1307.2 577.5h0M1580.8 578h0M1585.4 578.3h0M1622.8 577.5h0M1624.7 577.6h0M1639.2 578.2h0M1640.5 577.7h0M1642.2 578.2h0M1646.1 578.3h0M1653.4 577.5h0M1672.9 578.5h0M1548.6 578.8h0M1576.4 579.2h0M1578.8 579.3h0M1581.1 579.4h0M1581.3 579.2h0M1585.4 578.7h0M1586.7 579.5h0M1594.3 579h0M1594.9 579.2h0M1621.3 579.3h0M1635.3 579h0M1636.6 579.4h0M1637.8 579.1h0M1639.2 579.5h0M1641.9 578.6h0M1660 578.6h0M1807.1 578.8h0M1901 578.7h0M1297.7 580.5h0M1302.8 579.8h0M1437 579.9h0M1582.3 580.3h0M1582.6 579.7h0M1582.6 580.3h0M1594.4 580.2h0M1595.9 579.5h0M1620.3 580.1h0M1623 579.8h0M1626.2 580h0M1636.8 579.6h0M1638.3 580h0M1639.6 580.1h0M1641.7 579.7h0M1643 579.7h0M1644.4 579.6h0M1644.8 580h0M1645.1 580.4h0M1646.4 579.6h0M1655.8 580.4h0M1710.7 580.1h0M1782.4 580h0M1864.8 580.3h0M1582.6 580.8h0M1594.6 580.7h0M1597.1 581h0M1599.2 581.4h0M1620.3 580.6h0M1620.7 580.9h0M1637.1 581.3h0M1638.4 580.7h0M1639.1 580.6h0M1654.4 581.2h0M1755.7 581.3h0M1862.7 580.7h0M1874.1 581.4h0M1318.3 581.8h0M1322.9 582.4h0M1328.5 582.2h0M1571.7 582.3h0M1581.2 581.7h0M1584.4 581.8h0M1596.2 581.9h0M1622.2 582.4h0M1622.6 581.6h0M1639.2 582.4h0M1683.6 582.3h0M1362.7 582.8h0M1558.8 582.8h0M1579.5 582.7h0M1579.8 583.2h0M1583.6 583.1h0M1583.8 583h0M1596.6 583.1h0M1596.7 582.6h0M1597.5 583.1h0M1599.3 582.6h0M1621.9 583.1h0M1635.1 582.9h0M1637.8 582.6h0M1640.3 583.2h0M1651 582.6h0M1672.3 582.5h0M1728.4 582.5h0M1910.9 582.7h0M1452.9 583.5h0M1500.9 584h0M1580.5 584.1h0M1583.3 583.6h0M1584.2 584.3h0M1596.5 584.3h0M1621.2 584.1h0M1622.1 584.1h0M1623.7 583.5h0M1624 583.9h0M1625.4 584.4h0M1635.1 584.2h0M1636.5 584.5h0M1639 584.3h0M1642.4 583.6h0M1642.4 584.1h0M1569.2 585h0M1578.8 585.3h0M1581 584.8h0M1581.2 585.1h0M1581.4 585.3h0M1584 584.6h0M1595.4 585.3h0M1598.6 585h0M1623.6 585.3h0M1624.7 585.2h0M1625.7 585.4h0M1636 584.7h0M1638 584.9h0M1639.6 584.8h0M1642.1 584.6h0M1645.1 584.8h0M1664.2 584.5h0M1702.8 585.3h0M1767.5 585.1h0M1838.4 584.8h0M1552.8 585.8h0M1567.6 585.8h0M1574.7 586.1h0M1577.9 585.7h0M1579.7 586.4h0M1581.2 586h0M1581.5 585.8h0M1585.1 586.2h0M1586.3 585.8h0M1586.4 585.5h0M1586.5 585.8h0M1594.5 586.1h0M1599.3 586.5h0M1600.4 586.2h0M1621.1 586.4h0M1624.6 586.5h0M1624.9 585.8h0M1637.2 585.7h0M1637.2 585.8h0M1640.1 586.4h0M1641.2 586.1h0M1651.3 585.8h0M1710.3 586h0M1752.6 586.3h0M1804.7 586.4h0M1845.8 585.5h0M1864.5 586h0M1580.3 587.2h0M1583.8 587.4h0M1584.3 587.4h0M1584.6 586.9h0M1596.4 587.1h0M1598.7 587.5h0M1599.3 586.6h0M1600.5 587.3h0M1600.9 586.6h0M1620.5 586.8h0M1622.2 587.1h0M1622.9 586.6h0M1623.9 587.3h0M1625.2 586.7h0M1638 587.1h0M1640.9 587.1h0M1649.8 586.7h0M1831.7 587.2h0M1881.3 587.2h0M1905.8 586.9h0M1425.7 587.9h0M1576 587.9h0M1584.9 587.7h0M1585.6 587.7h0M1595.9 588.2h0M1599.6 587.6h0M1625.8 587.5h0M1636.1 588.2h0M1637.1 587.5h0M1637.8 588.1h0M1637.8 588.5h0M1638.2 587.5h0M1683.4 588.3h0M1886 587.6h0M1378.4 589.1h0M1422 588.9h0M1557.3 588.9h0M1595.9 589.5h0M1597.5 589.3h0M1621.3 588.9h0M1623 589.2h0M1625.7 588.7h0M1637.3 589h0M1641.4 589.2h0M1648.1 588.5h0M1662.2 589.4h0M1663.3 589.4h0M1737.4 589.3h0M1576.8 590.4h0M1582.2 589.8h0M1583.7 590.1h0M1584.6 590.5h0M1585 589.6h0M1596.3 589.8h0M1597.7 590.2h0M1598.8 589.8h0M1624 590.3h0M1624.4 590.3h0M1638.2 589.9h0M1638.3 590.4h0M1641.5 590.4h0M1645 590.4h0M1906.8 589.7h0M1336.6 590.9h0M1339 591.2h0M1554.7 591.5h0M1566.6 591.4h0M1572.1 591.1h0M1577.1 590.9h0M1578.7 590.9h0M1579.9 590.9h0M1581 591.3h0M1585.5 590.9h0M1600.9 591.1h0M1624.1 591h0M1625.3 590.9h0M1635.2 591.2h0M1636.7 591.4h0M1636.9 590.7h0M1638.6 591.2h0M1640.1 591.1h0M1643 591h0M1646.3 591.4h0M1655.1 590.7h0M1709.4 590.6h0M1885.6 590.7h0M1547.6 592.3h0M1574.2 591.5h0M1576.3 592.4h0M1580.1 591.6h0M1580.5 592.4h0M1582.6 591.6h0M1584.5 591.9h0M1601.4 591.5h0M1619.6 592.1h0M1622 592.5h0M1624.5 592.2h0M1636.9 591.9h0M1638.9 591.7h0M1643.5 592h0M1653.9 591.5h0M1664 591.6h0M1731.6 592.2h0M1816.1 591.8h0M1575.8 592.7h0M1577.2 592.9h0M1578.5 592.5h0M1582.9 593h0M1584.4 593.4h0M1597.3 593h0M1597.9 593.1h0M1599.9 592.5h0M1600 592.5h0M1639.4 593.2h0M1640.7 593.4h0M1641.7 592.9h0M1642.3 593.1h0M1644.1 592.8h0M1652.9 592.9h0M1689.1 592.7h0M1778.7 593.3h0M1845.3 593h0M1866.8 592.9h0M1884.3 593.4h0M1889.8 592.9h0M1898.8 593.5h0M1566.3 594.4h0M1571.6 593.7h0M1576.1 593.8h0M1580.5 594.1h0M1599.3 594.2h0M1599.7 593.5h0M1601.2 593.8h0M1601.2 594h0M1619 593.9h0M1620.1 593.6h0M1621 593.8h0M1621.4 594.4h0M1624 594h0M1645.8 594.2h0M1658.4 593.5h0M1699.8 594.2h0M1340.1 594.6h0M1340.9 595.1h0M1426 594.9h0M1578.2 594.6h0M1579.4 594.7h0M1583.1 595.1h0M1584.6 594.5h0M1596.1 594.8h0M1600.8 595.2h0M1620.1 594.8h0M1620.3 595.4h0M1624.9 594.6h0M1637.8 595.3h0M1638.3 594.8h0M1639.6 594.9h0M1642.7 595.1h0M1643.4 594.9h0M1652.6 595.4h0M1652.7 594.7h0M1682.5 595.3h0M1902.1 595.2h0M1443.1 595.8h0M1554 595.7h0M1578.4 596.2h0M1580.1 596.2h0M1580.7 596.2h0M1583.9 595.9h0M1598.7 596h0M1620.6 596.1h0M1621.8 595.5h0M1624.7 595.7h0M1861.2 595.8h0M1886.3 596.4h0M1576.6 597h0M1584.2 596.7h0M1584.5 596.9h0M1596.3 597.5h0M1597.6 597h0M1597.7 597.2h0M1599.8 597h0M1619.1 597.1h0M1619.5 596.8h0M1621.6 596.5h0M1621.9 597.4h0M1624.8 596.8h0M1625.3 597h0M1635.6 596.6h0M1636.1 597.3h0M1641.2 597.3h0M1641.7 597.4h0M1681.5 597.1h0M1751.2 596.7h0M1870.2 596.8h0M1876.2 596.5h0M1423.2 597.8h0M1522.4 598.1h0M1564 597.5h0M1577.2 597.7h0M1581.6 597.6h0M1598.5 597.7h0M1618.6 598.2h0M1619.3 597.8h0M1622.7 597.9h0M1624.3 597.7h0M1625.3 597.9h0M1638.6 597.9h0M1650.7 597.7h0M1659.2 598h0M1706.5 597.6h0M1881 597.6h0M1373.5 599.1h0M1569.5 598.8h0M1581.9 598.9h0M1582.2 599.5h0M1595.8 599.3h0M1595.9 598.9h0M1596.4 598.6h0M1622.6 599.4h0M1623.3 598.6h0M1637.2 599.2h0M1642 598.6h0M1644.7 598.8h0M1646.4 599h0M1655.2 599h0M1670.5 599.1h0M1739.7 598.8h0M1786.9 598.5h0M1842 599h0M1580.4 600.3h0M1581.6 599.7h0M1581.9 599.8h0M1583.3 600.2h0M1597.4 600h0M1599.5 599.6h0M1621.2 600.3h0M1622.5 599.9h0M1624.2 600.3h0M1637.5 600.1h0M1639.2 599.5h0M1639.7 600.4h0M1640.5 600.2h0M1643.4 599.5h0M1646.1 600h0M1671.4 599.6h0M1824.3 600.1h0M1865.5 599.9h0M1872.3 599.6h0M1396.3 600.6h0M1436.1 600.8h0M1458.9 600.9h0M1553.1 600.9h0M1575.5 601.3h0M1582.3 600.7h0M1598.6 600.7h0M1598.9 601.2h0M1600.2 600.8h0M1618.5 600.7h0M1618.5 601h0M1619 600.9h0M1619.3 600.8h0M1622.9 601.2h0M1623.4 601.1h0M1638.8 601.3h0M1639.2 601.3h0M1640.2 601.4h0M1734 600.8h0M1836 600.6h0M1862.1 601.3h0M1893.3 601.3h0M1893.8 600.9h0M1580.3 601.6h0M1583.2 601.7h0M1597.7 602.1h0M1600 602h0M1600.8 601.8h0M1602.2 602h0M1618 602.1h0M1621.2 602.1h0M1636.2 601.7h0M1636.5 602h0M1641.5 602.2h0M1642.8 601.8h0M1650.9 601.8h0M1656.3 602h0M1734.1 602.2h0M1821.8 601.8h0M1835.7 602.3h0M1856.3 602h0M1864.4 602.1h0M1877.3 602.4h0M1877.4 602.3h0M1375.3 602.6h0M1431.5 602.5h0M1438 602.7h0M1546.2 602.6h0M1568.1 602.6h0M1571.3 603h0M1577.1 603.4h0M1579.1 602.8h0M1580.2 603.2h0M1581.3 603.5h0M1584.1 603.2h0M1584.6 603.2h0M1584.8 602.8h0M1596.6 602.7h0M1596.9 603.5h0M1597.7 602.7h0M1598.6 602.6h0M1599.6 603.1h0M1601.4 603.3h0M1601.9 602.8h0M1620.1 602.5h0M1620.4 602.5h0M1621.8 602.7h0M1640.6 602.9h0M1641 602.7h0M1641.3 603.5h0M1643.6 602.6h0M1724.3 603.3h0M1777.7 603.2h0M1859.2 602.9h0M1877.2 603.4h0M1883.8 602.8h0M1893.5 602.8h0M1327.7 603.8h0M1337.1 603.5h0M1569.5 604.2h0M1601.9 604h0M1618.2 604.2h0M1642.9 604h0M1644.5 603.9h0M1647.8 603.5h0M1655.5 603.8h0M1671.1 604h0M1864.3 604.1h0M1865.5 604.4h0M1868.4 603.7h0M1552.9 605.5h0M1573.8 604.6h0M1577.8 605.4h0M1578.4 605.4h0M1579.6 604.9h0M1581.8 604.9h0M1582 605.1h0M1619.7 605.3h0M1619.8 604.9h0M1623.2 605.5h0M1637.2 605.1h0M1648 604.7h0M1657 604.7h0M1696.8 604.8h0M1775.5 605h0M1859.3 604.9h0M1872.1 605.1h0M1553.4 606.2h0M1579.6 605.9h0M1580.4 606h0M1596.2 605.6h0M1596.3 605.6h0M1598.2 606.3h0M1617.9 605.8h0M1619.4 606.4h0M1621.3 605.8h0M1621.5 606.4h0M1622 605.9h0M1623 605.7h0M1624.6 606.1h0M1635.9 606.3h0M1640.3 606.2h0M1640.9 606.4h0M1643.1 606.4h0M1890.3 605.9h0M1319.1 607.5h0M1571 607.5h0M1580.5 607.4h0M1599.7 607.4h0M1601 606.8h0M1602.1 607.3h0M1624.5 607.5h0M1636.3 606.6h0M1638.7 607.3h0M1639.1 607.3h0M1645.4 607h0M1646.4 606.6h0M1668.9 607h0M1724.3 607.4h0M1827.7 607.2h0M1875.9 607.4h0M1888.4 606.8h0M1320.7 607.5h0M1388.3 608.4h0M1393.7 607.6h0M1574.2 608.4h0M1597.3 607.9h0M1598.9 607.6h0M1600 607.8h0M1602.5 607.7h0M1618 608.2h0M1618.5 608.4h0M1621.4 607.8h0M1621.9 607.5h0M1636.6 607.8h0M1646.4 608.2h0M1649.2 607.5h0M1652.2 608.4h0M1656 607.6h0M1818.4 608.3h0M1824.1 608.4h0M1830.7 607.9h0M1865.8 608h0M1411.9 608.7h0M1576 609.4h0M1579.4 608.6h0M1582.2 608.6h0M1596.6 608.9h0M1597.7 609.1h0M1598.6 609.4h0M1602.3 609.3h0M1619.5 609.4h0M1622.6 608.9h0M1623.2 609.1h0M1636.2 608.9h0M1636.7 608.5h0M1639.2 609.2h0M1640 609.4h0M1641.8 609h0M1643.2 608.6h0M1644.7 608.8h0M1647.2 609.1h0M1664.3 609.5h0M1729.1 608.6h0M1752.2 609.5h0M1780.9 609.1h0M1387.6 610h0M1571.6 609.7h0M1578.6 609.7h0M1581.5 609.9h0M1584.2 609.6h0M1601.6 609.6h0M1618.1 610.3h0M1637.5 609.5h0M1638.4 610.3h0M1641.2 610.4h0M1641.5 610h0M1642.5 609.8h0M1643.4 609.9h0M1659.3 610.5h0M1867.5 610h0M1877.1 609.9h0M1881.2 610h0M1376.5 611.1h0M1567.1 610.6h0M1569.5 611.1h0M1573.3 611.1h0M1574.6 610.9h0M1578.4 610.9h0M1580.2 611.4h0M1582.3 611h0M1583.1 610.5h0M1583.5 611h0M1599.7 611.3h0M1624.3 610.9h0M1637.6 611h0M1638.6 611.4h0M1658.8 610.8h0M1679.2 611.2h0M1836.1 610.6h0M1881.6 610.9h0M1882.6 610.6h0M1883.9 610.8h0M1386.5 611.9h0M1561.3 612.1h0M1569.1 612.2h0M1573.4 611.7h0M1578 611.7h0M1581.1 612.3h0M1581.8 611.8h0M1583.2 611.9h0M1583.2 612h0M1599.4 612h0M1600.8 612.2h0M1602.3 611.7h0M1618.8 612.2h0M1623.8 612h0M1624 612.1h0M1641 612.1h0M1644.1 611.6h0M1644.3 612.2h0M1645.4 612.1h0M1665.1 611.6h0M1666.2 611.5h0M1759.7 611.7h0M1781.1 611.9h0M1852.7 612.3h0M1880.2 611.7h0M1358.1 613.3h0M1565 612.8h0M1582.1 613.1h0M1583.5 613.2h0M1597.9 613.3h0M1598.9 612.8h0M1618.3 613.5h0M1619 613h0M1621.2 613.3h0M1623.6 613h0M1636 613.1h0M1636.2 612.9h0M1636.6 613h0M1638.9 613.1h0M1644 612.5h0M1651.4 612.6h0M1654 612.8h0M1697.1 612.7h0M1798.3 612.8h0M1826.1 612.9h0M1857.7 612.8h0M1362.5 614.3h0M1564.8 613.8h0M1577.7 614.3h0M1583.8 614.2h0M1598.1 614.3h0M1616.7 614.3h0M1617.2 613.6h0M1618.8 614.3h0M1619.3 613.9h0M1624.1 614.4h0M1624.3 613.6h0M1637.2 614h0M1638.6 614.4h0M1639.1 613.8h0M1640.2 613.6h0M1640.6 614.4h0M1644 614h0M1716.1 614.3h0M1788.1 613.8h0M1818.2 614.3h0M1845.6 613.7h0M1850.1 614h0M1391.6 614.9h0M1569.8 615.2h0M1572.5 615.5h0M1573.1 614.8h0M1574.3 615h0M1579 615.1h0M1581.3 615.4h0M1583.7 614.5h0M1599 614.7h0M1618.1 615.4h0M1622 615.5h0M1623.1 615.4h0M1623.5 615.5h0M1623.8 615.3h0M1624.1 615.4h0M1637.7 615.1h0M1642.7 615.3h0M1643.2 614.9h0M1646.5 615.5h0M1651.1 614.9h0M1665 614.9h0M1675.2 615.4h0M1742.8 615.1h0M1552.1 615.7h0M1570.6 615.6h0M1575.2 616h0M1577.1 616.4h0M1580.1 615.9h0M1601.2 615.6h0M1618.3 616.5h0M1640.7 616.2h0M1645.1 615.8h0M1647.4 616h0M1652.6 616h0M1660.3 615.6h0M1660.4 615.7h0M1719.4 616.4h0M1853.7 616.1h0M1869.8 615.9h0M1423.7 616.9h0M1492.7 616.9h0M1577.7 616.9h0M1578.8 617h0M1579.2 616.5h0M1583.4 616.8h0M1596.9 616.6h0M1602.8 616.6h0M1603.1 617h0M1619.5 616.7h0M1619.8 616.5h0M1621.2 616.9h0M1637.7 617h0M1642.1 617.1h0M1645.3 616.6h0M1648.6 616.9h0M1649.7 617.1h0M1711.1 616.8h0M1848.4 617.2h0M1853.5 617h0M1353.3 618.5h0M1579.4 618.5h0M1582.7 617.7h0M1600.2 618.4h0M1623.4 617.5h0M1623.8 617.9h0M1637.4 617.8h0M1639.9 617.6h0M1641 618.5h0M1644.6 617.9h0M1645.7 618h0M1654.4 617.6h0M1665.7 618.4h0M1741.3 617.7h0M1758 618.1h0M1862.8 617.7h0M1879.8 617.7h0M1344.9 619h0M1570.7 619.5h0M1576.7 619.5h0M1577.2 618.7h0M1600.2 619.3h0M1600.3 619.1h0M1600.6 619.2h0M1602.3 619.2h0M1616 618.9h0M1622.4 619.1h0M1622.8 619.4h0M1642.5 619.1h0M1736.5 618.6h0M1359.4 620.1h0M1382.5 619.9h0M1571.5 620.1h0M1578.8 620h0M1580.4 620h0M1581.1 619.9h0M1599.5 619.7h0M1601.1 619.6h0M1602.1 620.4h0M1603.4 620.4h0M1617.7 619.7h0M1618.6 619.8h0M1621.3 620.1h0M1640.4 620.1h0M1650 620.5h0M1650.1 619.8h0M1654.9 619.9h0M1656.6 619.5h0M1674.2 620.1h0M1711.8 620.3h0M1739.1 619.8h0M1740.2 619.8h0M1770.3 619.8h0M1779.2 620.5h0M1861.1 619.7h0M1869.1 620.1h0M1340.3 620.7h0M1373.1 621.3h0M1465.5 621h0M1499 621.1h0M1574.5 621.3h0M1574.6 621.5h0M1578.7 620.6h0M1581.3 621h0M1618.5 620.9h0M1619.4 621.3h0M1620.6 620.8h0M1622.9 621.2h0M1636.4 621.3h0M1648.8 621.1h0M1657.8 620.9h0M1659.8 620.9h0M1776.9 621.5h0M1805.7 621.4h0M1812.7 621h0M1821.7 621.5h0M1853.2 621.2h0M1335 621.7h0M1371.1 622.1h0M1461.6 622.4h0M1569.4 621.6h0M1576.6 622.3h0M1602.2 622.3h0M1603.5 621.7h0M1620 621.8h0M1622.6 622.4h0M1639.1 622.3h0M1642.4 622h0M1642.9 621.5h0M1644.6 621.8h0M1646.4 622.5h0M1652.3 621.8h0M1712.5 621.6h0M1716.4 622.2h0M1847.8 622.3h0M1854.1 621.7h0M1370.4 623.1h0M1387.1 622.8h0M1398 622.6h0M1529.9 622.8h0M1570.4 622.6h0M1575 623h0M1577.5 622.6h0M1578.6 623.1h0M1581.7 623.1h0M1598.7 622.9h0M1599.6 622.9h0M1618.9 622.8h0M1619.6 623.2h0M1637.3 623h0M1640.3 622.9h0M1640.8 622.7h0M1642.4 623.2h0M1757.6 623.2h0M1769.5 622.7h0M1807.7 622.7h0M1862.1 623.4h0M1864 623h0M1870.4 623.3h0M1872.5 623.5h0M1535.5 623.9h0M1571.6 623.7h0M1572.9 624h0M1580.5 624.3h0M1618.1 624.1h0M1619.1 624h0M1621.4 624.2h0M1641.4 623.6h0M1644 623.7h0M1644.3 624.1h0M1647.2 623.8h0M1667 624.3h0M1743.8 624.3h0M1791.3 624h0M1835.3 623.5h0M1858.7 624.4h0M1372.3 624.5h0M1392.3 625.2h0M1567.7 624.8h0M1572.8 624.8h0M1576.2 625.5h0M1577.7 625.2h0M1577.8 624.7h0M1580.1 625.2h0M1580.9 625.2h0M1600.2 625.1h0M1600.9 624.6h0M1601.6 624.7h0M1618.5 625.3h0M1640.5 624.6h0M1642.1 624.9h0M1645.3 625.3h0M1645.4 625.1h0M1649.6 625h0M1690 624.6h0M1778.3 624.6h0M1806 625.4h0M1816.2 625.3h0M1349.1 626.4h0M1365.9 625.7h0M1574.4 626.3h0M1577.1 626.5h0M1578.7 626.1h0M1579 626.2h0M1580.6 626.3h0M1580.8 625.9h0M1581.7 625.8h0M1598.1 625.9h0M1601.2 626.3h0M1602 626.1h0M1604.9 625.6h0M1637.1 626.2h0M1639.8 626.3h0M1650 626.2h0M1659.9 626.4h0M1769.3 625.7h0M1771.2 625.7h0M1845.3 626.3h0M1850.1 625.9h0M1854.1 625.8h0M1856.9 626.4h0M1861 625.7h0M1861.6 625.6h0M1339.1 627.3h0M1349.8 627.2h0M1378.7 626.8h0M1382.2 626.5h0M1392.7 626.6h0M1403.8 627.2h0M1412.5 626.5h0M1550.8 626.7h0M1569.3 627.5h0M1574.7 627.1h0M1575.5 627h0M1576.8 627.4h0M1577.6 626.7h0M1578.7 627.2h0M1605 627.1h0M1617.3 627.2h0M1620.5 627.3h0M1621.3 627.4h0M1621.8 627.3h0M1637.1 627.2h0M1637.3 626.9h0M1640.9 627.4h0M1642.9 626.8h0M1643.8 626.8h0M1646.5 626.9h0M1714.1 626.7h0M1792 627h0M1800.6 627.5h0M1810.2 626.6h0M1813 626.9h0M1844.5 626.5h0M1867.7 627.3h0M1869.7 626.8h0M1572.8 628h0M1578.5 627.6h0M1578.6 627.7h0M1579.2 628.4h0M1599.9 628.5h0M1621.1 628h0M1622.8 628h0M1638 627.7h0M1638.7 628.2h0M1639.3 627.7h0M1644 627.9h0M1644.3 627.5h0M1722.9 628.5h0M1774.1 628.2h0M1824.7 627.6h0M1844.9 627.6h0M1865 627.7h0M1870 628.1h0M1408.6 629.5h0M1560.4 629.3h0M1576.4 629.3h0M1578.2 629h0M1598.5 629.3h0M1598.7 628.7h0M1603.5 629.2h0M1603.6 629.3h0M1605.5 629.3h0M1616.3 629.4h0M1619.2 629.2h0M1639.3 628.8h0M1640.4 628.7h0M1641.8 629.3h0M1642.8 629.2h0M1664.7 629h0M1679 629.2h0M1754.3 629h0M1777.7 628.7h0M1820.1 629.1h0M1862.3 629.2h0M1402.8 630.1h0M1506.6 630.5h0M1574.2 630.4h0M1581.5 629.5h0M1581.7 629.9h0M1601.1 629.5h0M1603.2 630.1h0M1604.4 630.2h0M1616.1 630h0M1616.5 629.5h0M1616.6 629.9h0M1616.7 630.1h0M1621.9 629.6h0M1646.1 630.3h0M1752.8 630.3h0M1805.5 630.2h0M1810.1 630.1h0M1824.4 629.7h0M1844.8 629.6h0M1371.1 631h0M1384 630.5h0M1424.9 630.8h0M1434.9 630.9h0M1436.1 631.3h0M1442.7 630.6h0M1462.9 631.4h0M1565.4 631.4h0M1575.2 631.1h0M1579.9 630.5h0M1581.2 630.6h0M1598.7 630.7h0M1600.2 630.7h0M1600.4 630.9h0M1616.6 630.5h0M1617.7 631.2h0M1621.4 631.4h0M1637.8 630.9h0M1640.4 631.4h0M1641.8 630.8h0M1642.3 630.9h0M1645.6 631.1h0M1645.7 630.7h0M1647 630.7h0M1656.5 630.5h0M1786.6 630.5h0M1843.8 630.6h0M1848.4 631.3h0M1359.1 631.8h0M1511.7 631.6h0M1540.1 631.9h0M1577.9 631.6h0M1580 631.7h0M1580.5 631.7h0M1600.4 631.5h0M1601.9 632.4h0M1604.3 631.6h0M1618.5 632.3h0M1619.6 631.7h0M1620.6 631.7h0M1622.3 632.2h0M1622.5 632.4h0M1637.6 631.6h0M1639.7 631.8h0M1640.8 632.2h0M1641.6 631.9h0M1646.4 632.2h0M1664.4 632.2h0M1730.9 632.2h0M1741 632.1h0M1815.5 631.6h0M1865.3 632.2h0M1394.5 633.2h0M1408.3 633.3h0M1532.2 633.3h0M1551.5 632.9h0M1560.6 632.8h0M1575.8 632.8h0M1579.8 633.3h0M1579.9 632.6h0M1581.1 632.8h0M1600.6 633.3h0M1619.6 633.4h0M1620.8 633.2h0M1639.9 633.1h0M1654 632.6h0M1699 632.7h0M1814.9 633.2h0M1846.2 633.1h0M1846.9 633.1h0M1854.4 632.6h0M1354.6 634.3h0M1389.9 633.7h0M1560.9 634h0M1566.3 633.5h0M1570.7 633.8h0M1570.8 633.6h0M1571.8 634.2h0M1573.6 633.7h0M1575.7 634.3h0M1575.8 633.6h0M1575.8 634.1h0M1577.1 634.3h0M1579.9 633.8h0M1598.5 633.6h0M1599.4 634.3h0M1601.7 633.8h0M1603.8 634.5h0M1604.5 634.2h0M1604.8 634.3h0M1614.8 634h0M1618.8 634.2h0M1621.2 634.2h0M1639.6 633.6h0M1645.3 634.4h0M1651 634.3h0M1675.9 634.3h0M1753.9 634h0M1760 633.9h0M1788.1 633.7h0M1795.6 633.9h0M1802.6 633.7h0M1810.3 634.1h0M1855.9 634.3h0M1413.5 635.3h0M1449 634.8h0M1561.6 635.1h0M1565.2 634.8h0M1566 635h0M1566.3 634.6h0M1577.9 634.9h0M1578 635.3h0M1614.7 635.4h0M1619.6 634.8h0M1620.2 635.5h0M1639.3 634.9h0M1639.8 634.9h0M1647.8 634.6h0M1651.6 635h0M1661.9 635.3h0M1722.4 634.8h0M1805.5 635.2h0M1819.9 635.5h0M1379.1 635.8h0M1379.1 636.2h0M1402.6 635.8h0M1553.3 636.5h0M1575 635.7h0M1575 635.6h0M1603.6 636.5h0M1617.2 636h0M1621.7 635.9h0M1642.1 636.4h0M1642.9 636.1h0M1644.9 635.9h0M1647.8 636.3h0M1654.4 636.1h0M1662.6 636.5h0M1669.1 635.8h0M1691.6 635.7h0M1834.3 635.6h0M1855 635.8h0M1354.5 636.7h0M1367.1 636.5h0M1389.8 637.4h0M1463 637.5h0M1494.3 636.5h0M1566.2 636.9h0M1566.3 637.4h0M1567.3 637.2h0M1579.6 637.1h0M1581.3 637.1h0M1599.1 636.9h0M1601.2 636.9h0M1603.4 637.2h0M1605.7 636.9h0M1615.3 636.5h0M1617.2 636.9h0M1638.3 637.3h0M1640 637h0M1641 637.2h0M1645.1 637.2h0M1645.2 637.3h0M1652.5 637.3h0M1725.7 636.9h0M1745.3 637.3h0M1754 636.6h0M1765.7 636.7h0M1787.2 637.2h0M1840.3 636.6h0M1845 637.3h0M1857.6 636.9h0M1370.8 637.6h0M1401.3 637.9h0M1425.9 638.5h0M1431.8 637.7h0M1450.2 637.9h0M1524.2 637.6h0M1576.1 638.5h0M1576.8 638.1h0M1577 637.7h0M1578 638.4h0M1578.4 638.3h0M1578.7 638.3h0M1579.3 638.1h0M1580.2 638.5h0M1580.4 637.6h0M1617.8 638.2h0M1619.6 638h0M1621.4 638.5h0M1638.9 637.8h0M1639.8 637.7h0M1641.1 638.5h0M1642.9 638.4h0M1645.9 637.8h0M1653.8 638.2h0M1655.8 638.3h0M1657 638.4h0M1688.8 638.2h0M1724.7 637.8h0M1745.5 637.9h0M1774.9 638h0M1789.2 638.1h0M1800.5 638.4h0M1807.6 638.1h0M1818.5 637.8h0M1826.8 638.3h0M1838.6 638.4h0M1342 639.4h0M1371.7 639.4h0M1398.2 638.9h0M1439.9 638.9h0M1447 639.2h0M1456.7 639.4h0M1520.8 638.9h0M1559.2 639h0M1563.5 639.3h0M1564.3 639.3h0M1566.2 639.1h0M1571.9 638.8h0M1575.5 639.5h0M1578.3 638.6h0M1578.5 639h0M1600.5 639.1h0M1601.8 638.9h0M1606 638.7h0M1615.2 639.2h0M1616.3 638.5h0M1643.7 639.2h0M1645.8 638.8h0M1645.9 639.4h0M1646.3 638.6h0M1648.4 638.8h0M1774.6 639h0M1782.3 638.7h0M1813.6 639.3h0M1837.2 639.3h0M1371.5 640.4h0M1394.5 640.1h0M1404.5 640h0M1413.3 639.8h0M1434.4 640h0M1448.4 640.4h0M1550.6 639.5h0M1554 639.7h0M1560 640.5h0M1573 639.8h0M1579.2 640.3h0M1600.5 640.4h0M1604.8 639.9h0M1606.3 639.5h0M1615.6 639.9h0M1616.4 640.4h0M1617.5 639.6h0M1618.5 640.1h0M1618.9 640.1h0M1620.5 639.8h0M1641.3 639.7h0M1645.2 640h0M1648.5 640.4h0M1649 639.5h0M1747 639.9h0M1758 640.5h0M1792.5 639.6h0M1825.4 640h0M1831.8 639.6h0M1834.6 640.1h0M1843.5 639.8h0M1844.8 640.2h0M1846.7 640.2h0M1348.3 640.5h0M1373.6 640.7h0M1381.6 640.6h0M1382.6 641.1h0M1399 641.5h0M1420.2 641.3h0M1564.6 640.6h0M1574 641h0M1575.8 640.8h0M1580.5 640.8h0M1600.1 641.1h0M1601.4 641.5h0M1601.7 640.6h0M1604 641.3h0M1604 640.9h0M1618.3 640.8h0M1619.9 640.9h0M1621 641.4h0M1621.1 641.1h0M1621.4 640.6h0M1638.7 641.2h0M1641.7 640.9h0M1641.7 640.9h0M1660 641.3h0M1665.9 640.9h0M1709.5 641h0M1774.5 640.8h0M1798.5 641.1h0M1803.7 641.4h0M1804.4 641.2h0M1837 641.1h0M1844.6 641.2h0M1855.2 641.5h0M1351.8 642.2h0M1370.5 642.2h0M1372.7 641.9h0M1375.6 641.7h0M1383.4 641.7h0M1406.8 641.8h0M1425.2 642.5h0M1434.4 642.2h0M1567 642.2h0M1569.8 642.1h0M1573.2 642.4h0M1574.5 641.7h0M1581.4 642.3h0M1600.5 641.8h0M1600.6 641.8h0M1601.8 642.1h0M1601.9 642.1h0M1603.1 642h0M1603.6 641.5h0M1604 642.1h0M1605.8 642.3h0M1619.2 641.7h0M1620 642.2h0M1620.2 642.1h0M1645.3 642.2h0M1645.4 641.7h0M1647 642.2h0M1647.9 642.1h0M1648 642.2h0M1653.9 641.9h0M1654.1 641.7h0M1656.1 641.6h0M1664.8 641.6h0M1669.2 642.4h0M1713.4 642.1h0M1718 641.5h0M1735.2 641.7h0M1757.5 642.3h0M1770.4 641.6h0M1797.9 641.8h0M1802 642.2h0M1807.9 642.4h0M1821.9 642.4h0M1829.1 641.6h0M1833.7 641.7h0M1838.4 642.1h0M1345.5 643.4h0M1357.2 643h0M1369.1 642.8h0M1380.9 643.1h0M1406.5 643.4h0M1410 642.7h0M1435.1 642.8h0M1440 642.9h0M1458.5 642.8h0M1558.4 642.8h0M1562.1 643.2h0M1573.5 642.9h0M1576.7 643.1h0M1580.9 643.2h0M1600.7 643.2h0M1602.6 642.6h0M1604.5 642.9h0M1605.5 642.9h0M1619.7 643.4h0M1647.5 643.4h0M1648.8 642.9h0M1649.3 642.7h0M1649.3 642.7h0M1652.3 642.6h0M1656 642.7h0M1657.2 643.1h0M1679.6 642.7h0M1718.1 643.1h0M1738 642.6h0M1753.9 643.4h0M1763.9 642.7h0M1764.1 643.3h0M1769.6 642.7h0M1773.5 643h0M1774.1 643.3h0M1777.8 642.9h0M1786.5 642.5h0M1793.4 643.1h0M1801.9 642.8h0M1807.1 643h0M1824.6 643.1h0M1368.7 644.4h0M1400.4 643.8h0M1417.7 643.9h0M1447.7 644.3h0M1455.8 644.5h0M1456.5 644h0M1473.9 644.4h0M1475.8 644h0M1558.9 643.5h0M1563.6 644.4h0M1567.2 643.6h0M1567.3 643.9h0M1576.6 643.6h0M1603 644.1h0M1606.4 643.9h0M1613.6 644.4h0M1614.6 644h0M1620.9 644h0M1640.3 644.1h0M1649.1 643.6h0M1649.2 643.7h0M1651.3 643.9h0M1653.3 644.3h0M1669.3 643.5h0M1699.3 643.9h0M1747.5 644h0M1749.6 644.1h0M1752 644.4h0M1755.1 644.1h0M1756.7 644.2h0M1756.7 644.3h0M1760.8 644.1h0M1773.3 644.4h0M1776.8 643.5h0M1779.3 644.4h0M1790.5 643.5h0M1800.3 644.1h0M1837.6 644.4h0M1845.6 644.3h0M1847.9 644.4h0M1848.9 643.9h0M1364.3 645h0M1388.2 645.3h0M1407.2 644.5h0M1436.5 645h0M1437.4 645.2h0M1452.1 645.4h0M1453.6 645.5h0M1559.9 645.2h0M1570.9 645.2h0M1575.1 644.7h0M1580.6 644.6h0M1605.2 644.7h0M1614.2 644.8h0M1617.9 644.8h0M1618.9 645.2h0M1619.8 645.5h0M1639.7 645.4h0M1641.5 644.8h0M1641.7 644.9h0M1642.2 645h0M1642.4 645h0M1645.4 644.8h0M1648.5 645h0M1653.8 644.9h0M1655.5 644.9h0M1655.5 644.7h0M1662.1 644.8h0M1702.3 644.5h0M1705.4 644.6h0M1742.7 645.4h0M1746.1 645.1h0M1756 645.1h0M1758.1 645.1h0M1759.7 645.1h0M1763.6 645.2h0M1767.7 644.6h0M1769.4 645.5h0M1769.7 644.8h0M1773 644.9h0M1774.6 645.2h0M1776.4 644.8h0M1782.9 644.9h0M1783.2 644.8h0M1795.4 645.4h0M1799.6 644.5h0M1799.6 645.3h0M1804.4 645.4h0M1806.1 645.2h0M1811.4 645.1h0M1829.5 644.7h0M1834.9 645.1h0M1840.5 645.5h0M1847.3 645h0M1362.5 646h0M1362.8 645.7h0M1382.2 645.8h0M1383.4 646.2h0M1384.4 645.6h0M1386.4 646.3h0M1390.4 645.8h0M1406.2 646.4h0M1408.3 646.3h0M1438.7 646.1h0M1440.9 645.9h0M1443.5 646.1h0M1477.8 646h0M1555.5 645.6h0M1562.8 645.6h0M1566 646.2h0M1570.7 645.8h0M1570.8 646.4h0M1572.1 646.5h0M1573 645.7h0M1573.4 646.2h0M1576.4 646.4h0M1602.7 645.8h0M1603.7 646.4h0M1604.4 646h0M1606 645.9h0M1617.5 645.6h0M1617.7 645.9h0M1619.7 646.5h0M1641.4 645.7h0M1646 645.7h0M1646.2 645.5h0M1646.2 645.7h0M1646.7 646h0M1648.5 646.3h0M1649 646.2h0M1652.4 645.5h0M1652.6 646.2h0M1653.8 645.7h0M1657.8 646h0M1660.3 646.4h0M1661.8 645.6h0M1696.1 645.5h0M1736.8 646.1h0M1742.8 646h0M1759 645.7h0M1760.9 645.6h0M1762.8 645.5h0M1768.5 645.6h0M1769.5 645.7h0M1770.8 645.9h0M1778.3 646.1h0M1782.7 646.2h0M1789.8 645.6h0M1790.8 645.7h0M1793.3 646.5h0M1815.4 645.7h0M1826.6 645.9h0M1353.6 647.1h0M1386 647h0M1391.1 646.6h0M1415.9 646.6h0M1424.1 647.1h0M1436.5 646.7h0M1445.6 647h0M1455.3 646.7h0M1465.3 647.4h0M1555.4 646.6h0M1558.4 647.1h0M1578.2 647.5h0M1579.1 647.4h0M1602.4 647.2h0M1604.2 646.7h0M1604.7 647.1h0M1606.2 647.4h0M1618.4 647.4h0M1641 646.8h0M1642.2 647.1h0M1647.3 647.1h0M1649.4 647.5h0M1651.9 646.6h0M1652.5 647.1h0M1657.4 647.2h0M1657.9 646.7h0M1658 647.3h0M1662.8 647.1h0M1704.3 647.2h0M1715.9 647h0M1726.1 647.2h0M1738.9 647.3h0M1753.4 647.5h0M1755.7 647.5h0M1761.6 646.8h0M1763.4 646.6h0M1769.8 647.5h0M1771.4 646.9h0M1774.6 646.8h0M1776.6 646.6h0M1778 647.3h0M1778.2 647.2h0M1778.5 647h0M1788.4 646.7h0M1789.2 646.7h0M1800.9 647.3h0M1805.8 647.3h0M1806.8 647.3h0M1810.7 646.8h0M1831.9 646.8h0M1835.2 646.8h0M1836.5 646.7h0M1354.6 648.5h0M1364 648.5h0M1370.2 648.3h0M1405.3 647.8h0M1419.3 648.1h0M1429.5 648.3h0M1431.7 648h0M1438.1 648.3h0M1439.3 647.8h0M1443.3 647.9h0M1446.3 648.4h0M1451.6 648h0M1459.1 648.2h0M1460.1 648.1h0M1466.2 648h0M1475.8 648.3h0M1483.5 648.2h0M1551.4 648h0M1553 647.8h0M1564.6 647.6h0M1571.1 648.4h0M1576.3 647.6h0M1577.2 648.4h0M1577.9 648.1h0M1602.3 647.9h0M1602.6 647.9h0M1603.4 648.1h0M1606.7 647.8h0M1616.5 647.6h0M1618.9 648.1h0M1640 647.9h0M1645.7 648.5h0M1646.4 648.3h0M1646.5 647.8h0M1648 648.2h0M1648 648.3h0M1652.5 647.9h0M1653.6 648.3h0M1654 647.9h0M1654.1 648.5h0M1656.2 647.8h0M1660.7 648h0M1662.3 647.7h0M1662.6 647.7h0M1664.8 648.1h0M1677.5 648.1h0M1708.8 647.9h0M1736.4 647.8h0M1740.2 647.7h0M1748.5 648h0M1751.3 648.2h0M1754.4 648h0M1755.9 648.1h0M1758.4 648.5h0M1765.8 647.8h0M1771.7 648h0M1772.7 648.3h0M1773.3 647.7h0M1780.8 647.8h0M1781.3 648h0M1786.3 647.9h0M1786.6 648.2h0M1788 648.2h0M1788.3 648.1h0M1788.5 648h0M1791.3 648.2h0M1792.8 648.1h0M1793.4 648.5h0M1794.3 647.7h0M1795.3 648.3h0M1800.4 648.2h0M1845.2 647.6h0M1846.8 647.5h0M1354.5 649.3h0M1361.2 648.9h0M1388.5 648.5h0M1394.1 648.6h0M1396.6 649.1h0M1399.7 649.3h0M1411.3 649.4h0M1427.6 648.8h0M1433.8 649.2h0M1437.3 649.1h0M1443 648.8h0M1443.8 649.5h0M1445.3 649.4h0M1445.7 649.2h0M1447.9 648.6h0M1454 648.8h0M1474.2 649.3h0M1479.6 648.7h0M1504.8 649.2h0M1561.9 648.6h0M1566.5 649h0M1568.3 648.8h0M1570.6 649.5h0M1571.6 649.2h0M1572.4 648.6h0M1575 649.4h0M1575.5 649h0M1576.2 648.6h0M1580 648.9h0M1580.1 649.4h0M1600.7 648.7h0M1601.3 649h0M1605.2 648.6h0M1607.3 649.4h0M1618.7 648.7h0M1639.7 649.2h0M1648.2 648.9h0M1649.3 649.3h0M1649.4 649h0M1650 648.6h0M1651.5 649.1h0M1652 648.6h0M1653.3 648.7h0M1657 649h0M1657.3 648.7h0M1657.7 648.9h0M1658.1 649.3h0M1660.2 648.5h0M1660.2 649.4h0M1660.8 649.1h0M1671.1 649.2h0M1705.9 648.8h0M1723.5 649.5h0M1730.6 648.9h0M1734.4 649h0M1736.4 649.4h0M1739.8 648.9h0M1740.5 648.7h0M1743.3 649.1h0M1749.1 649h0M1751.1 649.2h0M1756.9 649.4h0M1762.8 649h0M1764.2 649.4h0M1765.7 648.5h0M1767.9 648.7h0M1775.2 648.7h0M1781 648.8h0M1783.3 649.4h0M1787.2 649.2h0M1787.7 649h0M1795.6 648.9h0M1802.1 649.4h0M1803.8 649.3h0M1808.2 648.7h0M1810.4 649.3h0M1817.1 649.3h0M1820.5 648.8h0M1821.4 649.4h0M1821.9 648.9h0M1828.3 649.1h0M1831.4 649.5h0M1845 649h0M1381.4 649.8h0M1405.6 649.8h0M1408.3 650.4h0M1413.9 650.4h0M1421.6 649.9h0M1422 650.4h0M1423.1 650.1h0M1423.9 649.7h0M1426.3 649.7h0M1429 650.2h0M1430.1 650h0M1431.6 649.9h0M1434.8 650.4h0M1439.3 649.8h0M1454 650.3h0M1457.4 649.7h0M1460.8 650.1h0M1461 649.6h0M1462.3 650.4h0M1466.7 650.2h0M1473.4 650.3h0M1490.8 650h0M1521.1 650h0M1539.7 649.7h0M1555.3 650.4h0M1560.4 649.6h0M1568.7 650.1h0M1569 650.2h0M1572.4 650.1h0M1573.2 650.4h0M1574.8 649.8h0M1602.5 649.6h0M1603 650.4h0M1603.2 649.7h0M1605.1 650.3h0M1607.1 650.1h0M1616.1 649.8h0M1618 649.7h0M1619.6 650.3h0M1639.6 650.5h0M1647.1 649.6h0M1649.6 650.3h0M1649.8 649.9h0M1650 650.2h0M1652.5 650.5h0M1657.5 650.1h0M1659.2 649.8h0M1668.7 650h0M1671.8 650.3h0M1688.5 650h0M1717.7 650.2h0M1721.3 649.5h0M1724.6 650.3h0M1725.1 649.6h0M1726.1 649.5h0M1734.6 650.3h0M1738.1 649.7h0M1741.4 649.8h0M1742.2 650.3h0M1744.4 649.8h0M1747.8 650.4h0M1749.4 649.6h0M1753.5 650.4h0M1753.7 650.1h0M1758 649.9h0M1760.5 650.3h0M1760.6 649.7h0M1760.6 649.8h0M1762.5 650.3h0M1768.7 650.2h0M1768.8 649.8h0M1769.1 650h0M1770.8 650.4h0M1772.1 650h0M1774.2 650.1h0M1775.1 649.6h0M1775.1 650.3h0M1775.6 650h0M1779 650.4h0M1783.8 649.9h0M1785.9 649.9h0M1788.7 650.1h0M1791.9 650.1h0M1795.5 649.6h0M1799.4 650.1h0M1800.7 650h0M1802.1 649.7h0M1802.1 650.1h0M1807.7 650.1h0M1808.2 650.3h0M1809.2 650.2h0M1813 649.6h0M1813.5 650.2h0M1818.9 649.9h0M1821.5 649.5h0M1825.7 650.1h0M1831.9 649.7h0M1835.4 649.8h0M1841.1 650h0M1841.9 649.8h0M1352.7 651h0M1368.2 650.9h0M1380.1 651.1h0M1393.7 651h0M1395 650.6h0M1400.3 651.2h0M1411.3 651.5h0M1415.5 651.1h0M1417.6 651.3h0M1419 651.3h0M1421.6 650.9h0M1422.4 651.5h0M1425.6 651.1h0M1428.3 650.9h0M1434.2 650.6h0M1436.7 651h0M1440 651.4h0M1440.6 650.8h0M1442.8 651.4h0M1444 651.5h0M1448.6 651.2h0M1449.3 650.6h0M1450.7 651.1h0M1454.8 650.5h0M1455.2 651.2h0M1457 650.7h0M1460.1 650.7h0M1462 650.6h0M1471.1 651.4h0M1471.5 650.9h0M1472.3 651.4h0M1482.8 650.8h0M1487 650.9h0M1490.5 651.3h0M1496.6 650.9h0M1558.2 650.6h0M1559.7 650.9h0M1560 651h0M1567.2 651.4h0M1567.5 650.5h0M1569.4 650.6h0M1569.7 651.4h0M1570.9 651.2h0M1571.1 650.6h0M1574.9 650.5h0M1575.5 651.4h0M1577.7 650.6h0M1578.9 651.5h0M1607.3 651.1h0M1614.4 651.2h0M1615.6 650.6h0M1615.7 650.8h0M1639.6 651.2h0M1645.4 651.5h0M1651.4 650.6h0M1651.5 651.4h0M1653.1 651.2h0M1654 651.3h0M1654.8 650.8h0M1655.4 650.6h0M1656.6 651.2h0M1657.2 651h0M1659.1 651.4h0M1668 651.2h0M1684.9 651.1h0M1713.1 651.4h0M1713.9 651.1h0M1723.4 651h0M1726.6 651.4h0M1731.9 651h0M1733.2 651.1h0M1734.8 651h0M1740.3 650.8h0M1744.2 650.9h0M1745.9 651.3h0M1748.1 651h0M1749.1 651h0M1751.2 651h0M1752.4 650.5h0M1757.3 650.7h0M1759.4 650.8h0M1759.5 651.5h0M1759.6 651.5h0M1760 650.6h0M1761.4 651.1h0M1762.7 650.5h0M1765.4 650.7h0M1772.6 650.8h0M1773.3 651.4h0M1775 650.9h0M1775.8 651.2h0M1779.9 651.2h0M1780.9 651.4h0M1784.8 651.3h0M1786 651.2h0M1787.6 651h0M1788.4 650.5h0M1791.9 650.8h0M1792.6 651h0M1793.1 651.4h0M1796.7 651.2h0M1802.2 650.7h0M1803.5 651h0M1804.3 651.2h0M1805.6 651.2h0M1811.3 650.9h0M1814.9 651.1h0M1815.3 651h0M1815.9 651.5h0M1816.9 651.2h0M1817.8 651.3h0M1818.4 651h0M1819.8 651.1h0M1837.6 651.4h0M1839 651.4h0M1839.8 651.1h0M1839.9 651.3h0M1842.6 650.8h0M1846.2 650.7h0M1846.5 651.4h0M1388.2 652.3h0M1394.1 652.4h0M1401.5 652.4h0M1407.3 652.4h0M1412.3 651.7h0M1412.4 651.9h0M1420 651.8h0M1422.6 651.5h0M1423.7 652h0M1423.9 652.1h0M1426 651.5h0M1426.6 652.3h0M1433.9 651.7h0M1434.1 652.2h0M1434.9 652.1h0M1436.2 651.7h0M1438.5 652.3h0M1441.4 651.6h0M1446.8 651.9h0M1447.5 651.6h0M1448.7 651.9h0M1449.4 652.3h0M1450.8 652.3h0M1452.1 652.1h0M1452.2 651.8h0M1456.9 652.3h0M1457.3 651.8h0M1462.1 651.5h0M1463.5 652h0M1464.1 652.3h0M1466.6 651.9h0M1469.6 652.3h0M1471.3 652.3h0M1474 652.4h0M1476.9 652.4h0M1567.2 652h0M1568.6 652h0M1568.6 652.3h0M1574.2 652.1h0M1577.1 651.6h0M1579.1 651.7h0M1602.4 652.4h0M1605.3 651.9h0M1613 651.9h0M1613.6 651.5h0M1613.8 652.5h0M1614.9 652.2h0M1617.7 651.9h0M1618.1 652.1h0M1643.4 652.1h0M1647.4 652.2h0M1649.5 651.8h0M1657.5 652.3h0M1662 652.1h0M1665.9 652.1h0M1676.6 652.4h0M1677.3 652.2h0M1683.1 652.4h0M1692.4 651.9h0M1696.5 652h0M1714.5 651.8h0M1725.9 651.8h0M1729.4 651.6h0M1731.2 651.9h0M1733 651.6h0M1736 651.8h0M1740.1 651.7h0M1744.2 652h0M1744.3 652h0M1746.3 651.6h0M1746.4 651.6h0M1748.8 651.6h0M1749.6 651.7h0M1754.8 652.1h0M1756 652.4h0M1757.3 652.1h0M1758.2 651.7h0M1760.6 651.9h0M1760.8 652.1h0M1761.6 651.6h0M1767.6 651.6h0M1768 652.1h0M1770.9 652.4h0M1774.4 652h0M1775.4 651.6h0M1777.6 651.5h0M1781.4 651.7h0M1783.3 651.7h0M1783.5 651.5h0M1784.5 651.9h0M1785.8 651.9h0M1787.5 651.9h0M1796.7 651.7h0M1798.6 651.8h0M1798.7 651.8h0M1801 652h0M1801.8 651.5h0M1806.4 652.5h0M1815.4 651.7h0M1817.9 652h0M1819.8 651.7h0M1831.2 652h0M1833.6 651.6h0M1834.6 652.4h0M1836.6 652h0M1841.5 651.6h0M1364.4 653.3h0M1364.5 653.1h0M1377.5 653.4h0M1397.3 652.5h0M1397.9 653.1h0M1409.2 652.8h0M1409.7 653.1h0M1415.9 653.3h0M1418 652.9h0M1418.5 653.1h0M1418.8 652.7h0M1419.4 652.9h0M1419.5 652.6h0M1420.8 653.1h0M1421.6 652.8h0M1421.8 652.7h0M1422.3 653.2h0M1424.2 653.2h0M1425.1 652.9h0M1425.3 652.5h0M1426.8 653.4h0M1427 653.4h0M1429.3 652.8h0M1431.5 652.7h0M1434.6 652.8h0M1436.5 652.9h0M1438 652.6h0M1438.9 653.1h0M1439.3 653.4h0M1443.9 652.7h0M1445.2 652.9h0M1445.3 653.2h0M1447.4 653.4h0M1448.5 652.5h0M1450.4 653.5h0M1450.7 653.1h0M1451.4 653.4h0M1451.8 652.9h0M1456 653.2h0M1456.9 653.3h0M1462.8 653h0M1477 652.6h0M1477.5 653h0M1477.7 653.5h0M1487.4 653.2h0M1493.9 652.9h0M1495 653.1h0M1504.5 652.7h0M1536.6 652.9h0M1549.3 653.2h0M1554.4 653.1h0M1556.6 653.2h0M1557.5 652.6h0M1559 652.9h0M1562.8 652.6h0M1563 652.8h0M1563.3 653.1h0M1563.3 653h0M1564.3 652.6h0M1565.9 652.9h0M1565.9 653.5h0M1566.1 653.5h0M1570.2 652.7h0M1576 652.9h0M1578.5 652.5h0M1579.4 653.3h0M1601.6 652.7h0M1602.6 652.8h0M1604 652.8h0M1605.4 653h0M1612.8 653.2h0M1642.5 652.9h0M1643 653.4h0M1643.5 653h0M1644.3 653.1h0M1646.9 652.7h0M1648.2 653h0M1648.6 653.5h0M1650.4 653.2h0M1652.7 653.3h0M1656.1 653.2h0M1667.7 653.4h0M1668.2 653.2h0M1670.1 653.2h0M1674.2 653h0M1691 652.9h0M1691.8 652.7h0M1725.9 653.2h0M1729.9 653.3h0M1735.2 652.7h0M1736.8 652.6h0M1739.3 652.7h0M1739.9 652.6h0M1740.1 652.8h0M1743.5 653h0M1747.1 653.4h0M1747.3 653h0M1749 652.5h0M1749.7 652.8h0M1750.7 652.7h0M1751.7 653.1h0M1752.7 652.5h0M1754.7 652.5h0M1756.9 653.1h0M1758 652.7h0M1758 653.4h0M1760 653.3h0M1762.2 653.3h0M1763.6 653.1h0M1765.9 652.7h0M1766.6 653.3h0M1770.4 652.7h0M1770.5 653.4h0M1776.3 653.4h0M1776.6 653.4h0M1781.6 652.6h0M1781.6 653.3h0M1782.8 653.5h0M1783.5 653.4h0M1783.9 652.6h0M1786.4 652.5h0M1794.4 653.5h0M1796.2 652.7h0M1797.1 653h0M1799.7 653.5h0M1801.9 653.2h0M1803.4 652.7h0M1807.3 652.9h0M1809.8 652.5h0M1810.5 653.1h0M1810.8 652.7h0M1814 653.1h0M1814.5 653.4h0M1817.8 653.4h0M1821.4 653.1h0M1827.7 653h0M1828.5 653.5h0M1829.5 653.3h0M1829.5 653.1h0M1831 653.1h0M1836.6 652.8h0M1371.9 654.4h0M1388.3 654h0M1404.7 654.5h0M1413.6 653.5h0M1413.8 653.7h0M1418 654.1h0M1420.2 654.1h0M1429.1 654.2h0M1435.9 654h0M1436.1 653.5h0M1436.5 653.6h0M1442 654.1h0M1447 654.2h0M1449.4 654.2h0M1453.2 653.7h0M1454.2 653.6h0M1456.9 653.9h0M1459.6 654.2h0M1460.8 653.5h0M1461.7 654.3h0M1469.1 653.9h0M1472.9 653.8h0M1473.3 654.3h0M1474.6 653.9h0M1475.8 654.1h0M1481.3 653.6h0M1481.4 654.4h0M1483.8 654.2h0M1485 654.3h0M1509.9 654.3h0M1542.4 654.5h0M1543.7 653.5h0M1557.3 653.5h0M1559.4 654.1h0M1560.5 653.7h0M1561.5 654.3h0M1562 653.7h0M1568.7 654h0M1572.5 654.1h0M1572.7 654h0M1573.5 654.2h0M1574.5 653.9h0M1603.7 654.1h0M1603.7 654.4h0M1605.6 654.5h0M1607.7 654.3h0M1613.3 654.4h0M1615.7 654.2h0M1616.5 654.1h0M1643.6 653.7h0M1643.9 654.4h0M1643.9 654.4h0M1644.3 653.6h0M1645.1 654.4h0M1647.7 654.4h0M1648.1 654.4h0M1648.9 654.2h0M1655.5 653.6h0M1656.8 654.2h0M1658.1 653.6h0M1658.1 654.5h0M1660.3 654.1h0M1662.5 654.5h0M1662.6 653.9h0M1667.6 654.3h0M1667.9 654.5h0M1669.1 654.4h0M1674.9 653.9h0M1675.7 654.4h0M1701.2 653.7h0M1703.5 653.7h0M1707.6 653.8h0M1716.2 654.1h0M1716.5 653.7h0M1718 654.1h0M1722.4 654.3h0M1727.7 654.4h0M1728 653.9h0M1728.1 654.2h0M1729 654.4h0M1737.3 654.3h0M1737.4 654h0M1737.4 653.7h0M1737.8 654.4h0M1738.7 654.1h0M1740.8 654.2h0M1748.4 653.7h0M1748.5 654.3h0M1756 654h0M1756.5 653.7h0M1765.8 654.4h0M1767.8 653.9h0M1768.3 654.1h0M1768.4 653.9h0M1772.2 654.1h0M1773.3 654.1h0M1778.7 654.5h0M1779.8 654.1h0M1780.8 653.8h0M1783.4 654.1h0M1784.3 653.7h0M1786.3 653.7h0M1786.4 653.7h0M1792.1 654.3h0M1793.4 653.5h0M1795.1 653.8h0M1795.5 653.5h0M1802.6 654.1h0M1803.2 654.3h0M1805.1 653.6h0M1806.7 654.3h0M1808.9 653.9h0M1809.4 654h0M1813.9 654.1h0M1816 653.5h0M1817.5 654.1h0M1823.1 654.4h0M1825.8 653.9h0M1828.2 653.5h0M1835.4 654h0M1841.8 653.9h0M1842.7 654.4h0M1363.2 654.7h0M1376.3 655h0M1377.8 655.4h0M1384.1 655.5h0M1389 654.7h0M1408.9 654.9h0M1410.8 654.7h0M1414.9 655.2h0M1415.5 655.5h0M1418.1 655h0M1418.9 655h0M1421.7 655.2h0M1422.5 654.7h0M1422.7 654.6h0M1423.5 654.7h0M1425.5 655.3h0M1429.3 654.7h0M1431 654.6h0M1435.1 655.5h0M1436.2 655h0M1438.6 654.7h0M1439.3 655.1h0M1439.7 655.1h0M1441.5 654.9h0M1441.6 655.4h0M1448.7 655.1h0M1449.7 654.8h0M1459.5 655.1h0M1465.8 655.3h0M1469 654.8h0M1470.3 654.9h0M1470.7 654.6h0M1473.5 654.7h0M1473.8 654.7h0M1479.9 655.5h0M1482.2 655.5h0M1482.2 655.3h0M1483.3 654.6h0M1486.6 655h0M1509.3 654.5h0M1532.1 654.8h0M1534.9 655.2h0M1551.8 655.3h0M1555.8 654.7h0M1566.2 655.2h0M1566.2 655.3h0M1567.9 655.1h0M1568.3 654.6h0M1570.1 654.7h0M1570.2 654.6h0M1571.4 654.9h0M1573.1 654.7h0M1575.6 654.5h0M1575.8 655h0M1605.8 655h0M1606.9 654.9h0M1607.8 655.3h0M1614.3 654.6h0M1617.2 655.3h0M1618 655.3h0M1644.7 654.9h0M1648.2 655.2h0M1649.4 655.3h0M1651.1 654.7h0M1651.4 655h0M1653.9 655.3h0M1654.6 654.8h0M1654.9 655.2h0M1658 654.8h0M1659.4 654.6h0M1668.7 654.7h0M1675.6 655.1h0M1676 654.7h0M1680.6 655.3h0M1688.3 655.4h0M1689.6 654.9h0M1700.5 655.1h0M1701.4 655.4h0M1713.9 655.4h0M1714 654.9h0M1715.1 655.5h0M1715.7 655h0M1723.2 654.9h0M1725.2 654.7h0M1725.4 654.9h0M1726.9 654.8h0M1733.5 654.9h0M1735 655h0M1735.1 655.3h0M1737.1 655h0M1741.1 654.8h0M1742 654.5h0M1744 655.1h0M1744.1 655h0M1748.5 655.2h0M1749.3 655.4h0M1752 654.5h0M1752.5 655h0M1754.7 655.3h0M1755 655.1h0M1761.3 654.6h0M1761.6 655.4h0M1762.1 654.8h0M1765.5 655.4h0M1768 655h0M1768.8 655.3h0M1770.1 654.6h0M1772.5 654.5h0M1774.9 654.8h0M1774.9 654.9h0M1780.1 654.7h0M1781 655.4h0M1786.8 655.4h0M1792.8 655.4h0M1794.3 655.2h0M1795 654.9h0M1803.2 655.1h0M1803.3 654.7h0M1804 654.9h0M1804.6 654.8h0M1805.5 654.6h0M1808.4 655.1h0M1809.1 654.9h0M1809.2 654.8h0M1809.2 654.7h0M1810 654.9h0M1811.3 654.6h0M1812 655.5h0M1813.5 654.6h0M1815.4 654.6h0M1815.4 654.8h0M1818.1 655h0M1821.4 655.2h0M1824.7 654.7h0M1829 655.1h0M1830.1 655.2h0M1832.2 654.7h0M1832.7 655.1h0M1833.9 655.2h0M1365 656.3h0M1377.3 656.1h0M1380.5 655.6h0M1387.6 655.7h0M1388.3 656.4h0M1397.7 656.4h0M1408.7 656.3h0M1409.8 656.4h0M1410.2 655.7h0M1412.1 656.3h0M1412.8 656h0M1415.2 656.2h0M1417.2 655.6h0M1417.2 655.6h0M1419 655.6h0M1419.4 656.5h0M1421.7 656.2h0M1424.6 655.8h0M1427.3 656.2h0M1427.9 656.1h0M1429.6 656.2h0M1431 656.3h0M1431.3 656.1h0M1431.7 656h0M1434.2 656h0M1435.1 655.7h0M1435.7 655.9h0M1441.4 656.3h0M1442.9 655.6h0M1448.8 655.6h0M1450.9 656.3h0M1455.1 655.6h0M1456.1 656.4h0M1458.2 655.7h0M1458.2 655.7h0M1461.3 655.8h0M1461.7 655.6h0M1461.8 656.5h0M1469.5 655.9h0M1470.5 655.8h0M1471 656.1h0M1471.4 656.1h0M1473.5 656.2h0M1478.2 656h0M1481.3 655.8h0M1483.1 655.9h0M1484.4 656.1h0M1484.4 655.8h0M1490.2 656.2h0M1491.9 656.3h0M1494.2 656.3h0M1495.5 655.9h0M1499 656.5h0M1502.1 656h0M1505.9 655.7h0M1507.9 656.3h0M1513.9 655.7h0M1523 656.2h0M1524 656.4h0M1548.3 655.5h0M1548.7 655.8h0M1559 655.5h0M1572.2 655.9h0M1572.7 656.5h0M1572.8 655.8h0M1602 655.7h0M1604 656.2h0M1605.5 656.1h0M1607.5 655.8h0M1612.8 655.8h0M1613.3 655.6h0M1614.8 656h0M1616 656.4h0M1616.5 655.5h0M1617 656.3h0M1648.1 656.5h0M1649 655.5h0M1650.2 655.7h0M1650.7 656.2h0M1652.2 656.1h0M1652.6 655.5h0M1653.8 655.8h0M1657.3 655.9h0M1658 656.2h0M1663.5 655.8h0M1671.9 655.8h0M1672.9 656.5h0M1682.5 656.5h0M1688.1 656.4h0M1691.1 656.2h0M1696.1 656.1h0M1697.2 656.1h0M1700.3 656h0M1712.5 655.6h0M1715.2 655.6h0M1716.3 656h0M1724 656.2h0M1728.9 656.3h0M1729.3 655.6h0M1732.8 656.4h0M1737.2 655.5h0M1741.6 656.4h0M1745.6 655.6h0M1746.1 655.5h0M1746.4 656h0M1749.5 655.7h0M1750 656.5h0M1751.1 656.3h0M1757.7 656h0M1762.9 656.1h0M1763.8 655.7h0M1767.9 655.8h0M1768.2 655.7h0M1773.2 655.9h0M1775.3 656.2h0M1778.5 656.4h0M1779.1 655.8h0M1788 655.7h0M1788.8 656.4h0M1788.9 655.7h0M1791.4 656.1h0M1798.1 655.6h0M1799.8 655.7h0M1810.7 656h0M1813.3 655.9h0M1815 656.5h0M1815.9 655.5h0M1822.6 655.7h0M1824.9 655.8h0M1826.1 655.8h0M1829.2 655.6h0M1835.4 655.8h0M1835.6 656.5h0M1839.2 656.3h0M1840.7 656.5h0M1844.9 656h0M1373.1 656.8h0M1388 657h0M1392.6 657.5h0M1406.3 657.2h0M1406.9 657.2h0M1408.9 656.9h0M1411.3 656.8h0M1413 656.7h0M1414.9 656.6h0M1415.5 656.8h0M1416.3 657.4h0M1419.6 657.3h0M1421.5 656.6h0M1423 657.2h0M1425.7 657.4h0M1427.7 657.5h0M1431.8 656.7h0M1432 657.2h0M1432.2 657.4h0M1438.9 656.6h0M1443.6 656.6h0M1449 657.2h0M1449.7 656.9h0M1450 656.8h0M1453.1 656.8h0M1453.8 656.6h0M1455 657.5h0M1457.6 656.6h0M1463.4 657.3h0M1464.3 657.1h0M1466.3 657.4h0M1467.6 656.7h0M1467.7 656.8h0M1467.9 656.9h0M1469.2 656.7h0M1469.3 656.8h0M1471.2 657.2h0M1481.2 656.5h0M1481.9 656.8h0M1487.7 656.6h0M1491.6 656.9h0M1497.4 657.4h0M1499.4 657.4h0M1505.2 656.8h0M1506 657.3h0M1513.4 657.2h0M1515.5 656.7h0M1515.6 657.3h0M1521.4 657.1h0M1525.1 656.7h0M1525.3 657.4h0M1526.3 657h0M1530.7 657.3h0M1535 656.6h0M1548.1 657.4h0M1551.1 657.4h0M1551.5 657.1h0M1552.1 657h0M1556.5 657.1h0M1557.7 657.1h0M1561.1 656.9h0M1562.7 657.4h0M1571 656.8h0M1575.1 657.3h0M1613 656.5h0M1615 656.7h0M1646 657.3h0M1652.6 656.8h0M1656.7 657.1h0M1661.5 657.3h0M1665.7 656.7h0M1666.1 656.8h0M1669.2 656.9h0M1670.9 657.4h0M1672.7 657.4h0M1675.7 657h0M1677.9 656.9h0M1684.8 656.6h0M1685.7 657.5h0M1687.9 656.8h0M1690.1 656.7h0M1697 657.1h0M1704.7 657.4h0M1713.5 656.7h0M1718.6 656.6h0M1720.7 656.5h0M1720.8 656.9h0M1722.4 657.4h0M1723.1 657.2h0M1723.4 656.5h0M1723.6 657.1h0M1724.5 657.1h0M1730.5 657h0M1732.5 657.2h0M1734.4 657.3h0M1736.7 656.8h0M1740.8 656.9h0M1745.5 656.7h0M1750.2 657h0M1752.3 657.4h0M1754 656.8h0M1761.3 657.1h0M1764.2 657.1h0M1765.1 657.1h0M1765.5 657.3h0M1765.5 657.1h0M1767.5 656.9h0M1777.1 656.6h0M1779.7 657.1h0M1786.3 657.2h0M1792.1 656.7h0M1793.5 656.8h0M1794.1 657h0M1801.5 656.9h0M1802.5 657h0M1804.8 656.6h0M1806.1 656.8h0M1808.5 657.1h0M1809.1 657.3h0M1810.8 657.4h0M1811.4 656.6h0M1817.5 657.2h0M1818.2 656.8h0M1823.2 656.8h0M1823.5 657h0M1824.6 656.7h0M1831.2 656.8h0M1831.2 656.9h0M1832.3 656.9h0M1833.8 656.9h0M1834.7 656.9h0M1843.5 657.3h0M1390.4 658.4h0M1395.1 657.7h0M1398.6 658.3h0M1403.2 658.4h0M1405.4 657.5h0M1406.2 658.1h0M1406.9 657.9h0M1413.5 657.6h0M1421 658.1h0M1422.6 658.3h0M1424.2 657.9h0M1426.4 657.9h0M1427.1 658.3h0M1430.3 658.1h0M1435.4 657.9h0M1437.3 658.5h0M1441.5 657.9h0M1443.4 658h0M1445.8 657.8h0M1446.8 658.3h0M1447.6 658.5h0M1448.1 657.5h0M1450.1 657.6h0M1451.4 657.7h0M1451.9 657.8h0M1452.4 657.5h0M1453.9 658.4h0M1461.7 657.7h0M1467.2 657.9h0M1469.3 658.1h0M1470.1 658h0M1471.2 657.8h0M1472.9 658.5h0M1473.4 658.3h0M1478.5 658.3h0M1479.7 657.8h0M1480.9 658.1h0M1487.6 658.2h0M1489.4 657.6h0M1489.6 658.5h0M1489.9 657.7h0M1490.4 657.6h0M1492.2 658.3h0M1494.2 657.9h0M1498.2 657.8h0M1498.8 657.9h0M1499.7 657.6h0M1503.6 658h0M1504.2 657.8h0M1505.3 658.1h0M1513.9 658.2h0M1553.4 657.5h0M1557.5 658.2h0M1558.5 658.2h0M1558.8 658.2h0M1558.8 658.5h0M1561.6 658.5h0M1561.8 658.1h0M1562.5 657.9h0M1564.9 657.7h0M1568.2 658.2h0M1572.3 657.6h0M1574.4 658.1h0M1607.3 657.6h0M1608.3 658.3h0M1608.4 657.8h0M1612.2 658.3h0M1615.2 658.3h0M1617.5 658.3h0M1617.8 658.3h0M1648.2 658.2h0M1653.3 657.7h0M1653.5 658.1h0M1657.8 658.1h0M1658.3 658.2h0M1659.7 658.1h0M1662.3 657.8h0M1663.4 657.9h0M1668.1 658.1h0M1669.1 658.3h0M1671 658.4h0M1675.2 657.7h0M1676.1 658.2h0M1679.4 657.6h0M1680.5 657.6h0M1680.7 657.8h0M1682.8 658.3h0M1687.5 657.5h0M1701.1 658h0M1702.4 657.9h0M1710.8 658h0M1711.8 657.7h0M1716 658.2h0M1717.8 658h0M1719.5 658h0M1722 657.5h0M1722.1 658h0M1723.3 657.6h0M1725.7 658h0M1728.2 657.9h0M1729 657.5h0M1737.1 658h0M1739.4 657.9h0M1741.2 658.2h0M1741.3 657.8h0M1745 657.9h0M1756.2 657.6h0M1758.1 658h0M1758.1 658.1h0M1758.4 657.5h0M1759.2 658.3h0M1763.6 657.6h0M1764.7 657.8h0M1765.3 657.5h0M1785.7 657.7h0M1789.8 657.6h0M1791.3 657.9h0M1792.3 657.8h0M1797 657.7h0M1797.5 657.6h0M1799.1 657.7h0M1799.3 657.7h0M1799.7 657.6h0M1799.9 657.6h0M1808.5 657.8h0M1809 657.7h0M1814.6 657.8h0M1816 657.7h0M1820 658.1h0M1825.5 658.1h0M1828.7 658.4h0M1830.3 657.8h0M1831.7 657.8h0M1834.2 658.1h0M1835.5 658.3h0M1377.2 659.3h0M1393.5 659.3h0M1400 658.6h0M1403.3 659.2h0M1405.7 659.2h0M1406.7 659.4h0M1409.1 659.4h0M1414.4 659.1h0M1416.2 658.7h0M1418.9 658.9h0M1419.5 658.9h0M1428.6 659h0M1464.4 659.5h0M1466.4 658.9h0M1466.8 658.7h0M1466.9 659.1h0M1467.3 659h0M1470.4 659h0M1472.4 659.2h0M1473.9 659h0M1474.6 658.5h0M1477.4 659.1h0M1482.2 659.2h0M1482.6 659.5h0M1486.3 658.5h0M1488.5 658.9h0M1491.2 658.8h0M1495.9 658.7h0M1499.3 658.7h0M1502.3 659.4h0M1507 659h0M1507.8 659h0M1511.8 659.1h0M1517 659.1h0M1517.1 659.2h0M1524.3 659h0M1526.5 659h0M1528 658.8h0M1529.2 658.7h0M1541.3 659h0M1543.6 659.4h0M1545.6 658.5h0M1549.8 658.6h0M1554.6 659.3h0M1557.7 659.2h0M1559.4 659.3h0M1563 659.3h0M1566.5 659.4h0M1566.7 659.4h0M1570 658.6h0M1572.8 659.5h0M1603.5 658.6h0M1604 658.7h0M1604.8 659.3h0M1616.6 659.1h0M1617.5 659.3h0M1667.7 659.3h0M1669.7 659h0M1672.3 658.9h0M1673.7 659.2h0M1675.8 659.1h0M1676.6 659h0M1677.3 659.3h0M1686.9 659.1h0M1687.1 659h0M1688.3 659.3h0M1690.5 659.3h0M1695 658.7h0M1701.4 659h0M1701.7 659.2h0M1702.9 659h0M1706.4 659.4h0M1706.5 659h0M1707.2 658.5h0M1707.8 659.2h0M1708.9 659.2h0M1710.6 659h0M1714.4 658.7h0M1717.1 659.2h0M1719.9 658.7h0M1724.7 658.7h0M1725.1 658.6h0M1725.3 659.2h0M1726.9 659.1h0M1728.4 659.2h0M1729.7 659.2h0M1730.2 658.7h0M1730.8 658.7h0M1731.2 658.9h0M1736.3 659.2h0M1739.9 659.2h0M1751.8 658.8h0M1752.3 658.7h0M1803.8 658.6h0M1804 659h0M1806.5 659.1h0M1806.9 659.4h0M1808.9 658.5h0M1809.2 659.2h0M1812.2 658.5h0M1813.1 658.8h0M1821.2 659.4h0M1823.9 659.2h0M1825.9 659.1h0M1830 659h0M1830.2 659.5h0M1831.6 659.4h0M1833.4 658.9h0M1836.5 658.8h0M1837.8 658.9h0M1378.1 659.6h0M1391.4 660.3h0M1397.6 660h0M1399.7 659.8h0M1402.2 660.1h0M1407.9 660h0M1414.4 659.8h0M1416.2 659.7h0M1422.1 659.9h0M1423.4 659.6h0M1471.4 660h0M1475.7 660.4h0M1479.7 659.6h0M1479.9 659.8h0M1480.6 660.3h0M1485 660.3h0M1490.1 659.9h0M1492.5 660h0M1495.3 660.3h0M1499.3 660.5h0M1500.8 660h0M1501.6 660.1h0M1502.3 659.9h0M1503.8 660.2h0M1506.4 660h0M1508.5 659.8h0M1509.3 660h0M1512.1 659.7h0M1518.8 660.5h0M1525.5 659.7h0M1528.4 660.2h0M1533.6 660.5h0M1539.9 659.8h0M1540.3 660.1h0M1541.4 659.7h0M1543.8 659.7h0M1550 660.4h0M1550.9 660.2h0M1551.5 659.6h0M1552.2 659.8h0M1552.3 660.4h0M1552.7 659.6h0M1553.8 660.1h0M1554.4 660.5h0M1558.1 659.6h0M1558.2 659.7h0M1559.2 659.9h0M1561.1 659.7h0M1562.5 659.7h0M1564.9 659.9h0M1568.5 660.3h0M1603.6 660.1h0M1605.1 659.6h0M1606.7 659.8h0M1612 659.8h0M1616.9 659.6h0M1617.2 659.9h0M1659.9 659.6h0M1661.4 660.2h0M1662.9 660.1h0M1665.6 660.3h0M1665.6 660h0M1670.3 659.6h0M1671.3 659.9h0M1671.6 659.7h0M1674.2 660.1h0M1679.3 660h0M1679.7 660.5h0M1680 660.5h0M1682 660h0M1682.2 659.5h0M1689.5 660h0M1691.1 659.5h0M1691.8 659.9h0M1693.5 660.4h0M1696.2 660h0M1700.6 660.2h0M1703.7 660.4h0M1715.7 660h0M1725.1 659.7h0M1726.1 660.1h0M1726.7 660.2h0M1727.9 659.6h0M1730.6 659.8h0M1730.8 660.3h0M1732.1 659.8h0M1739.9 660h0M1744.3 660h0M1808.3 659.5h0M1808.7 660.5h0M1811.3 659.5h0M1811.6 660.2h0M1812.4 659.8h0M1812.7 659.8h0M1812.9 660.1h0M1814.7 659.8h0M1815.9 660.4h0M1824.7 659.9h0M1824.7 660h0M1824.8 659.5h0M1827.7 659.7h0M1828.2 659.5h0M1831.6 659.8h0M1835.4 660.1h0M1377.7 660.5h0M1397.7 660.9h0M1399.4 661.4h0M1409.7 660.7h0M1410.2 660.6h0M1414.3 661.1h0M1415.3 661.1h0M1417.9 660.7h0M1418.6 661h0M1422.9 661.4h0M1481.7 661.4h0M1489.2 661h0M1489.3 660.7h0M1491.7 660.7h0M1496.4 661.5h0M1497.5 660.8h0M1500.2 661.3h0M1500.6 660.6h0M1502.7 660.8h0M1508.2 661.5h0M1508.5 660.9h0M1509.3 660.6h0M1510.9 660.9h0M1511.5 660.6h0M1514.8 660.9h0M1515 660.9h0M1515.3 661.2h0M1515.9 661h0M1516 660.6h0M1517.6 661.3h0M1518.2 661.3h0M1519.2 661.3h0M1520.6 661.1h0M1522.9 660.9h0M1523 661.1h0M1527.9 660.7h0M1532.9 661.1h0M1533.4 661.2h0M1536 660.9h0M1538.2 660.6h0M1540.8 661.1h0M1544.9 661.4h0M1545.1 661.4h0M1546.4 661h0M1546.6 661.2h0M1557.5 661.4h0M1559.4 661.4h0M1564 661.1h0M1603.1 661.2h0M1604.4 660.7h0M1606.1 661h0M1614.9 660.7h0M1665.4 661.1h0M1676.2 660.6h0M1676.3 660.7h0M1677.2 661.2h0M1678.2 661.4h0M1681.2 660.9h0M1681.3 661.3h0M1690.3 661.4h0M1690.6 660.5h0M1690.8 660.9h0M1693.9 661.5h0M1694.5 661h0M1702.3 661.4h0M1704.3 661.3h0M1705.2 660.7h0M1706.3 661h0M1709.2 661.4h0M1712.9 661.3h0M1713.5 661.4h0M1715.3 661h0M1716.8 661.5h0M1716.8 660.7h0M1725.5 661.3h0M1733 660.7h0M1733.4 661.5h0M1734.7 660.8h0M1814.4 660.6h0M1816 661.4h0M1818.9 661.4h0M1820.2 660.6h0M1822.2 661.4h0M1822.7 660.8h0M1825.7 660.6h0M1825.8 661.4h0M1830.8 661h0M1834.4 661h0M1835.2 660.9h0M1837.7 660.8h0M1837.8 661.4h0M1381.5 662.5h0M1387.6 661.6h0M1411.8 661.7h0M1422.6 661.6h0M1423.8 662.4h0M1479.7 661.8h0M1483.4 662.1h0M1488.6 661.9h0M1492.2 661.5h0M1492.6 662.2h0M1494.7 662.3h0M1495.1 661.6h0M1495.1 661.9h0M1495.5 662.2h0M1499.9 661.5h0M1500.6 661.9h0M1504.1 662h0M1507.2 662.3h0M1508.8 661.9h0M1511.7 661.9h0M1513.8 661.6h0M1525 662.3h0M1526.5 661.8h0M1528.6 662.2h0M1532.1 661.5h0M1538.1 662.3h0M1539.4 662.1h0M1541.1 661.7h0M1541.6 661.7h0M1543.7 661.9h0M1543.9 662h0M1548.3 662h0M1548.5 662h0M1552.8 662.2h0M1553.2 662.3h0M1553.6 662h0M1554.8 662.2h0M1557.8 662h0M1560.2 662.3h0M1606.4 661.6h0M1607.2 661.6h0M1616.9 662.4h0M1665.5 662.1h0M1667.5 661.6h0M1671.1 662.1h0M1671.6 661.6h0M1672.4 662.1h0M1677.4 661.9h0M1678.2 662.5h0M1678.2 661.7h0M1680.3 662.1h0M1682.5 662.5h0M1686.6 662.1h0M1687.4 662.3h0M1694.1 662h0M1697.8 662.3h0M1698.3 661.8h0M1700.6 662.4h0M1701.2 661.8h0M1702.3 662.4h0M1702.5 661.5h0M1710.8 662.2h0M1711.8 662.5h0M1720 661.6h0M1720.1 661.7h0M1720.4 661.7h0M1723 662.1h0M1724.1 662h0M1726.2 662.4h0M1728.2 661.7h0M1728.4 661.6h0M1732.9 661.6h0M1735.4 661.9h0M1822.4 662.1h0M1826.1 662.1h0M1829.6 662.2h0M1833.5 661.8h0M1378.6 663h0M1386.7 662.6h0M1397.3 662.6h0M1402.8 662.9h0M1410.2 663.2h0M1412.5 663.1h0M1414.3 663.2h0M1418.5 662.9h0M1421.4 662.9h0M1485.3 663.4h0M1486.9 663.3h0M1487.7 662.5h0M1489.6 662.6h0M1491.6 662.8h0M1493.1 662.7h0M1498.5 662.6h0M1498.7 662.9h0M1499.2 662.6h0M1500.5 663.3h0M1501.4 662.7h0M1501.8 663.1h0M1504.9 663.4h0M1506.8 662.5h0M1507.7 662.7h0M1510.6 663.4h0M1513.5 663.1h0M1516.1 663.1h0M1519.5 663h0M1520.1 663.3h0M1526.9 662.6h0M1529.7 662.9h0M1533.1 663.3h0M1533.4 663.2h0M1540.7 663h0M1540.9 662.7h0M1541.4 662.8h0M1541.6 663h0M1545.2 663.2h0M1548.3 663.4h0M1553.7 662.9h0M1554.6 663h0M1556 663h0M1556.2 663h0M1558 663.3h0M1606.6 662.6h0M1607.2 663.1h0M1607.8 663.3h0M1615.9 663.4h0M1665.5 663.1h0M1665.7 663.3h0M1665.9 663.5h0M1667.4 663.1h0M1667.4 662.6h0M1676 663.2h0M1682.9 662.8h0M1687.2 663.2h0M1697.4 663.3h0M1697.5 663h0M1701.5 663.3h0M1704 663.4h0M1705.2 662.7h0M1705.4 663.1h0M1706.7 662.9h0M1709.1 663.1h0M1709.5 662.6h0M1713.5 663.1h0M1714.5 662.7h0M1715.9 662.5h0M1723.9 662.6h0M1726 663.1h0M1818.9 663.4h0M1829.1 663h0M1829.9 663.2h0M1832.7 662.8h0M1833.4 662.8h0M1384.2 663.6h0M1397.4 663.6h0M1406.2 664.2h0M1407.2 664.2h0M1407.3 664.4h0M1410.3 663.5h0M1422.5 664h0M1427.5 664.3h0M1488.9 663.8h0M1489.7 664.2h0M1490.4 664h0M1492.2 663.7h0M1496.4 664.2h0M1497.3 663.6h0M1498.9 663.8h0M1499.3 664.1h0M1501 663.7h0M1503.3 664h0M1504.1 663.7h0M1506.1 664.1h0M1507.7 664.4h0M1508.9 663.6h0M1514 664.4h0M1516.9 664.2h0M1518 664.1h0M1519.5 663.5h0M1521.4 664.3h0M1522.2 663.8h0M1523.1 664.2h0M1525.5 663.8h0M1528.5 663.8h0M1530.4 663.5h0M1531.5 663.6h0M1536.8 663.7h0M1539.5 664.5h0M1539.9 663.6h0M1543 663.7h0M1549.8 663.7h0M1550.8 664.4h0M1552.8 663.5h0M1556.4 663.8h0M1604.9 663.6h0M1607.7 664.2h0M1608.6 663.7h0M1613.7 663.8h0M1616.4 663.5h0M1616.9 664.3h0M1668.4 664.1h0M1669.2 663.7h0M1672.3 663.5h0M1672.7 663.6h0M1673.4 664.2h0M1677.5 663.6h0M1677.7 663.7h0M1682.8 664.1h0M1682.8 663.8h0M1686.5 664.1h0M1690.6 663.7h0M1693.6 663.9h0M1695.1 664.1h0M1702.5 663.9h0M1702.9 664.1h0M1707.9 664.3h0M1714.2 663.9h0M1714.8 663.9h0M1716.4 664.1h0M1718.4 664.1h0M1723.7 663.7h0M1818.3 663.8h0M1820.2 664h0M1825.3 664.2h0M1826.2 663.6h0M1828.7 664h0M1832.8 664.2h0M1399.9 664.8h0M1405.6 664.9h0M1409.6 664.5h0M1409.6 664.8h0M1410.5 664.5h0M1413.6 664.7h0M1417.2 665h0M1420.5 664.9h0M1422 664.8h0M1423.8 665.1h0M1428.6 665.4h0M1430.5 664.6h0M1489.7 664.8h0M1492.4 664.8h0M1494.7 665.2h0M1495.3 665.5h0M1498.6 664.7h0M1504.4 665.4h0M1505.6 665.3h0M1505.8 664.7h0M1506.3 664.6h0M1507.3 665h0M1509.3 665h0M1509.3 665.3h0M1511.4 664.6h0M1512.5 665.2h0M1516.8 664.9h0M1517.5 665.4h0M1518 665h0M1519.5 664.8h0M1524.9 665.2h0M1525.2 665.3h0M1528.1 665.3h0M1532.3 665.1h0M1535.2 664.9h0M1536.6 664.8h0M1536.8 665.1h0M1537 664.6h0M1538.7 664.6h0M1542.8 665h0M1545.4 665.1h0M1547.1 665h0M1547.7 664.6h0M1550 665h0M1551.4 664.7h0M1551.9 665.4h0M1553.8 664.7h0M1555.9 664.6h0M1603.9 664.7h0M1604.1 664.6h0M1607.1 664.8h0M1609.4 665.2h0M1614.1 665.3h0M1616.7 664.9h0M1616.8 665.3h0M1671.7 664.9h0M1681 664.9h0M1683.3 664.9h0M1683.6 665.3h0M1684.9 664.9h0M1693.5 665.1h0M1694.3 665.1h0M1702.5 665.1h0M1704.5 665.2h0M1704.5 665.4h0M1706.9 665.1h0M1711.3 665.2h0M1713.4 665.1h0M1716.1 664.6h0M1718 664.7h0M1814.5 664.5h0M1818.9 665.4h0M1821.6 665.3h0M1821.8 665.5h0M1822.3 664.7h0M1825.9 664.8h0M1829.1 664.9h0M1830.6 664.9h0M1406.4 666h0M1414.7 665.7h0M1415.4 666.3h0M1416.8 666.3h0M1424.4 666.4h0M1426.2 665.7h0M1427.2 666.1h0M1427.6 666.1h0M1427.8 665.5h0M1431.1 665.7h0M1435.2 666.1h0M1435.3 665.7h0M1498.7 666h0M1503.4 666.5h0M1506.1 666.1h0M1508.4 666.1h0M1511.7 665.6h0M1514.3 665.6h0M1516.7 665.8h0M1517.5 665.8h0M1524.3 666.2h0M1524.7 666.4h0M1527.3 665.5h0M1529.1 665.6h0M1529.9 666.5h0M1535 665.6h0M1536 666.4h0M1536.3 666.4h0M1540.8 666.4h0M1542.4 665.9h0M1543.7 665.8h0M1544.6 665.7h0M1547.1 666.4h0M1547.1 665.8h0M1548.7 665.9h0M1549 666.4h0M1550.1 666.3h0M1550.8 665.6h0M1552.1 666.4h0M1553.8 665.7h0M1554.3 666.1h0M1607.4 665.9h0M1607.6 666.4h0M1613.8 665.8h0M1615.3 666h0M1671.5 666.4h0M1672.5 665.9h0M1674 666.2h0M1680.6 666.2h0M1684.3 666.2h0M1688.1 665.6h0M1688.4 666.4h0M1690 665.9h0M1690.3 665.9h0M1696.8 666.1h0M1698.2 666.2h0M1698.5 665.5h0M1703.2 666.3h0M1703.8 666h0M1710.1 666.1h0M1710.2 666.2h0M1711.1 666h0M1713.9 666h0M1803.1 666.1h0M1805.3 665.6h0M1805.5 665.7h0M1808.7 665.7h0M1814.1 666.1h0M1817.3 665.6h0M1817.5 665.6h0M1818.2 666.2h0M1819.1 665.6h0M1822.6 666.3h0M1824.3 666.2h0M1418.3 666.7h0M1422.2 667.5h0M1428.8 667h0M1431.2 666.8h0M1433.2 667.1h0M1433.2 666.7h0M1434.7 667.4h0M1436.6 667.2h0M1438.7 666.7h0M1439.7 667.4h0M1440.1 667.4h0M1508.1 666.7h0M1510.8 666.7h0M1514.7 667.5h0M1516.1 666.9h0M1517.8 667.1h0M1518.4 667.4h0M1518.9 667.3h0M1519 667.2h0M1519.5 667.4h0M1519.7 666.5h0M1524.2 666.8h0M1525.2 666.5h0M1527 667.4h0M1529 666.8h0M1529.8 667.3h0M1530.1 666.5h0M1531.6 667h0M1531.7 667.4h0M1535.1 667.1h0M1535.4 666.8h0M1538.2 666.8h0M1538.4 667.5h0M1542.5 667.3h0M1542.6 667.1h0M1543.3 666.6h0M1544.6 667.4h0M1544.8 667h0M1551.2 667.4h0M1552.2 667.3h0M1612 667.1h0M1614.7 666.8h0M1674.9 667.3h0M1676.5 666.6h0M1677.4 666.7h0M1678 667h0M1679.2 667.5h0M1680 667.4h0M1682.9 666.7h0M1687.5 666.5h0M1687.7 666.9h0M1688.3 666.6h0M1694 666.6h0M1700 667.2h0M1701.4 666.7h0M1787.1 667.3h0M1791.1 666.9h0M1791.6 667.3h0M1792 667h0M1795.5 667.4h0M1797.3 666.7h0M1798.9 667.3h0M1799 666.7h0M1800.6 667h0M1803 666.9h0M1806.6 667h0M1808.2 667.3h0M1815.1 666.6h0M1815.5 667.3h0M1815.7 667.4h0M1819.2 666.9h0M1821 666.9h0M1821.8 667.3h0M1822.6 667h0M1424.8 668.3h0M1429 668h0M1432.8 668h0M1433.9 668.3h0M1509 667.5h0M1510.7 668.3h0M1511.4 667.7h0M1512.2 667.9h0M1513.3 668.3h0M1513.5 668.1h0M1526.3 668.1h0M1532.5 668h0M1532.8 667.8h0M1542.7 668h0M1545 668.3h0M1545.5 668.4h0M1547.6 668.5h0M1548.6 667.6h0M1607.3 667.9h0M1608.3 667.9h0M1611.1 668h0M1611.4 668.5h0M1612.6 668.1h0M1676.8 668.1h0M1679.5 668.5h0M1680.2 668.2h0M1682.2 668.2h0M1688.2 667.9h0M1688.5 668h0M1690.2 667.8h0M1691.6 667.7h0M1692.8 667.8h0M1779.2 668.5h0M1781.4 668.4h0M1781.4 667.6h0M1782.3 667.7h0M1785.3 667.9h0M1788.7 668.1h0M1790.2 668h0M1790.6 668.1h0M1791.1 667.9h0M1792.3 667.6h0M1793.9 667.7h0M1797 668.2h0M1797 667.5h0M1801.6 668.2h0M1807.3 668h0M1808.7 667.7h0M1816.5 668.3h0M1816.9 668.4h0M1819.6 667.7h0M1820.5 667.8h0M1433.3 668.9h0M1433.6 669h0M1445.3 668.8h0M1521.6 668.8h0M1522.1 668.8h0M1524.1 668.8h0M1525.6 668.8h0M1525.6 669.1h0M1528.9 668.8h0M1531.2 669.2h0M1534.2 669.1h0M1537.9 668.7h0M1538.1 669.4h0M1544.5 669.4h0M1546 668.6h0M1548 668.5h0M1611.6 668.9h0M1613.3 668.8h0M1769.3 669.1h0M1771.7 668.6h0M1773.4 669.3h0M1780.3 669.3h0M1781.3 668.7h0M1785.2 669.1h0M1791.3 668.8h0M1793.5 668.7h0M1794.5 669.2h0M1794.6 668.6h0M1794.9 669.1h0M1796.7 668.9h0M1796.7 668.7h0M1797.4 668.7h0M1802 669.2h0M1806.5 669.4h0M1806.9 668.7h0M1807.3 669.3h0M1811 669.1h0M1812.2 668.7h0M1812.8 669.3h0M1813.7 668.8h0M1816.1 668.6h0M1816.1 668.5h0M1434.5 669.6h0M1434.8 670h0M1434.9 670h0M1435 670h0M1435.7 670.2h0M1436.6 669.5h0M1437.4 669.9h0M1438.8 670.2h0M1442.6 670.4h0M1443.7 669.8h0M1444.9 670.2h0M1447.1 670.3h0M1448.4 670.3h0M1449.8 669.7h0M1450 670.5h0M1524.8 670.5h0M1536.9 670.3h0M1538.5 669.7h0M1543.2 670.3h0M1543.4 670.2h0M1543.7 670.4h0M1544.8 670.5h0M1608.4 669.6h0M1611.3 669.7h0M1765 670.1h0M1766.3 670.4h0M1769.1 670h0M1772.2 669.9h0M1774.6 669.7h0M1776.3 669.8h0M1776.3 669.6h0M1777.2 669.9h0M1777.3 670.2h0M1777.5 670.3h0M1779.4 670.4h0M1783.5 670.1h0M1783.8 669.7h0M1784.2 670.2h0M1785.2 669.9h0M1795 669.5h0M1795.1 670.3h0M1800.1 669.9h0M1807 669.7h0M1434.4 670.8h0M1444.1 671.1h0M1444.8 670.6h0M1446.5 670.5h0M1451.7 670.9h0M1452.8 670.9h0M1453.5 671.3h0M1527.3 670.8h0M1527.3 670.9h0M1531.9 670.5h0M1533 670.6h0M1536 671h0M1538.7 670.6h0M1544.6 670.8h0M1546.3 670.9h0M1769.4 671.2h0M1771.7 670.9h0M1774 670.6h0M1778.4 671.4h0M1778.8 670.6h0M1779.4 670.9h0M1789.8 671.2h0M1796.2 670.9h0M1799.8 670.8h0M1801 670.5h0M1802.8 670.9h0M1802.9 671.3h0M1439.9 672.2h0M1440 671.7h0M1441.1 671.9h0M1441.5 671.9h0M1443.3 671.7h0M1448.8 672.2h0M1449.3 671.6h0M1455.1 671.6h0M1769.8 672.1h0M1776.7 671.9h0M1776.9 672.4h0M1778.8 671.6h0M1782.2 671.9h0M1784.7 672.3h0M1785.6 671.6h0M1789.4 671.5h0M1791.4 671.8h0M1793.8 671.9h0M1444.3 673.5h0M1444.4 673.4h0M1445.7 672.9h0M1447.1 672.7h0M1448.8 673.5h0M1450.8 673h0M1450.9 673.5h0M1455 673.3h0M1459.2 673.2h0M1759 672.5h0M1762.7 673.3h0M1763.7 672.8h0M1764.5 673.3h0M1765.4 673h0M1767.3 673h0M1767.4 673.1h0M1768 672.9h0M1769.1 673.1h0M1770.7 672.7h0M1771.8 673.4h0M1772.5 673.4h0M1774 673h0M1785.8 672.9h0M1788 672.8h0M1443 673.9h0M1443.7 673.7h0M1445.1 673.9h0M1445.3 673.7h0M1452.4 673.7h0M1459.1 674.1h0M1461.6 673.8h0M1462.2 673.8h0M1759.2 673.6h0M1765.9 674h0M1768.9 674h0M1769.1 673.5h0M1771 674.4h0M1771.7 673.8h0M1772.1 673.6h0M1774.9 673.9h0M1448.9 675.5h0M1453.6 675.1h0M1454.8 674.9h0M1454.9 674.7h0M1458.4 674.5h0M1463.7 675.3h0M1753.1 675.1h0M1754.5 674.5h0M1755 674.8h0M1756 675.4h0M1756.9 675.3h0M1761.8 675.1h0M1762.9 674.6h0M1453.5 676.5h0M1454 676.5h0M1455.2 675.8h0M1457.4 675.9h0M1457.7 675.7h0M1458.6 675.7h0M1460.8 675.7h0M1464.3 675.6h0M1749.4 676.4h0M1752.1 675.9h0M1759.8 675.9h0M1764.2 676.4h0M1457 677h0M1464.2 676.9h0M1464.5 677.2h0M1466.2 677h0M1468.9 677h0M1746.1 677.1h0M1747.7 676.8h0M1748.2 677.4h0M1748.7 677h0M1750.5 676.6h0M1751.7 677.2h0M1751.8 676.9h0M1753.4 676.7h0M1753.6 677.2h0M1756.9 677.3h0M1457.6 677.7h0M1463.1 678.2h0M1465.9 678h0M1468.2 677.7h0M1468.3 677.7h0M1470.9 677.8h0M1471.7 678h0M1744.5 678.3h0M1748 677.8h0M1756 678.4h0M1757.8 678h0M1758 677.6h0M1759.1 678.3h0M1760.2 677.6h0M1461.9 679.4h0M1464.5 678.6h0M1470.7 678.9h0M1742.4 679.1h0M1743.4 679.5h0M1743.9 679.1h0M1745.3 678.8h0M1747.4 679.2h0M1749.1 678.5h0M1751.3 678.9h0M1751.9 679.2h0M1754.1 678.9h0M1755.7 678.8h0M1468.1 679.6h0M1470.2 680h0M1470.2 679.8h0M1473 680.4h0M1474.5 679.7h0M1475 680.5h0M1739.7 680.3h0M1740.9 680.2h0M1741.6 679.6h0M1742.6 679.6h0M1742.7 679.5h0M1743.6 680h0M1745 680.1h0M1745.3 679.7h0M1747 680.5h0M1747.9 680.3h0M1748.5 680.4h0M1752.1 680.2h0M1752.3 680h0M1752.6 680.3h0M1753.9 680.3h0M1754.6 679.5h0M1465.1 680.9h0M1467.3 680.9h0M1468.4 681.2h0M1468.8 680.6h0M1471.8 680.9h0M1474.8 681.4h0M1476.3 681.1h0M1739.2 681.2h0M1745.9 681h0M1746.5 681.3h0M1749.6 680.8h0M1750.8 681.5h0M1751.1 681.4h0M1470.4 682.3h0M1477 681.8h0M1736 681.6h0M1738.7 682.3h0M1739.1 681.7h0M1740.7 681.5h0M1473.7 683.4h0M1473.9 683.3h0M1475.7 682.7h0M1477.7 683.2h0M1478.1 683.2h0M1478.9 682.6h0M1482.1 683.3h0M1733.4 683.3h0M1734 682.6h0M1736.9 682.9h0M1738.4 682.9h0M1741.4 682.7h0M1742.8 682.9h0M1743.3 682.9h0M1743.3 682.8h0M1743.9 683h0M1744.6 683h0M1744.8 682.6h0M1472.7 683.7h0M1483 683.8h0M1730.6 684.3h0M1732.8 684.4h0M1733.3 684.4h0M1733.7 683.8h0M1733.8 683.7h0M1738.7 684.3h0M1739 683.8h0M1742.7 684.2h0M1476.5 684.6h0M1478.5 685.1h0M1482.5 685.3h0M1487.9 685.2h0M1731.5 685.2h0M1732.5 684.6h0M1738.9 685.2h0M1740.3 685.4h0M1741.3 685.1h0M1741.3 685h0M1741.4 685.3h0M1477.9 685.8h0M1481.2 686.2h0M1484.4 685.6h0M1485.1 685.7h0M1486.9 685.8h0M1487.9 685.7h0M1488.3 686.4h0M1730.9 686.3h0M1733.4 686.1h0M1737.7 685.7h0M1738.1 685.6h0M1739.6 685.8h0M1479.1 687.1h0M1481.5 687.3h0M1482.2 687h0M1484.8 686.7h0M1488.5 687.4h0M1489.3 686.9h0M1490.1 687h0M1490.3 687.1h0M1725.3 687h0M1730.7 686.8h0M1732 686.5h0M1737.1 686.7h0M1480.4 687.9h0M1481.9 688.1h0M1482.2 688.5h0M1482.9 688.3h0M1482.9 688h0M1483.6 687.5h0M1488.7 687.5h0M1489.2 687.5h0M1490.2 688h0M1490.7 688h0M1492.7 688.3h0M1723.6 688.5h0M1725.2 687.9h0M1728.8 688h0M1730.5 687.5h0M1481.6 688.7h0M1484 689.4h0M1486.1 689.2h0M1486.3 689.4h0M1489.8 689.4h0M1489.9 688.6h0M1495.2 689.1h0M1497.7 689.4h0M1719.1 689h0M1721 689.4h0M1721.8 689.2h0M1723.2 689.1h0M1723.8 688.6h0M1725.3 688.9h0M1725.3 689.2h0M1726 688.9h0M1727.2 689.4h0M1728.1 689.2h0M1728.2 688.7h0M1728.7 689.3h0M1731.1 688.7h0M1731.4 688.8h0M1485.6 690.2h0M1487.4 690.5h0M1487.9 689.5h0M1490.1 690.4h0M1495.4 689.7h0M1498.4 689.6h0M1721.4 690.4h0M1727.6 690.3h0M1728.5 689.6h0M1729.3 690h0M1490.8 691.2h0M1491.5 690.8h0M1493.4 691.3h0M1496.2 690.9h0M1498.7 690.8h0M1500.9 691h0M1502.1 690.8h0M1502.3 690.8h0M1718 691.1h0M1721.8 691h0M1723.7 690.9h0M1724.7 690.6h0M1490.6 692.4h0M1490.7 692.4h0M1491 692h0M1492.3 691.6h0M1499.9 692.1h0M1500.1 691.9h0M1501.5 692h0M1503.8 691.6h0M1503.9 692.4h0M1504.5 692.4h0M1504.9 691.6h0M1713.8 691.9h0M1715.8 692.4h0M1716.2 691.7h0M1716.6 691.7h0M1721.9 691.9h0M1725.2 692h0M1495.9 693.3h0M1498.9 692.6h0M1498.9 692.6h0M1500.8 692.9h0M1502 693.2h0M1506.9 693h0M1712.9 693.3h0M1720.2 692.8h0M1721.2 692.5h0M1723.2 693.4h0M1723.5 693.3h0M1724.4 692.8h0M1496.5 693.9h0M1498.3 694.2h0M1504.5 693.8h0M1504.9 693.5h0M1510.4 694.5h0M1711.6 693.6h0M1711.9 693.6h0M1712.4 693.8h0M1713 694.4h0M1715.8 693.6h0M1716.9 694.1h0M1718.3 694.4h0M1720.2 693.9h0M1498.3 694.8h0M1498.7 694.6h0M1502.8 695.2h0M1506.1 695.1h0M1510.3 694.9h0M1706.6 695.2h0M1716.1 695.4h0M1716.3 694.8h0M1716.5 694.5h0M1717 695.3h0M1717.7 694.6h0M1503.3 695.8h0M1504 696.2h0M1504.6 695.6h0M1514.6 695.6h0M1703.8 695.8h0M1706.1 696.4h0M1706.3 695.9h0M1706.6 696.1h0M1707.5 696.4h0M1503.5 696.7h0M1505.4 696.7h0M1506.4 696.6h0M1511 697.4h0M1517 696.7h0M1517.1 696.5h0M1698.6 697.3h0M1702.6 697.2h0M1705.3 696.6h0M1709.3 696.8h0M1711.6 696.7h0M1712.6 696.7h0M1713.6 696.5h0M1505.8 697.5h0M1507.6 697.7h0M1512.4 698h0M1513.3 697.8h0M1513.5 698h0M1516.5 698h0M1517.8 697.6h0M1519.4 698.4h0M1696.1 698.2h0M1697.5 698.1h0M1700 697.5h0M1700.6 697.8h0M1701 697.6h0M1702.9 698.1h0M1706 697.7h0M1710.3 698h0M1712.6 697.8h0M1509.7 699h0M1510.9 699.5h0M1515.6 699h0M1523.9 699.3h0M1694.5 699.4h0M1696.1 699.4h0M1701.5 699.3h0M1701.8 698.7h0M1706 699.1h0M1514.8 699.5h0M1515 700.4h0M1516 699.8h0M1516.4 699.7h0M1519.6 699.8h0M1524.5 700.3h0M1524.8 700.2h0M1694.5 700.4h0M1697.2 700.5h0M1701.1 700.3h0M1701.3 699.7h0M1701.9 700.1h0M1702.9 699.8h0M1703 700h0M1705.3 700.1h0M1515.8 700.5h0M1517 701.4h0M1519.1 701.1h0M1519.9 701.4h0M1522.6 701h0M1524.9 701.3h0M1526.3 700.8h0M1528.7 700.5h0M1529.5 700.7h0M1689.5 700.6h0M1689.6 700.9h0M1691.7 700.6h0M1693.5 701.2h0M1694.3 701.1h0M1694.8 700.6h0M1696.5 701.2h0M1700.3 701h0M1702.1 700.5h0M1521.8 702.1h0M1524.9 701.7h0M1525.1 701.6h0M1529.3 702.2h0M1529.3 701.7h0M1533.3 701.9h0M1534.7 702.2h0M1686.9 701.6h0M1687.5 701.9h0M1687.8 701.7h0M1692.4 702.3h0M1693.9 702.3h0M1694 701.6h0M1694.8 701.7h0M1701.3 701.7h0M1525.6 703.4h0M1527.3 703.2h0M1527.6 702.8h0M1529.6 703h0M1531.4 702.5h0M1531.5 703.5h0M1540.3 703.4h0M1681.8 703.1h0M1684.9 703.2h0M1685.2 703h0M1688.3 702.7h0M1688.6 702.8h0M1690.8 703.1h0M1695.1 702.8h0M1695.4 703.2h0M1522.8 704.4h0M1523 704.4h0M1523.5 703.8h0M1524.8 703.9h0M1535.4 704.1h0M1536.6 704.1h0M1537 704.2h0M1539.2 703.6h0M1541.9 703.6h0M1687.4 704.5h0M1688 704.5h0M1688.1 703.9h0M1688.9 703.6h0M1689.1 703.7h0M1689.9 703.6h0M1691.3 703.8h0M1691.5 704.1h0M1691.9 704.5h0M1693.2 704.5h0M1694.2 704.3h0M1527.5 705h0M1531.3 705.1h0M1538.4 705.2h0M1539.4 704.6h0M1540.7 705.3h0M1540.9 705h0M1542.3 705.3h0M1542.8 704.7h0M1547.3 705.5h0M1550.4 705.4h0M1550.6 705.4h0M1553.7 705.1h0M1560.1 705h0M1561 704.9h0M1563.3 704.9h0M1563.4 704.9h0M1567.2 705h0M1567.6 704.9h0M1570.4 704.9h0M1570.7 704.9h0M1572 704.9h0M1572 705.3h0M1573.5 704.7h0M1573.7 704.6h0M1575.2 704.6h0M1580.1 705.2h0M1580.5 705.3h0M1582.2 705.4h0M1582.6 705.2h0M1585.9 704.9h0M1586.5 705h0M1590.3 705.1h0M1594.3 705.2h0M1595.1 704.6h0M1596.2 704.5h0M1596.3 704.8h0M1599.8 705.4h0M1600.7 704.5h0M1601.6 705.3h0M1601.9 704.5h0M1603.8 705.3h0M1604.2 705.2h0M1607.2 704.5h0M1610.7 704.9h0M1611.9 705h0M1612.1 705h0M1628.6 705.5h0M1630.9 705.3h0M1634.1 705.2h0M1637.6 705.5h0M1641.8 704.7h0M1642.4 705.3h0M1643.7 705.3h0M1652.2 705.2h0M1653.5 705h0M1653.7 705.1h0M1654.1 705.2h0M1665.7 705.1h0M1671.3 704.6h0M1671.7 704.8h0M1672.1 705h0M1672.2 705.2h0M1679.9 704.7h0M1680.5 705.3h0M1681.3 705.1h0M1683.8 705.1h0M1685.5 705h0M1685.9 705.3h0M1688.8 705.4h0M1688.8 704.5h0M1693.8 704.6h0M1527.6 706.2h0M1527.8 705.8h0M1528.3 706.4h0M1541.5 706h0M1541.6 706.3h0M1545.5 705.5h0M1547.3 705.5h0M1550.9 705.6h0M1557 705.9h0M1561.7 706h0M1565.2 705.6h0M1565.4 705.8h0M1566 706.3h0M1566.3 705.7h0M1567.6 705.8h0M1567.9 705.5h0M1567.9 706.2h0M1568.7 706.3h0M1570.2 706.4h0M1576 706.4h0M1576.1 706.3h0M1576.7 706.1h0M1580.2 705.8h0M1582.6 706.1h0M1582.8 706.1h0M1582.9 705.7h0M1584.7 705.6h0M1591.1 706.2h0M1592.9 706.3h0M1593.7 705.6h0M1600.5 706h0M1601.8 705.8h0M1603.4 706.2h0M1606 705.9h0M1613.2 706.3h0M1614.8 706.3h0M1615.6 706.3h0M1619.1 706.1h0M1620.6 706.3h0M1621.3 706.1h0M1624.5 705.8h0M1624.8 705.6h0M1627.4 705.7h0M1628.2 706.1h0M1628.9 705.9h0M1634.5 705.8h0M1635.7 706h0M1636.2 705.7h0M1638.2 705.8h0M1640.2 706.4h0M1640.8 706.4h0M1642.5 705.5h0M1645.3 706.2h0M1646.6 705.9h0M1647.9 705.7h0M1648.4 705.7h0M1652 705.6h0M1652.5 706.3h0M1653.2 705.7h0M1653.8 705.9h0M1655.5 706.4h0M1657.1 706.2h0M1658 706.1h0M1658.7 705.7h0M1662.1 706.5h0M1663.5 706.5h0M1664.4 706.4h0M1664.6 705.8h0M1665.6 705.8h0M1665.9 706.2h0M1669.1 706.2h0M1670.1 706.3h0M1673.6 706h0M1674.9 706.3h0M1677 706.3h0M1682.4 705.6h0M1683.9 705.7h0M1533.8 707h0M1534.8 706.8h0M1536.6 706.5h0M1545.7 707.1h0M1547.1 706.7h0M1547.2 706.8h0M1548 707.2h0M1548.7 707.1h0M1553.3 706.7h0M1554.6 706.7h0M1562.6 707h0M1562.8 707h0M1563.8 706.6h0M1564.8 707h0M1565.4 706.7h0M1566.4 707.4h0M1567 706.6h0M1567.1 707.2h0M1568.4 706.7h0M1569.1 707.2h0M1569.6 707.2h0M1571.4 707h0M1573.4 706.9h0M1574.6 706.7h0M1576.4 707h0M1576.9 706.9h0M1577.3 706.6h0M1577.3 707.3h0M1577.7 707.2h0M1579.4 706.8h0M1581.6 707h0M1582 707.3h0M1583.2 707.3h0M1590.2 707.4h0M1591.6 707.2h0M1593.8 706.8h0M1595.6 707.2h0M1597.6 707.1h0M1598 707.3h0M1604.2 706.5h0M1604.8 706.6h0M1605.4 706.5h0M1610.1 707h0M1624.2 707h0M1625.4 707.1h0M1632.4 706.6h0M1637.7 707.2h0M1640.4 707.1h0M1640.5 706.6h0M1641 707.4h0M1641.1 707.4h0M1641.9 706.9h0M1644.2 707.3h0M1647.8 707.4h0M1652.8 707h0M1657.3 706.6h0M1659.6 707h0M1661 706.5h0M1664.7 707.2h0M1669.1 706.9h0M1674.2 706.8h0M1680.6 707.4h0M1683.1 707.2h0M1686.8 707.5h0M1534 707.6h0M1535.4 707.7h0M1536.5 707.9h0M1548 708h0M1548 707.9h0M1552.9 708.1h0M1559.6 708.1h0M1561.6 707.8h0M1562.3 708h0M1564.3 708.1h0M1565.4 708.3h0M1565.4 707.9h0M1566.7 707.8h0M1569.8 708.1h0M1571.5 708h0M1572.5 708.1h0M1573.8 708.4h0M1574.3 707.6h0M1578 707.5h0M1578.9 708.5h0M1578.9 707.6h0M1582.6 708.3h0M1583.2 708h0M1586.7 707.9h0M1587.9 707.8h0M1588.9 707.6h0M1593.5 707.7h0M1593.7 708.2h0M1597.2 708.5h0M1599 708h0M1602.1 708.3h0M1604.8 708.3h0M1605.8 708.1h0M1608 708.2h0M1609.8 707.6h0M1610 707.6h0M1613 707.8h0M1617 707.5h0M1617.7 708.2h0M1620.9 707.6h0M1625 707.7h0M1631.9 708.1h0M1632.4 708.1h0M1632.5 708.2h0M1638.9 708.1h0M1639.4 707.6h0M1645.7 708.1h0M1652.6 707.9h0M1653.4 708.5h0M1654.6 708.5h0M1654.9 707.6h0M1661.9 708.3h0M1665.3 708.1h0M1671.2 708.3h0M1671.4 707.6h0M1673.5 707.8h0M1674.2 707.5h0M1684.5 707.8h0M1538.6 709h0M1551 709.4h0M1551.2 708.8h0M1557.1 709.5h0M1559.2 709h0M1561.8 709.1h0M1563.2 709h0M1564.2 709.4h0M1565.7 708.5h0M1572.4 709.2h0M1575.9 708.5h0M1577.1 709.1h0M1579.6 709.4h0M1582 708.8h0M1583.8 709.1h0M1586.1 708.9h0M1589.6 708.8h0M1591.3 709.3h0M1593 708.5h0M1596.3 709.3h0M1598 709.3h0M1600.2 708.7h0M1600.6 708.8h0M1601.8 709.2h0M1606.2 708.7h0M1607.8 709.4h0M1608.2 708.7h0M1609.4 709.2h0M1615.5 709.1h0M1616.2 709.3h0M1616.4 708.9h0M1617.7 709.4h0M1621.4 709.1h0M1622.5 708.6h0M1629.1 708.7h0M1631.9 708.6h0M1633.7 709.4h0M1634.4 709h0M1634.5 708.5h0M1634.9 709.3h0M1637.6 708.9h0M1640.4 709.3h0M1641.5 708.8h0M1648.5 708.9h0M1649.9 709.1h0M1654 709.1h0M1664.4 709h0M1668.6 709.1h0M1668.9 709.3h0M1676.3 708.6h0M1678.3 709.4h0M1680.4 708.9h0M1680.8 708.9h0M1543.9 710h0M1546.5 710h0M1551.6 709.6h0M1554.3 710.2h0M1556 710.3h0M1556.5 709.6h0M1556.9 710.4h0M1567.9 710.4h0M1573.6 709.7h0M1573.8 709.7h0M1574 710h0M1577.6 709.7h0M1580.1 709.6h0M1582 710.4h0M1582.8 709.9h0M1585.8 710h0M1587.3 709.8h0M1588 710.1h0M1589.7 710.1h0M1590.7 710.4h0M1591.7 710.3h0M1592.4 710.2h0M1592.8 709.9h0M1593 710h0M1593.4 709.9h0M1593.4 710.2h0M1597.1 710.4h0M1598.5 709.7h0M1601.5 709.7h0M1607.4 710.5h0M1608.6 709.6h0M1610 710.5h0M1612 710h0M1619.2 710.4h0M1619.7 709.9h0M1620.4 710.3h0M1620.5 710.3h0M1622.3 709.8h0M1624.3 709.7h0M1628.7 710h0M1629.2 710.2h0M1629.3 710.4h0M1632.8 709.6h0M1636.8 709.6h0M1642.2 709.9h0M1645.7 709.7h0M1648.6 709.7h0M1651.3 709.8h0M1654.6 710.5h0M1655.2 709.8h0M1657.4 710.4h0M1657.7 710h0M1658.6 709.7h0M1659.6 710h0M1660.6 710.1h0M1660.9 710.4h0M1668.4 710.4h0M1668.7 709.8h0M1668.7 709.6h0M1671.5 710.3h0" stroke="#bebebe" stroke-width="3.1" stroke-linecap="round" fill="none"/>
<path d="M1169.6 419.7h0M1230.6 419.7h0M1564.3 419.7h0M1583.6 422.5h0M1585.7 426h0M1583.4 428.4h0M1586 427.8h0M1591.5 429.7h0M1587.6 430.9h0M1584 432.1h0M1583.5 432.8h0M1585.5 436.1h0M1590.8 435.7h0M1589.2 436.6h0M1590.5 436.9h0M1573 439h0M1586.1 440.3h0M1589.9 440.1h0M1572.7 442.1h0M1584 441.9h0M1588.1 441.8h0M1589.4 442.4h0M1580.8 442.7h0M1592.4 442.8h0M1255.2 445.2h0M1581 445h0M1586.8 444.9h0M1588.2 446.3h0M1580.9 447.2h0M1577.8 449.1h0M1582.9 449.3h0M1589.9 449.2h0M1581 450.7h0M1581.4 450.7h0M1582.1 453.5h0M1590.6 452.6h0M1591.5 453.5h0M1592.4 453.6h0M1586.2 455.5h0M1588.3 454.8h0M1591.2 455.4h0M1574.9 455.6h0M1583.3 456.3h0M1584.4 456.5h0M1592.8 456.4h0M1580 456.9h0M1580.7 457.2h0M1589.3 457.5h0M1589.7 457.1h0M1590.9 457h0M1592 457.7h0M1584.3 458.6h0M1586 459.4h0M1590.7 458.9h0M1582.9 459.8h0M1583 460.2h0M1586.5 461h0M1588.5 461.1h0M1590.6 461.3h0M1574.1 461.6h0M1589.7 462.1h0M1574.2 462.7h0M1584.5 462.5h0M1590.5 463.3h0M1578.5 463.9h0M1589 463.6h0M1587.1 464.5h0M1589.2 465h0M1590.5 466.4h0M1582 467.1h0M1593.3 467.1h0M1587.5 468.4h0M1592.2 468h0M1317.6 469.3h0M1581.5 468.9h0M1586.5 469.1h0M1588 469.6h0M1588.6 469.9h0M1588.7 470.2h0M1566.6 472.4h0M1588.2 472.3h0M1258.9 472.7h0M1593.8 473.2h0M1310.2 475h0M1588.6 475.3h0M1579.2 476.4h0M1589.8 475.7h0M1591.8 476.9h0M1592.4 477.5h0M1593.9 477.7h0M1580.8 479h0M1585.6 479.4h0M1586.3 478.8h0M1587.3 479.3h0M1590.7 479.1h0M1577.8 480.3h0M1579.9 479.9h0M1580.1 480.1h0M1591.9 479.9h0M1572.1 482h0M1585.2 481.8h0M1590.4 482.4h0M1591 482h0M1580.7 482.9h0M1584.3 483.5h0M1590.6 482.7h0M1591.2 482.8h0M1592.4 483.4h0M1594.5 483.2h0M1579.5 483.7h0M1581.8 484h0M1591.1 484.4h0M1593.5 483.6h0M1575.6 485.6h0M1589.9 486.4h0M1590 485.9h0M1592 485.8h0M1583.5 486.9h0M1593.3 486.6h0M1335.5 488h0M1591.2 487.8h0M1591.9 488.4h0M1591.3 488.9h0M1315.6 490h0M1575.6 489.6h0M1583.7 490.4h0M1591.1 490.2h0M1591.5 490.4h0M1592.6 490h0M1580.4 491.2h0M1593.9 490.6h0M1594.5 491.4h0M1586 492h0M1589.5 492h0M1589.7 492.4h0M1592.4 492.4h0M1592.5 493.5h0M1592.9 492.9h0M1279.3 494.3h0M1590 493.9h0M1591.2 494.4h0M1592.6 493.5h0M1594.7 494h0M1586.2 494.8h0M1591.9 494.8h0M1588.4 495.9h0M1591.8 496.2h0M1575.8 496.9h0M1586.1 497h0M1587.2 496.7h0M1588.1 497.5h0M1591.2 497.4h0M1588.6 498.2h0M1543.3 499.1h0M1582.7 499.2h0M1585.2 499.5h0M1593.7 498.9h0M1594.4 499.3h0M1579.1 500.5h0M1587.5 500.3h0M1588.4 499.5h0M1590.6 500.5h0M1593.9 499.7h0M1585.5 500.8h0M1574.9 501.7h0M1587.3 501.9h0M1590.9 502.4h0M1592.3 501.8h0M1593.7 502.3h0M1586.5 502.8h0M1591.1 502.9h0M1591.8 502.9h0M1593.3 502.5h0M1579.3 503.6h0M1587.1 503.7h0M1587.9 504.5h0M1588.9 504.4h0M1590.4 503.6h0M1298.6 505h0M1591 504.8h0M1591.8 505.2h0M1594.2 505.4h0M1577.1 505.5h0M1590.7 505.6h0M1587.5 507.1h0M1341.2 507.6h0M1584.8 507.9h0M1591.3 507.9h0M1593.4 508.1h0M1595.1 507.7h0M1588.5 508.9h0M1590.7 509.2h0M1593.4 508.6h0M1341.7 509.9h0M1581.8 510.1h0M1585.9 509.7h0M1591.3 509.6h0M1593 509.9h0M1593.4 510h0M1594.2 510.3h0M1589.1 511.3h0M1591.8 511.3h0M1587.4 512.4h0M1591.4 512.2h0M1591.7 511.5h0M1593.4 512.2h0M1581.5 512.6h0M1584.2 512.8h0M1583.3 513.7h0M1429.9 514.7h0M1592.7 514.6h0M1593.1 514.6h0M1595.2 515.1h0M1586.8 516.1h0M1588.5 515.6h0M1549.5 516.7h0M1579.9 517h0M1581.6 517h0M1583.4 517.5h0M1589.4 517.2h0M1591.8 516.8h0M1594.1 517h0M1593.1 517.8h0M1563.2 518.7h0M1578.4 519.4h0M1577.5 520.1h0M1582.3 519.9h0M1586.4 519.5h0M1592.9 520.4h0M1591.5 521.1h0M1593.3 520.7h0M1570.3 522.2h0M1586 521.6h0M1593 522.1h0M1595.7 522.3h0M1596 521.6h0M1581.4 523h0M1583.4 523.2h0M1590.8 523.4h0M1591 523h0M1592.9 522.8h0M1594.2 522.8h0M1575.3 524.5h0M1583 523.9h0M1589 523.7h0M1595.6 523.6h0M1587.3 524.6h0M1587.4 524.5h0M1588.7 525.3h0M1589.6 524.5h0M1590.1 525.2h0M1593.6 524.6h0M1594.6 524.6h0M1588.2 526.2h0M1590.4 526.2h0M1591.1 525.6h0M1595 525.9h0M1579.1 527.3h0M1584.2 526.5h0M1587.2 527h0M1593.1 526.6h0M1593.8 527.3h0M1594.6 527h0M1594.9 526.9h0M1593.6 527.9h0M1595.1 527.9h0M1595.8 528.1h0M1579.3 529.3h0M1583.8 528.8h0M1592.1 528.6h0M1592 530.3h0M1582.3 531.3h0M1594.3 530.9h0M1562.2 532.5h0M1582.3 532h0M1585.8 531.8h0M1591.5 532.4h0M1592.2 531.6h0M1592.7 532.4h0M1570.5 532.6h0M1576.9 533.2h0M1594.7 533.4h0M1587.2 533.6h0M1590.1 534.3h0M1594.9 534.1h0M1596.6 533.9h0M1582.9 534.9h0M1552.4 535.6h0M1582.8 536h0M1585.6 536.2h0M1593.1 535.6h0M1594.9 535.6h0M1595.2 535.7h0M1596.9 536h0M1582.6 537.4h0M1583 537.4h0M1588.5 536.5h0M1590.4 536.9h0M1593.1 537.1h0M1595.9 537.5h0M1582.7 538.2h0M1587.3 538.3h0M1591.9 538.1h0M1592.8 538.1h0M1594.9 537.6h0M1595.2 537.6h0M1567.4 539.1h0M1584.7 539h0M1588.5 538.9h0M1589.1 538.6h0M1595.1 538.5h0M1575.4 540.3h0M1589.3 539.8h0M1593.7 540.2h0M1576.6 541.2h0M1586.9 541.2h0M1592.8 540.5h0M1568.8 541.6h0M1572 541.7h0M1579.5 541.7h0M1590.4 542.2h0M1595.1 542.1h0M1595.6 541.7h0M1596.6 541.5h0M1359.6 543.3h0M1583.8 543h0M1595.9 542.8h0M1534.8 543.6h0M1589.6 543.7h0M1596.7 543.9h0M1330.4 545h0M1364.4 545.3h0M1584.5 545.3h0M1588.5 545.1h0M1595.6 544.7h0M1550.6 545.9h0M1579.7 546.3h0M1583.9 545.9h0M1588.7 546h0M1589.3 546h0M1589.6 545.5h0M1591.4 545.9h0M1593.5 545.9h0M1593.8 545.6h0M1595.7 546.3h0M1585.4 546.7h0M1591.9 546.6h0M1551.5 547.8h0M1580.2 547.8h0M1581.6 548.2h0M1592.8 547.8h0M1578.8 548.6h0M1583.7 549h0M1589 548.6h0M1591.3 549.4h0M1563.2 550.1h0M1581.1 549.6h0M1582 549.7h0M1584.1 550.3h0M1591.5 549.9h0M1592.2 550h0M1594.1 549.6h0M1386.5 550.7h0M1590.7 550.9h0M1591.6 551h0M1592.8 551.4h0M1593.7 551.4h0M1594.7 551h0M1596.9 551.1h0M1333.2 552.1h0M1346.8 551.5h0M1584.2 552.3h0M1588.7 552.1h0M1597 552.3h0M1569.3 552.9h0M1572.3 552.5h0M1586.3 553.4h0M1588.3 552.8h0M1592.6 553h0M1326.7 553.5h0M1428.5 554.1h0M1589.1 553.6h0M1589.5 554.2h0M1590.5 554.1h0M1591.4 553.5h0M1592.1 554.4h0M1592.3 553.7h0M1593.1 553.6h0M1336.3 555.2h0M1352.5 555.2h0M1396.4 555.2h0M1572.6 554.6h0M1587.4 555.4h0M1588.5 555.3h0M1591 555.5h0M1594.9 554.6h0M1583 555.9h0M1592.2 556.3h0M1593.9 555.7h0M1555.8 557.2h0M1582.2 556.6h0M1585.4 557h0M1586.7 556.7h0M1587 556.7h0M1588.9 557.1h0M1593.7 556.6h0M1594.4 557.2h0M1579.3 558.3h0M1225.5 559.2h0M1579.7 559.3h0M1586.5 558.7h0M1588.9 559.2h0M1594.6 558.9h0M1596.8 558.7h0M1577.2 560.2h0M1584.5 560.4h0M1589 559.9h0M1591.6 559.8h0M1594.1 560h0M1594.5 559.7h0M1596.6 559.6h0M1434.1 560.9h0M1574.1 561.3h0M1584 561.2h0M1586.7 560.6h0M1591.1 561h0M1591.9 561.1h0M1596.4 560.7h0M1596.5 561.2h0M1582.6 562.2h0M1588.2 561.9h0M1588.9 562.4h0M1588.9 561.8h0M1593.6 562.2h0M1594.8 562.3h0M1381.4 562.9h0" stroke="#0433ff" stroke-width="3.3" stroke-linecap="round" fill="none"/>
<path d="M1658.5 304.5h0M1633.5 420h0M1638.4 420h0M1639.7 420h0M1642.3 420h0M1645 420h0M1656.1 420h0M1660.2 420h0M1660.3 420h0M1661 420h0M1662.4 420h0M1673.2 419.8h0M1736.4 419.8h0M1740.3 419.8h0M1746.7 419.8h0M1758.8 419.8h0M1775.7 422.6h0M1956.5 422.6h0M1637.6 425.4h0M1634.8 426.3h0M1635.4 426.3h0M1636.6 426.3h0M1640.9 426.3h0M1643.4 426.3h0M1650.9 426.3h0M1658.8 426.3h0M1660.3 426.3h0M1660.5 426.3h0M1664.6 426.3h0M1635.7 426.9h0M1652.7 426.6h0M1630.4 427.7h0M1636.4 428h0M1676 428.2h0M1639.9 429.1h0M1660 429.3h0M1639.7 430.6h0M1641.4 431h0M1671.1 430.6h0M1639.4 431.6h0M1708.8 431.6h0M1940.5 431.6h0M1632.1 433.4h0M1653.7 432.6h0M1646.7 433.8h0M1633 435.5h0M1641.9 435h0M1654.1 435.4h0M1633.1 435.8h0M1633.2 435.8h0M1634.2 436h0M1637.8 436.4h0M1639.5 435.8h0M1642.6 435.8h0M1646.8 435.8h0M1652.3 435.8h0M1652.4 435.8h0M1653.8 435.8h0M1655.6 435.8h0M1664.5 435.8h0M1634.7 436.8h0M1636.8 436.8h0M1636.9 437.1h0M1640.7 437.2h0M1648.4 437.8h0M1661.8 437.6h0M1628.8 438.9h0M1645.8 439.2h0M1635.2 440.5h0M1656 439.5h0M1634 440.7h0M1672.6 441.4h0M1633.1 441.8h0M1630.4 443h0M1633.1 443.1h0M1632.2 443.6h0M1635.3 443.6h0M1669.9 444.4h0M1640.6 445.3h0M1642.6 445.4h0M1647 444.9h0M1651.1 445.5h0M1634.1 447.8h0M1640.6 447.8h0M1642.2 447.8h0M1652.1 448.5h0M1634 449.1h0M1638.1 449.1h0M1629.6 450h0M1633.2 449.6h0M1656.6 450.3h0M2017.7 449.9h0M1644.8 450.8h0M1666.1 451.3h0M1671 450.7h0M1628.7 451.9h0M1629.6 451.9h0M1632.8 452.3h0M1636.1 452.5h0M1636.8 451.8h0M1648.7 451.9h0M1634.9 452.7h0M1638.5 453.4h0M1644.2 453.8h0M1645.4 454.2h0M1648.6 453.6h0M1631 455.1h0M1632 454.6h0M1632.5 455.2h0M1634.2 454.7h0M1634.6 455.3h0M1661.8 454.8h0M2002.9 455.5h0M1633.8 456.5h0M1637.4 455.8h0M1649.8 456h0M1649.8 456h0M1642.3 456.7h0M1681.8 456.7h0M1645.5 457.8h0M1653 457.9h0M1653.8 458h0M1654.2 457.8h0M1631.2 459.1h0M1636.5 458.9h0M1643.1 459.5h0M1979 459.1h0M1635.9 460.3h0M1638.1 459.5h0M1639 460.1h0M1649.5 459.9h0M1668.8 460.3h0M1629.6 461.1h0M1635.7 461.4h0M1637.8 461.4h0M1630.7 462.4h0M1633.1 462.5h0M1644.4 462.2h0M1646.2 462.5h0M1650.9 461.5h0M1663.3 461.6h0M1635.2 463.3h0M1642.4 463.4h0M1643.4 462.6h0M1646.6 462.7h0M1649.7 463h0M1661 462.6h0M1633.1 464.5h0M1636 464.3h0M1638.2 464.4h0M1639.9 464.1h0M1663.7 464.2h0M1632 465.2h0M1633.1 465.5h0M1650.3 465.4h0M1681.1 465h0M1636.8 465.9h0M1639.1 465.5h0M1639.7 466.4h0M1640 466h0M1658.2 465.8h0M1678.5 466.1h0M1628.8 467.2h0M1633.5 466.7h0M1642.6 466.9h0M1643.1 467.2h0M1662.2 466.7h0M1688.2 466.7h0M1635.6 468h0M1637.3 468.3h0M1640.2 468h0M1647.9 468.4h0M1635.7 468.5h0M1638.3 469.2h0M1639.1 469.2h0M1640.7 469.2h0M1644.1 469.3h0M1630.4 470.1h0M1632.8 469.5h0M1635.1 470h0M1636.4 469.7h0M1638.9 469.6h0M1646.5 469.8h0M1627.4 470.7h0M1630.3 471.2h0M1632.1 471.4h0M1633 471.2h0M1635.4 471.4h0M1637.4 471.3h0M1645.7 470.5h0M1630.8 471.5h0M1632.6 472.2h0M1635.3 471.7h0M1637.4 472.3h0M1641.2 471.6h0M1663.6 472h0M1679.3 472.3h0M2026.2 472.3h0M1632.4 472.8h0M1637.7 472.7h0M1638.7 472.6h0M1639.9 472.6h0M1640 472.6h0M1651.8 472.6h0M1892.8 473.2h0M1628.1 474.1h0M1628.9 474.4h0M1633.9 473.8h0M1641.4 473.7h0M1634.1 475.2h0M1635.6 475.2h0M1638.7 475h0M1639.2 475h0M1648.6 474.6h0M1895.6 475.1h0M1904.8 475.1h0M1932.9 474.6h0M2006.5 474.6h0M1632 475.9h0M1634.3 476h0M1635.5 476h0M1636.1 476.4h0M1639.3 475.8h0M1646.3 475.9h0M1632.4 476.9h0M1633.9 477.2h0M1635.2 476.6h0M1635.9 477.4h0M1636.5 476.8h0M1637 477.1h0M1638.5 476.6h0M1641.4 476.7h0M1630.8 478.1h0M1634.2 477.6h0M1636 477.6h0M1644.2 477.7h0M1646.7 477.6h0M1663.8 478.4h0M1628 478.6h0M1633 478.9h0M1633.5 479.4h0M1635.1 478.8h0M1637.4 479.2h0M1644.9 479h0M1655.5 479.3h0M1632.2 479.6h0M1633.8 480h0M1634.2 479.5h0M1639.4 480.5h0M1633.2 480.5h0M1636.4 480.8h0M1643.9 480.8h0M1650.9 480.5h0M1671.8 480.5h0M1627.8 481.8h0M1628.2 481.6h0M1637.2 482.1h0M1637.7 482h0M1646.4 481.8h0M1651.9 482.4h0M1655.6 481.9h0M1655.9 482h0M1678 481.8h0M1629 483.1h0M1632.7 483.3h0M1633 482.5h0M1634.5 482.8h0M1636.5 483.3h0M1637.2 483.3h0M1649 483.5h0M1671.8 482.7h0M1627.8 483.9h0M1629.2 483.7h0M1629.5 483.7h0M1632.5 483.7h0M1639.4 483.9h0M1641.3 484.5h0M1645.4 484h0M1653.3 484.2h0M1656.6 484.1h0M1660.6 483.9h0M1629.9 484.9h0M1631.4 485h0M1640.4 484.8h0M1642.3 485.5h0M1666.1 485.4h0M1627.7 485.5h0M1628.5 485.6h0M1629.2 485.7h0M1638 485.6h0M1642.7 486h0M1657.2 486.5h0M1664.2 485.8h0M1665.6 485.5h0M1632 487h0M1639.1 487h0M1642.7 486.5h0M1643.2 486.8h0M1627.4 488.3h0M1628 488.1h0M1629.8 488.1h0M1629.9 488.1h0M1635.9 488h0M1637.1 487.5h0M1638.1 487.8h0M1647.8 487.7h0M1647.9 488.4h0M1660 487.5h0M1678.5 488.4h0M1628.2 489.2h0M1628.6 489.1h0M1628.8 489.5h0M1631.6 488.5h0M1635.7 488.8h0M1636.5 488.8h0M1640 489.2h0M1642.2 489h0M1657.2 488.8h0M1667.4 488.8h0M1719.5 489.2h0M1629.9 490.3h0M1631 489.6h0M1637.5 490.1h0M1637.6 489.7h0M1642.6 489.7h0M1629.2 491h0M1631.3 491h0M1631.9 491h0M1632.4 491.3h0M1635.5 491.3h0M1637 491.3h0M1639.5 491.2h0M1647.5 491.5h0M1648.4 490.6h0M1648.7 490.6h0M1650.9 491.1h0M1628.6 492.2h0M1636.4 492.1h0M1643.2 492.5h0M1646.9 491.7h0M1658.5 492.2h0M1627.3 493.1h0M1630.1 493.4h0M1633.7 493.1h0M1637.2 492.8h0M1644.8 493.4h0M1668.2 492.8h0M1892.8 492.5h0M1971.4 493.4h0M1630.3 494.4h0M1632.7 494.4h0M1635.8 494.3h0M1658.2 494.1h0M1666.6 494.4h0M1669.1 493.7h0M1672.8 493.9h0M1914.4 494.2h0M1629.4 494.7h0M1632.5 494.9h0M1637.4 495.1h0M1638.2 495.3h0M1646.6 495.2h0M1635.3 496.4h0M1643.4 495.9h0M1649.9 496.2h0M1667.5 495.9h0M1899.2 496.2h0M1627 496.9h0M1635 497.2h0M1643.2 496.8h0M1643.9 496.6h0M1661.4 496.7h0M1724.3 497h0M1630.2 498h0M1631.5 497.5h0M1631.8 498.2h0M1632 498.1h0M1632.6 498.1h0M1633.6 497.6h0M1641.7 498.4h0M1643.2 497.9h0M1667 498.1h0M1627.2 498.6h0M1627.6 499.4h0M1631.2 499.3h0M1632.7 499.3h0M1636.3 499.1h0M1636.4 498.6h0M1641.6 498.7h0M1644 498.7h0M1645.1 499.4h0M1664.7 499.2h0M1628.3 499.8h0M1632.5 499.9h0M1658.5 499.6h0M1626.4 501.3h0M1633.1 500.9h0M1633.4 500.7h0M1637.9 500.7h0M1638.1 500.7h0M1638.3 500.7h0M1651.8 500.5h0M1662.2 500.6h0M1629.5 501.7h0M1637.5 501.7h0M1647.7 502.4h0M1657.2 502.4h0M1627 502.9h0M1628 503.2h0M1628.7 503.2h0M1631.7 502.8h0M1633.1 503.5h0M1633.5 502.5h0M1636.3 503.3h0M1638.6 503h0M1639.1 502.5h0M1642.2 503.3h0M1642.8 503h0M1644.2 503.4h0M1646.6 503h0M1710.2 502.7h0M1633.8 504.1h0M1635.6 503.8h0M1635.8 503.9h0M1636.2 503.9h0M1637.7 504.1h0M1640.5 504.1h0M1743.4 504.3h0M1628.7 504.5h0M1631.1 505.2h0M1631.4 505h0M1637.6 504.7h0M1654.7 504.7h0M1625.6 506.2h0M1626.9 506h0M1631.2 506.1h0M1635.2 505.9h0M1638.5 505.9h0M1640.5 505.9h0M1641.4 505.7h0M1641.9 506.4h0M1648 506.3h0M1654.9 506.3h0M1627.4 506.7h0M1632.7 506.8h0M1634.7 506.7h0M1637.3 507.4h0M1642.8 507h0M1651.9 506.7h0M1667.7 507.2h0M1680.8 507.4h0M1682.7 506.9h0M1913 507.4h0M1958.8 506.9h0M1630.9 508.4h0M1633.1 508h0M1641.1 507.8h0M1643.7 508.4h0M1646.5 508.3h0M1625.9 509.2h0M1631.9 508.6h0M1631.9 509.1h0M1633 509.3h0M1635.4 509.3h0M1659.3 508.8h0M1633.4 509.6h0M1634.5 509.7h0M1638.1 509.8h0M1640 509.5h0M1971.4 509.7h0M1625.7 511h0M1626.4 510.7h0M1629.4 510.9h0M1630.5 511.1h0M1630.7 510.5h0M1632.6 510.7h0M1635.9 511.2h0M1651.8 510.6h0M1628.4 512.3h0M1631.7 512.4h0M1634.3 512.4h0M1652.4 512.4h0M1654.6 511.6h0M1658.6 512.1h0M1668.9 512.3h0M1627 512.7h0M1629.4 513.4h0M1630 513.2h0M1632.8 512.6h0M1632.9 513.2h0M1636.9 513h0M1638 513h0M1647.1 513h0M1648.1 513.1h0M1651.6 512.8h0M1658.9 513.2h0M1625.1 514.5h0M1628.8 513.6h0M1637 513.7h0M1639 513.7h0M1648.9 513.6h0M1666.7 514h0M1673.7 513.9h0M1626.8 514.9h0M1630.6 515.4h0M1631.2 514.7h0M1631.8 515h0M1635.4 515.4h0M1639 515.3h0M1639.1 515h0M1644.2 515h0M1652.2 515.2h0M1633.8 516.3h0M1638.4 515.5h0M1639.6 515.8h0M1639.9 515.7h0M1645.6 516.3h0M1651.5 516.3h0M1702.4 516.1h0M1625.5 517.3h0M1626.9 516.5h0M1629.2 517.1h0M1630 516.5h0M1631.5 517.3h0M1634.3 516.7h0M1643.3 516.9h0M1626.4 517.9h0M1627.6 517.5h0M1630.8 518.1h0M1631.9 517.7h0M1632.5 517.6h0M1633.4 517.9h0M1633.7 517.5h0M1647.4 517.9h0M1656.9 517.5h0M1624.9 518.7h0M1632.3 518.7h0M1633 519.4h0M1636 519.2h0M1641.7 519.2h0M1642.5 518.7h0M1645.8 518.8h0M1652.5 519h0M1628.1 519.6h0M1630.8 519.9h0M1634.3 519.9h0M1635.6 519.8h0M1641.2 519.9h0M1642.4 520.5h0M1651.9 520.3h0M1626.6 520.6h0M1626.8 520.6h0M1628 520.5h0M1628.6 521.5h0M1630.2 521.2h0M1633.2 521.2h0M1633.4 520.6h0M1635.5 521.3h0M1635.6 521.1h0M1639.8 520.9h0M1641.2 520.6h0M1649 521h0M1651 521.4h0M1657.9 521.4h0M1630.9 521.7h0M1632 521.5h0M1634.9 521.7h0M1635.6 522.3h0M1637.4 522.5h0M1638 521.6h0M1639.7 522h0M1640.6 521.7h0M1641.8 521.9h0M1642.9 522.3h0M1651.5 521.9h0M1652.3 521.7h0M1653.4 521.8h0M1669.2 522.3h0M1627.2 522.8h0M1628.3 523.5h0M1628.7 522.9h0M1631.4 523.4h0M1634.1 523.1h0M1643.2 523.3h0M1645.5 522.7h0M1657 523.4h0M1671.1 523.1h0M1867.5 522.9h0M1626.8 524.3h0M1633 524.3h0M1633.7 523.9h0M1634.8 524h0M1636.5 524.2h0M1645.7 523.5h0M1670.1 524.3h0M1881.5 524.3h0M1629.9 525.1h0M1630.6 525h0M1631.4 524.7h0M1632.5 525.2h0M1633.4 525.1h0M1639 525h0M1648.5 525.3h0M1648.8 524.5h0M1649.3 525.2h0M1653.1 525.1h0M1626.3 526.4h0M1629.3 525.6h0M1629.3 526.5h0M1631.2 526.2h0M1631.7 526.5h0M1637 525.6h0M1643.7 525.6h0M1646.8 526.3h0M1657.2 525.7h0M1732.1 525.7h0M1625 527.1h0M1626.2 526.9h0M1627.9 527h0M1628.2 526.7h0M1629.7 527.3h0M1633.7 527.2h0M1634.7 526.6h0M1634.8 526.5h0M1636.4 527.3h0M1636.4 526.9h0M1637.7 527.2h0M1639.8 527.5h0M1643.5 527h0M1643.5 527.5h0M1647.3 527.3h0M1650.3 527.1h0M1661.8 526.6h0M1667.8 527.2h0M1627 528.2h0M1627.6 527.9h0M1638.8 528.2h0M1638.8 528.4h0M1640.1 528.2h0M1646.9 527.8h0M1652.9 528.2h0M1626.1 529.3h0M1627 529.5h0M1629.3 529.4h0M1630.8 528.6h0M1632.2 529.2h0M1632.3 529.4h0M1643.6 528.7h0M1651.3 529.5h0M1660.7 529h0M1671.6 528.5h0M1635 529.5h0M1637.4 529.6h0M1638.9 530.5h0M1641.5 529.5h0M1659 530.1h0M1661.7 530.2h0M1624.6 531.5h0M1628.3 531.4h0M1631.6 531.4h0M1635.4 531.3h0M1638.8 530.6h0M1645.1 530.8h0M1661.6 531.4h0M1893.6 531.3h0M1627.1 531.9h0M1627.1 531.8h0M1630.5 532.2h0M1631.3 531.9h0M1632.4 532.1h0M1632.8 531.6h0M1633.7 531.7h0M1639.7 531.9h0M1639.8 531.5h0M1639.9 531.8h0M1646 531.7h0M1646.5 531.8h0M1650.5 532.5h0M1652.2 531.5h0M1653.9 532.4h0M1660.2 531.9h0M1662.5 532.2h0M1687.7 532.1h0M1624.1 533.3h0M1628.6 533h0M1628.6 532.8h0M1628.8 532.7h0M1629.4 533.2h0M1633.6 533.1h0M1633.9 532.6h0M1634.7 532.9h0M1635.6 532.9h0M1640.6 532.7h0M1641 532.6h0M1642.3 533.4h0M1644.1 533.5h0M1644.9 533.1h0M1649.8 532.5h0M1649.9 532.5h0M1656.1 533.2h0M1657.5 532.8h0M1673.9 533.1h0M1916.6 533.3h0M1626 534.3h0M1628.2 534h0M1631.9 534.1h0M1636 534.2h0M1639 534.1h0M1640.7 534.2h0M1642.7 534.4h0M1646.2 534.4h0M1647.2 534h0M1661.2 534.1h0M1677.9 533.5h0M1626.2 535h0M1626.5 535.3h0M1627.8 535.5h0M1628.1 535h0M1628.3 534.6h0M1631.9 535.1h0M1632 535.3h0M1634.3 535.3h0M1634.7 535.2h0M1638 534.6h0M1656.4 535.1h0M1671.5 534.5h0M1627.6 535.5h0M1629.9 535.7h0M1630.8 535.6h0M1635.2 535.6h0M1635.5 535.6h0M1635.9 535.7h0M1640.4 535.6h0M1641.5 535.9h0M1643 536.2h0M1646 535.9h0M1646.4 536.3h0M1647.6 536h0M1647.9 536.3h0M1663.6 536h0M1694 535.5h0M1850.6 536.1h0M1627 536.9h0M1629.5 537.2h0M1632 536.7h0M1640.6 536.7h0M1643.6 537.5h0M1647.2 537.3h0M1660.2 537h0M1624.9 538.2h0M1626.6 538h0M1628.6 537.8h0M1631.1 538h0M1635.4 537.8h0M1636.8 537.9h0M1644.1 538.2h0M1650.2 538h0M1657.3 538.2h0M1663 537.7h0M1626.3 539h0M1630.1 538.7h0M1630.8 539.3h0M1631.4 538.8h0M1631.4 538.6h0M1635.9 539.1h0M1643.4 539h0M1648.9 538.6h0M1653.7 539h0M1655 539.1h0M1624.9 540.3h0M1628.7 540.1h0M1628.9 540h0M1632.6 540.2h0M1638.6 540.2h0M1640.5 540.5h0M1652.2 540.5h0M1653.5 540.2h0M1665 539.7h0M1625 540.7h0M1626.4 541.1h0M1627.6 541.2h0M1628.5 541.1h0M1629.5 541.3h0M1636.3 541.2h0M1639.3 540.6h0M1642 540.8h0M1647.3 540.7h0M1677.4 541.4h0M1834.6 541.1h0M1626.8 542.3h0M1628.4 542.5h0M1629.9 541.8h0M1630.7 541.6h0M1632 542.4h0M1633.9 542h0M1634.3 542.4h0M1634.7 542h0M1635.7 542h0M1637.3 542.5h0M1637.5 542.2h0M1639.4 542h0M1641.9 541.9h0M1647.1 542h0M1852.1 542h0M1628.4 543.5h0M1631.4 542.5h0M1632.7 543.3h0M1633.1 543.2h0M1633.3 543.3h0M1633.8 542.9h0M1634.7 543.4h0M1638.8 543.4h0M1639.3 543.1h0M1642.6 543.4h0M1642.9 543h0M1645.8 543.3h0M1653.3 543.4h0M1653.7 542.8h0M1654.4 542.6h0M1933.5 542.5h0M1626.9 543.5h0M1628 544.4h0M1633.5 543.6h0M1636.4 543.8h0M1636.5 543.9h0M1636.7 543.9h0M1637.9 544h0M1639 543.8h0M1640.3 543.7h0M1641.9 544.1h0M1642.9 543.6h0M1646.3 543.9h0M1646.4 543.8h0M1652.7 543.6h0M1661.4 544.1h0M1719.5 543.9h0M1932.1 543.9h0M1632.3 544.8h0M1632.5 545.2h0M1636.1 545h0M1637.3 545h0M1642.5 545.4h0M1624.9 546.3h0M1626.2 545.5h0M1626.6 546.3h0M1631.4 546.3h0M1632.1 546.4h0M1632.5 546.2h0M1633 545.6h0M1634.3 545.8h0M1636.4 545.6h0M1639.5 546.2h0M1641.6 545.6h0M1644 545.8h0M1647.1 546.2h0M1657.7 546h0M1628.3 547.3h0M1629.5 547h0M1631.1 547.3h0M1635 547.1h0M1635.1 546.8h0M1639.7 547.3h0M1624.3 548.1h0M1625.8 547.9h0M1626.1 547.8h0M1630.1 548.5h0M1636.5 548h0M1638.4 548.5h0M1642.2 547.8h0M1643.9 547.8h0M1652.8 548h0M1623.3 549.4h0M1624.2 549h0M1625 548.6h0M1625.6 549.3h0M1628.2 549.5h0M1628.9 548.8h0M1631.3 549.3h0M1631.3 549.2h0M1632.5 548.7h0M1638 549.2h0M1641.4 549.3h0M1642.7 548.6h0M1645.3 549.3h0M1647 549.2h0M1667.5 548.8h0M1623.7 550.2h0M1626.4 550.3h0M1626.9 549.6h0M1628.6 550.4h0M1629.9 550h0M1630.2 550.5h0M1630.8 550h0M1631.8 550.2h0M1632.8 550.2h0M1632.9 550.4h0M1635.9 549.8h0M1638 549.8h0M1657.1 550h0M1657.2 549.9h0M1661.4 549.7h0M1625.3 551.2h0M1632.1 551.1h0M1633.4 550.7h0M1633.5 551.1h0M1633.7 551.5h0M1640.5 550.8h0M1641 551.3h0M1672.4 551.4h0M1884.9 551h0M1919.4 551h0M1984 551h0M1624.9 551.5h0M1625.5 552.3h0M1626.7 551.8h0M1631.2 552.2h0M1634.4 551.6h0M1634.5 551.8h0M1634.9 552.2h0M1637.7 551.9h0M1637.8 552.3h0M1639.3 552.2h0M1647.3 552.2h0M1650.6 552.2h0M1650.9 551.7h0M1657.8 551.9h0M1692.5 552.4h0M1918 552.4h0M1624.4 552.5h0M1625.4 552.8h0M1629.9 552.9h0M1630 553.4h0M1630 552.8h0M1635.3 553h0M1635.3 552.8h0M1639 552.9h0M1641.7 552.9h0M1646.6 553.1h0M1649.6 552.8h0M1653 552.8h0M1657.2 552.6h0M1859.9 553.2h0M1623.1 554h0M1626.2 553.6h0M1627.2 554.4h0M1628.8 553.9h0M1629 553.6h0M1630.7 553.7h0M1631.3 553.6h0M1633.3 553.8h0M1635.1 553.9h0M1635.7 554h0M1636.8 554.2h0M1638.9 554h0M1643.4 554.4h0M1644 554.1h0M1645.2 553.6h0M1683.6 553.8h0M1841.7 554.3h0M1866.1 553.8h0M1897 553.8h0M1624.3 554.6h0M1625.1 554.7h0M1625.7 555.2h0M1626.2 554.8h0M1627.9 554.7h0M1630.3 554.8h0M1631.8 555.4h0M1632.4 554.8h0M1633 554.7h0M1633.5 554.5h0M1637.9 554.8h0M1638.7 554.6h0M1639.1 554.9h0M1639.4 554.6h0M1642.3 555.4h0M1642.9 555.4h0M1644.6 554.8h0M1659.4 554.8h0M1672.5 554.8h0M1624.3 555.6h0M1626.7 555.6h0M1627 556h0M1627.6 555.9h0M1630.5 556.3h0M1632.2 555.9h0M1636.4 555.8h0M1643.1 555.8h0M1644.5 555.5h0M1652 555.9h0M1657.6 556h0M1657.6 555.8h0M1658 556.5h0M1663 556.4h0M1626.4 556.9h0M1627.2 556.9h0M1627.4 557.1h0M1627.5 556.9h0M1627.6 557.3h0M1628.6 556.7h0M1630 557h0M1630.9 556.8h0M1634.1 557.4h0M1637.5 557h0M1642.9 557.5h0M1652.7 557h0M1661.1 557.3h0M1818.4 557.1h0M1941.9 557.1h0M1624.1 558.4h0M1624.2 557.9h0M1625.9 558.4h0M1630.4 558.4h0M1631.4 557.7h0M1633.7 558.1h0M1633.7 557.7h0M1636.5 558.3h0M1636.5 558.1h0M1639.1 558.1h0M1642.6 557.8h0M1644.9 557.7h0M1647.2 558.5h0M1653.9 558.2h0M1654.8 558.4h0M1667.8 557.8h0M1675.5 558.3h0M1681.8 558.2h0M1623.1 559.4h0M1624.7 558.9h0M1625.2 558.9h0M1626.7 559h0M1628.8 558.9h0M1629.4 558.9h0M1630.5 559.4h0M1632 559.3h0M1634.5 559.1h0M1636.2 558.7h0M1642.1 559.3h0M1650.7 558.7h0M1652 558.8h0M1831.6 558.8h0M1874 558.8h0M1626.2 560.4h0M1626.7 559.8h0M1628.8 560.4h0M1630.2 559.5h0M1630.7 560.2h0M1631.4 559.7h0M1633.5 559.9h0M1639.7 559.6h0M1640.8 559.7h0M1642.5 560.3h0M1643.4 559.5h0M1643.7 559.6h0M1651.2 560.1h0M1652.1 560.1h0M1661 560.4h0M1675.8 559.7h0M1758.3 560.2h0M1881 560.2h0M1624.8 561.4h0M1625.2 561.5h0M1626.1 560.5h0M1626.3 561.3h0M1628.3 561.1h0M1628.5 561h0M1628.9 560.8h0M1630.4 561.3h0M1631.9 561.3h0M1633.2 560.7h0M1634.7 561.3h0M1635.7 561.4h0M1640.4 560.8h0M1647.8 560.9h0M1671.4 561.2h0M1847 561.1h0M1624.1 562.4h0M1624.5 562.1h0M1625.1 562.1h0M1625.1 562.3h0M1626.4 562.4h0M1631.2 561.8h0M1631.8 561.8h0M1632.3 561.8h0M1634.1 562.4h0M1634.1 562.3h0M1634.3 562.1h0M1636 562.4h0M1638 562.5h0M1643.8 562.4h0M1646.7 561.7h0M1651.5 562.4h0M1681.3 562.2h0M1691.4 562.2h0M1864.7 561.6h0M1930.7 561.6h0M1629.3 562.6h0M1657.8 562.7h0M1856.8 562.8h0" stroke="#ff2600" stroke-width="3.3" stroke-linecap="round" fill="none"/>
<path d="M1609.8 45V742.3" stroke="#111" stroke-width="1.4" fill="none"/>
<path d="M1127.4 563.0H2069" stroke="#ff3030" stroke-width="1.5" fill="none"/>
<g font-size="13.8" text-anchor="middle" fill="#ff2600">
<text x="1799.5" y="395.2">RT1-Da</text>
<text x="1658.0" y="415.1">Irf8</text>
<text x="1716.3" y="415.1">RT1-Ba</text>
<text x="1774.0" y="415.1">Cxcl10</text>
<text x="1971.3" y="417.6">Rbm15</text>
<text x="1689.7" y="436.7">Itgal</text>
<text x="1732.7" y="436.7">Cd74</text>
<text x="1790.3" y="439.5">Plac8</text>
<text x="1925.5" y="448.0">Sox17</text>
<text x="1645.2" y="459.2">Rsad2</text>
<text x="1693.1" y="459.2">Timp1</text>
<text x="1880.3" y="468.2">RT1-Db1</text>
<text x="2015.6" y="472.7">LOC103689965</text>
<text x="1719.2" y="478.3">C3</text>
<text x="1651.7" y="478.3">Cd68</text>
<text x="1865.1" y="487.8">RT1-Bb</text>
<text x="1929.0" y="488.7">Kcnj9</text>
<text x="1685.9" y="497.7">Cxcl16</text>
<text x="1747.3" y="497.7">Cd22</text>
<text x="1628.8" y="504.7">Adamts1</text>
<text x="1865.5" y="508.9">Crtac1</text>
<text x="1940.9" y="509.2">Rhpn1</text>
<text x="1771.0" y="517.6">Cd74</text>
<text x="1648.9" y="524.3">Kcnn2</text>
<text x="1841.5" y="526.6">Ppil1</text>
<text x="1909.3" y="528.0">Sipa1</text>
<text x="1720.9" y="532.8">Wscd1</text>
<text x="1868.8" y="547.6">Il2rg</text>
<text x="1946.3" y="547.1">Plxna4</text>
<text x="1789.9" y="552.4">AABR07025140.1</text>
<text x="1655.5" y="563.1">Ccnd2</text>
<text x="1712.9" y="563.7">Bcl3</text>
<text x="1916.6" y="570.1">Lrp4</text>
<text x="1956.5" y="573.8">Lcp1</text>
<text x="1772.6" y="576.6">RT1-CE7</text>
<text x="1842.2" y="579.9">Ddi2</text>
<text x="1674.9" y="581.9">Prdm1</text>
</g>
<path d="M1774.8 390.9L1758.8 419.8M1689.7 458.8L1679.3 472.3M1665.3 455.5L1678.5 466.1M1655.5 501.8L1673.7 513.9M1669.5 521.5L1677.9 533.5M1694.0 535.5L1733.3 545.9M1818.4 557.1L1852.1 542.0M1859.1 521.5L1881.5 524.3" stroke="#ff2600" stroke-width="1.1" fill="none"/>
<g font-size="13.8" text-anchor="middle" fill="#0433ff">
<text x="1302.6" y="464.5">Lin7a</text>
<text x="1384.1" y="484.4">AABR07064873.1</text>
<text x="1284.0" y="522.7">Kmt2d</text>
<text x="1337.2" y="551.0">Exoc2</text>
<text x="1448.9" y="556.7">Lrguk</text>
<text x="1395.7" y="580.2">Sh2b1</text>
</g>
<path d="M1127.4 45V742.3H2069" stroke="#111" stroke-width="1.5" fill="none"/>
<text x="1121.1" y="716.5" font-size="16" text-anchor="end" fill="#4d4d4d">0</text>
<text x="1121.1" y="505.0" font-size="16" text-anchor="end" fill="#4d4d4d">1</text>
<text x="1121.1" y="293.5" font-size="16" text-anchor="end" fill="#4d4d4d">2</text>
<text x="1121.1" y="82.0" font-size="16" text-anchor="end" fill="#4d4d4d">3</text>
<text x="1365.2" y="762.0" font-size="16" text-anchor="middle" fill="#4d4d4d">-4</text>
<text x="1610.0" y="762.0" font-size="16" text-anchor="middle" fill="#4d4d4d">0</text>
<text x="1854.8" y="762.0" font-size="16" text-anchor="middle" fill="#4d4d4d">4</text>
<path d="M1124.2 710.8H1127.4M1124.2 499.3H1127.4M1124.2 287.8H1127.4M1124.2 76.3H1127.4M1365.2 742.3V745.7M1610.0 742.3V745.7M1854.8 742.3V745.7" stroke="#333" stroke-width="1.2" fill="none"/>
<text x="1598.2" y="783.5" font-size="20.2" text-anchor="middle">beta value (log2 fold change)</text>
<text transform="translate(1099.2 391.9) rotate(-90)" font-size="20" text-anchor="middle">-log10(FDR)</text>
<text x="1576.5" y="35.0" font-size="40.6" text-anchor="middle">Female DTE</text>
<text x="1045.0" y="78.0" font-size="62.5">b</text>
<text x="5.0" y="840.5" font-size="62.5">c</text>
<rect x="88.2" y="837" width="929" height="304.4" rx="3" fill="#fbfaf9" stroke="#000" stroke-width="6.4"/>
<path d="M88 962.2H1017M88 1075.6H1017" stroke="#000" stroke-width="6.4" fill="none"/>
<g font-size="41" font-weight="bold">
<text x="553.5" y="879.9" text-anchor="middle" font-size="41.25">Differentially Expressed Transcripts (DTE)</text>
<text x="638.5" y="938.4" text-anchor="middle">Male</text>
<text x="935.2" y="938.4" text-anchor="middle">Female</text>
<text x="99.5" y="1003.8">Upregulated</text>
<text x="638.8" y="1003.8" text-anchor="middle">990</text>
<text x="934.8" y="1003.8" text-anchor="middle">1,019</text>
<text x="99.5" y="1053.2">Downregulated</text>
<text x="638.8" y="1053.2" text-anchor="middle">1,544</text>
<text x="934.8" y="1053.2" text-anchor="middle">400</text>
<text x="100.8" y="1118.2">Total</text>
<text x="638.8" y="1118.2" text-anchor="middle">2,534</text>
<text x="934.8" y="1118.2" text-anchor="middle">1,419</text>
</g>
<text x="1301.5" y="850.6" font-size="62.5">d</text>
<circle cx="1526.4" cy="988.2" r="180.6" fill="#04a711"/>
<circle cx="1750.4" cy="988.2" r="180.6" fill="#d0f3d4"/>
<clipPath id="vc"><circle cx="1526.4" cy="988.2" r="180.6"/></clipPath>
<circle cx="1750.4" cy="988.2" r="180.6" fill="#55c95f" clip-path="url(#vc)"/>
<circle cx="1526.4" cy="988.2" r="180.6" fill="none" stroke="#000" stroke-width="5.2"/>
<circle cx="1750.4" cy="988.2" r="180.6" fill="none" stroke="#000" stroke-width="5.2"/>
<text x="1459.0" y="988.6" font-size="51.8" text-anchor="middle">2,208</text>
<text x="1640.6" y="988.6" font-size="51.2" text-anchor="middle">326</text>
<text x="1809.8" y="988.6" font-size="51.2" text-anchor="middle">1,093</text>
<text x="1473.8" y="1041.6" font-size="30.8" text-anchor="middle">(60.9%)</text>
<text x="1637.2" y="1027.2" font-size="30.4" text-anchor="middle">(9.0%)</text>
<text x="1819.0" y="1027.2" font-size="30.4" text-anchor="middle">(30.1%)</text>
<path d="M1637.8 1086.2V1217M539.3 1285.6L1637.8 1216L1605.8 1285.6" stroke="#000" stroke-width="3.5" fill="none" stroke-linejoin="miter"/>
<text x="1651.5" y="1215.6" font-size="34.2">Pathway analysis on</text>
<text x="1651.5" y="1255.8" font-size="34.2">overlapping transcripts</text>
<text x="4.0" y="1300.8" font-size="62.5">e</text>
<rect x="299.2" y="1321.4" width="568.4" height="892.4" fill="#fff"/>
<path d="M346.7 1321.4V2213.8M461.9 1321.4V2213.8M577.2 1321.4V2213.8M692.4 1321.4V2213.8M807.7 1321.4V2213.8" stroke="#f0f0f0" stroke-width="1" fill="none"/>
<path d="M404.3 1321.4V2213.8M519.5 1321.4V2213.8M634.8 1321.4V2213.8M750.0 1321.4V2213.8M865.3 1321.4V2213.8M299.2 1347.6H867.6M299.2 1391.9H867.6M299.2 1436.2H867.6M299.2 1480.4H867.6M299.2 1524.7H867.6M299.2 1569.0H867.6M299.2 1613.3H867.6M299.2 1657.6H867.6M299.2 1701.8H867.6M299.2 1746.1H867.6M299.2 1790.4H867.6M299.2 1834.7H867.6M299.2 1879.0H867.6M299.2 1923.2H867.6M299.2 1967.5H867.6M299.2 2011.8H867.6M299.2 2056.1H867.6M299.2 2100.4H867.6M299.2 2144.6H867.6M299.2 2188.9H867.6" stroke="#e6e6e6" stroke-width="1.6" fill="none"/>
<circle cx="842.2" cy="1347.6" r="19.6" fill="#ff2600"/>
<circle cx="623.3" cy="1391.9" r="17.2" fill="#ff2600"/>
<circle cx="531.1" cy="1436.2" r="15.4" fill="#ff2600"/>
<circle cx="496.5" cy="1480.4" r="14.6" fill="#ff2600"/>
<circle cx="473.5" cy="1524.7" r="14.1" fill="#ff2600"/>
<circle cx="438.9" cy="1569.0" r="13.4" fill="#ff2600"/>
<circle cx="438.9" cy="1613.3" r="13.4" fill="#c7268c"/>
<circle cx="427.4" cy="1657.6" r="13.1" fill="#ec2541"/>
<circle cx="427.4" cy="1701.8" r="13.1" fill="#8f2bc4"/>
<circle cx="404.3" cy="1746.1" r="12.6" fill="#d9265f"/>
<circle cx="381.2" cy="1790.4" r="12.0" fill="#f4242a"/>
<circle cx="369.7" cy="1834.7" r="11.6" fill="#ff2600"/>
<circle cx="358.2" cy="1879.0" r="11.0" fill="#ff2600"/>
<circle cx="346.7" cy="1923.2" r="10.4" fill="#ff2600"/>
<circle cx="346.7" cy="1967.5" r="10.4" fill="#f2242f"/>
<circle cx="335.2" cy="2011.8" r="9.8" fill="#fb2418"/>
<circle cx="335.2" cy="2056.1" r="9.8" fill="#f0242f"/>
<circle cx="335.2" cy="2100.4" r="9.8" fill="#c9268a"/>
<circle cx="323.6" cy="2144.6" r="8.2" fill="#a82ab8"/>
<circle cx="323.6" cy="2188.9" r="8.2" fill="#0433ff"/>
<rect x="299.2" y="1321.4" width="568.4" height="892.4" fill="none" stroke="#7a7a7a" stroke-width="1.5"/>
<text x="404.3" y="2245.2" font-size="23.2" text-anchor="middle" fill="#111">10</text>
<text x="519.5" y="2245.2" font-size="23.2" text-anchor="middle" fill="#111">20</text>
<text x="634.8" y="2245.2" font-size="23.2" text-anchor="middle" fill="#111">30</text>
<text x="750.0" y="2245.2" font-size="23.2" text-anchor="middle" fill="#111">40</text>
<text x="865.3" y="2245.2" font-size="23.2" text-anchor="middle" fill="#111">50</text>
<path d="M292.8 1347.6H298.5M292.8 1391.9H298.5M292.8 1436.2H298.5M292.8 1480.4H298.5M292.8 1524.7H298.5M292.8 1569.0H298.5M292.8 1613.3H298.5M292.8 1657.6H298.5M292.8 1701.8H298.5M292.8 1746.1H298.5M292.8 1790.4H298.5M292.8 1834.7H298.5M292.8 1879.0H298.5M292.8 1923.2H298.5M292.8 1967.5H298.5M292.8 2011.8H298.5M292.8 2056.1H298.5M292.8 2100.4H298.5M292.8 2144.6H298.5M292.8 2188.9H298.5M404.3 2214.5V2220.0M519.5 2214.5V2220.0M634.8 2214.5V2220.0M750.0 2214.5V2220.0M865.3 2214.5V2220.0" stroke="#333" stroke-width="1.5" fill="none"/>
<text x="583.4" y="2274.2" font-size="25.2" text-anchor="middle" fill="#111">Count</text>
<g font-size="20.4" text-anchor="end" fill="#1a1a1a">
<text transform="translate(287.5 1355.5) scale(0.942 1)">immune effector process</text>
<text transform="translate(287.5 1399.8) scale(0.942 1)">regulation of cell activation</text>
<text transform="translate(287.5 1444.1) scale(0.942 1)">leukocyte migration</text>
<text transform="translate(287.5 1488.3) scale(0.942 1)">leukocyte cell-cell adhesion</text>
<text transform="translate(287.5 1532.6) scale(0.942 1)">phagocytosis</text>
<text transform="translate(287.5 1556.5) scale(0.942 1)">positive regulation of DNA-</text>
<text transform="translate(287.5 1576.9) scale(0.942 1)">binding transcription factor</text>
<text transform="translate(287.5 1597.3) scale(0.942 1)">activity</text>
<text transform="translate(287.5 1621.2) scale(0.942 1)">aging</text>
<text transform="translate(287.5 1665.5) scale(0.942 1)">symbiotic process</text>
<text transform="translate(287.5 1709.7) scale(0.942 1)">neuron death</text>
<text transform="translate(287.5 1754.0) scale(0.942 1)">response to corticosteroid</text>
<text transform="translate(287.5 1798.3) scale(0.942 1)">coagulation</text>
<text transform="translate(287.5 1842.6) scale(0.942 1)">lysosome localization</text>
<text transform="translate(287.5 1886.9) scale(0.942 1)">superoxide anion generation</text>
<text transform="translate(287.5 1931.1) scale(0.942 1)">cell junction disassembly</text>
<text transform="translate(287.5 1965.2) scale(0.942 1)">negative regulation of</text>
<text transform="translate(287.5 1985.6) scale(0.942 1)">leukocyte apoptotic process</text>
<text transform="translate(287.5 2019.7) scale(0.942 1)">integrin activation</text>
<text transform="translate(287.5 2064.0) scale(0.942 1)">respiratory burst</text>
<text transform="translate(287.5 2108.3) scale(0.942 1)">response to exogenous dsRNA</text>
<text transform="translate(287.5 2152.5) scale(0.942 1)">serotonin secretion</text>
<text transform="translate(287.5 2176.4) scale(0.942 1)">regulation of syncytium</text>
<text transform="translate(287.5 2196.8) scale(0.942 1)">formation by plasma membrane</text>
<text transform="translate(287.5 2217.2) scale(0.942 1)">fusion</text>
</g>
<text x="295.6" y="1300.2" font-size="41" font-weight="bold">Upregulated</text>
<text transform="translate(903.4 1578.6) scale(1.000 1)" font-size="23.2" fill="#111">GeneRatio</text>
<circle cx="925.8" cy="1609.8" r="13.6" fill="#000"/>
<text x="960.0" y="1617.4" font-size="18.6" fill="#1a1a1a">0.1</text>
<circle cx="925.8" cy="1648.5" r="16.1" fill="#000"/>
<text x="960.0" y="1656.1" font-size="18.6" fill="#1a1a1a">0.2</text>
<circle cx="925.8" cy="1691.2" r="18.4" fill="#000"/>
<text x="960.0" y="1698.8" font-size="18.6" fill="#1a1a1a">0.3</text>
<text transform="translate(903.4 1780.8) scale(1.000 1)" font-size="23.2" fill="#111">qvalue</text>
<linearGradient id="gq1" x1="0" y1="0" x2="0" y2="1"><stop offset="0" stop-color="#ff2600"/><stop offset="0.5" stop-color="#c4288f"/><stop offset="1" stop-color="#1a38ff"/></linearGradient>
<rect x="903.4" y="1794.2" width="36.5" height="183.6" fill="url(#gq1)"/>
<text x="951.8" y="1856.1" font-size="18.6" fill="#1a1a1a">0.002</text>
<text x="951.8" y="1910.9" font-size="18.6" fill="#1a1a1a">0.004</text>
<text x="951.8" y="1966.0" font-size="18.6" fill="#1a1a1a">0.006</text>
<path d="M903.4 1849.3h7.2M939.9 1849.3h-7.2M903.4 1904.1h7.2M939.9 1904.1h-7.2M903.4 1959.2h7.2M939.9 1959.2h-7.2" stroke="#fff" stroke-width="1.4" stroke-opacity="0.75" fill="none"/>
<rect x="1306.0" y="1321.4" width="593.8" height="892.4" fill="#fff"/>
<path d="M1314.7 1321.4V2213.8M1494.8 1321.4V2213.8M1675.0 1321.4V2213.8M1855.1 1321.4V2213.8" stroke="#f0f0f0" stroke-width="1" fill="none"/>
<path d="M1404.8 1321.4V2213.8M1584.9 1321.4V2213.8M1765.0 1321.4V2213.8M1306.0 1347.4H1899.8M1306.0 1391.7H1899.8M1306.0 1436.0H1899.8M1306.0 1480.2H1899.8M1306.0 1524.5H1899.8M1306.0 1568.8H1899.8M1306.0 1613.1H1899.8M1306.0 1657.4H1899.8M1306.0 1701.6H1899.8M1306.0 1745.9H1899.8M1306.0 1790.2H1899.8M1306.0 1834.5H1899.8M1306.0 1878.8H1899.8M1306.0 1923.0H1899.8M1306.0 1967.3H1899.8M1306.0 2011.6H1899.8M1306.0 2055.9H1899.8M1306.0 2100.2H1899.8M1306.0 2144.4H1899.8M1306.0 2188.7H1899.8" stroke="#e6e6e6" stroke-width="1.6" fill="none"/>
<circle cx="1873.1" cy="1347.4" r="19.7" fill="#ff2600"/>
<circle cx="1837.1" cy="1391.7" r="19.0" fill="#ff2600"/>
<circle cx="1801.1" cy="1436.0" r="18.5" fill="#ff2600"/>
<circle cx="1693.0" cy="1480.2" r="17.2" fill="#f92419"/>
<circle cx="1693.0" cy="1524.5" r="17.2" fill="#e72446"/>
<circle cx="1657.0" cy="1568.8" r="17.0" fill="#f2242b"/>
<circle cx="1620.9" cy="1613.1" r="16.5" fill="#e7264b"/>
<circle cx="1584.9" cy="1657.4" r="16.0" fill="#ff2600"/>
<circle cx="1548.9" cy="1701.6" r="15.3" fill="#f0243a"/>
<circle cx="1548.9" cy="1745.9" r="15.3" fill="#e82647"/>
<circle cx="1548.9" cy="1790.2" r="15.3" fill="#e52648"/>
<circle cx="1512.8" cy="1834.5" r="14.2" fill="#da2661"/>
<circle cx="1476.8" cy="1878.8" r="13.5" fill="#ff2600"/>
<circle cx="1476.8" cy="1923.0" r="13.5" fill="#b129a5"/>
<circle cx="1476.8" cy="1967.3" r="13.5" fill="#0433ff"/>
<circle cx="1440.8" cy="2011.6" r="13.0" fill="#f82424"/>
<circle cx="1332.7" cy="2055.9" r="8.2" fill="#e6264a"/>
<circle cx="1332.7" cy="2100.2" r="8.2" fill="#e6264a"/>
<circle cx="1332.7" cy="2144.4" r="8.2" fill="#0a33fc"/>
<circle cx="1332.7" cy="2188.7" r="8.2" fill="#0a33fc"/>
<rect x="1306.0" y="1321.4" width="593.8" height="892.4" fill="none" stroke="#7a7a7a" stroke-width="1.5"/>
<text x="1404.8" y="2245.2" font-size="23.2" text-anchor="middle" fill="#111">5</text>
<text x="1584.9" y="2245.2" font-size="23.2" text-anchor="middle" fill="#111">10</text>
<text x="1765.0" y="2245.2" font-size="23.2" text-anchor="middle" fill="#111">15</text>
<path d="M1299.6 1347.4H1305.3M1299.6 1391.7H1305.3M1299.6 1436.0H1305.3M1299.6 1480.2H1305.3M1299.6 1524.5H1305.3M1299.6 1568.8H1305.3M1299.6 1613.1H1305.3M1299.6 1657.4H1305.3M1299.6 1701.6H1305.3M1299.6 1745.9H1305.3M1299.6 1790.2H1305.3M1299.6 1834.5H1305.3M1299.6 1878.8H1305.3M1299.6 1923.0H1305.3M1299.6 1967.3H1305.3M1299.6 2011.6H1305.3M1299.6 2055.9H1305.3M1299.6 2100.2H1305.3M1299.6 2144.4H1305.3M1299.6 2188.7H1305.3M1404.8 2214.5V2220.0M1584.9 2214.5V2220.0M1765.0 2214.5V2220.0" stroke="#333" stroke-width="1.5" fill="none"/>
<text x="1602.9" y="2274.2" font-size="25.2" text-anchor="middle" fill="#111">Count</text>
<g font-size="20.4" text-anchor="end" fill="#1a1a1a">
<text transform="translate(1295.0 1345.1) scale(0.942 1)">regulation of trans-synaptic</text>
<text transform="translate(1295.0 1365.5) scale(0.942 1)">signaling</text>
<text transform="translate(1295.0 1389.4) scale(0.942 1)">vesicle-mediated transport in</text>
<text transform="translate(1295.0 1409.8) scale(0.942 1)">synapse</text>
<text transform="translate(1295.0 1443.9) scale(0.942 1)">neurotransmitter transport</text>
<text transform="translate(1295.0 1488.1) scale(0.942 1)">calcium ion homeostasis</text>
<text transform="translate(1295.0 1532.4) scale(0.942 1)">synapse organization</text>
<text transform="translate(1295.0 1566.5) scale(0.942 1)">positive regulation of neuron</text>
<text transform="translate(1295.0 1586.9) scale(0.942 1)">projection development</text>
<text transform="translate(1295.0 1610.8) scale(0.942 1)">protein localization to cell</text>
<text transform="translate(1295.0 1631.2) scale(0.942 1)">periphery</text>
<text transform="translate(1295.0 1665.3) scale(0.942 1)">calcium-mediated signaling</text>
<text transform="translate(1295.0 1709.5) scale(0.942 1)">locomotory behavior</text>
<text transform="translate(1295.0 1753.8) scale(0.942 1)">muscle contraction</text>
<text transform="translate(1295.0 1787.9) scale(0.942 1)">regulation of transporter</text>
<text transform="translate(1295.0 1808.3) scale(0.942 1)">activity</text>
<text transform="translate(1295.0 1832.2) scale(0.942 1)">regulation of blood</text>
<text transform="translate(1295.0 1852.6) scale(0.942 1)">circulation</text>
<text transform="translate(1295.0 1866.3) scale(0.942 1)">regulation of calcium ion</text>
<text transform="translate(1295.0 1886.7) scale(0.942 1)">transmembrane transporter</text>
<text transform="translate(1295.0 1907.1) scale(0.942 1)">activity</text>
<text transform="translate(1295.0 1920.7) scale(0.942 1)">cellular response to</text>
<text transform="translate(1295.0 1941.1) scale(0.942 1)">carbohydrate stimulus</text>
<text transform="translate(1295.0 1975.2) scale(0.942 1)">response to ethanol</text>
<text transform="translate(1295.0 2019.5) scale(0.942 1)">response to cocaine</text>
<text transform="translate(1295.0 2063.8) scale(0.942 1)">melanosome transport</text>
<text transform="translate(1295.0 2108.1) scale(0.942 1)">pigment granule transport</text>
<text transform="translate(1295.0 2152.3) scale(0.942 1)">response to muscle activity</text>
<text transform="translate(1295.0 2196.6) scale(0.942 1)">estrous cycle</text>
</g>
<text x="1303.6" y="1300.2" font-size="41" font-weight="bold">Downregulated</text>
<text transform="translate(1935.4 1540.4) scale(1.000 1)" font-size="23.2" fill="#111">GeneRatio</text>
<circle cx="1958.0" cy="1571.7" r="9.0" fill="#000"/>
<text x="1992.7" y="1579.3" font-size="18.6" fill="#1a1a1a">0.03</text>
<circle cx="1958.0" cy="1608.4" r="13.4" fill="#000"/>
<text x="1992.7" y="1616.0" font-size="18.6" fill="#1a1a1a">0.06</text>
<circle cx="1958.0" cy="1645.5" r="15.8" fill="#000"/>
<text x="1992.7" y="1653.1" font-size="18.6" fill="#1a1a1a">0.09</text>
<circle cx="1958.0" cy="1685.4" r="17.2" fill="#000"/>
<text x="1992.7" y="1693.0" font-size="18.6" fill="#1a1a1a">0.12</text>
<circle cx="1958.0" cy="1729.2" r="18.7" fill="#000"/>
<text x="1992.7" y="1736.8" font-size="18.6" fill="#1a1a1a">0.15</text>
<text transform="translate(1935.4 1819.1) scale(1.000 1)" font-size="23.2" fill="#111">qvalue</text>
<linearGradient id="gq2" x1="0" y1="0" x2="0" y2="1"><stop offset="0" stop-color="#ff2600"/><stop offset="0.5" stop-color="#c4288f"/><stop offset="1" stop-color="#1a38ff"/></linearGradient>
<rect x="1935.4" y="1832.3" width="36.5" height="183.8" fill="url(#gq2)"/>
<text x="1983.4" y="1874.7" font-size="18.6" fill="#1a1a1a">0.005</text>
<text x="1983.4" y="1909.7" font-size="18.6" fill="#1a1a1a">0.010</text>
<text x="1983.4" y="1944.2" font-size="18.6" fill="#1a1a1a">0.015</text>
<text x="1983.4" y="1979.2" font-size="18.6" fill="#1a1a1a">0.020</text>
<text x="1983.4" y="2014.2" font-size="18.6" fill="#1a1a1a">0.025</text>
<path d="M1935.4 1867.9h7.2M1971.9 1867.9h-7.2M1935.4 1902.9h7.2M1971.9 1902.9h-7.2M1935.4 1937.4h7.2M1971.9 1937.4h-7.2M1935.4 1972.4h7.2M1971.9 1972.4h-7.2M1935.4 2007.4h7.2M1971.9 2007.4h-7.2" stroke="#fff" stroke-width="1.4" stroke-opacity="0.75" fill="none"/>
</svg>
</body>
</html>
